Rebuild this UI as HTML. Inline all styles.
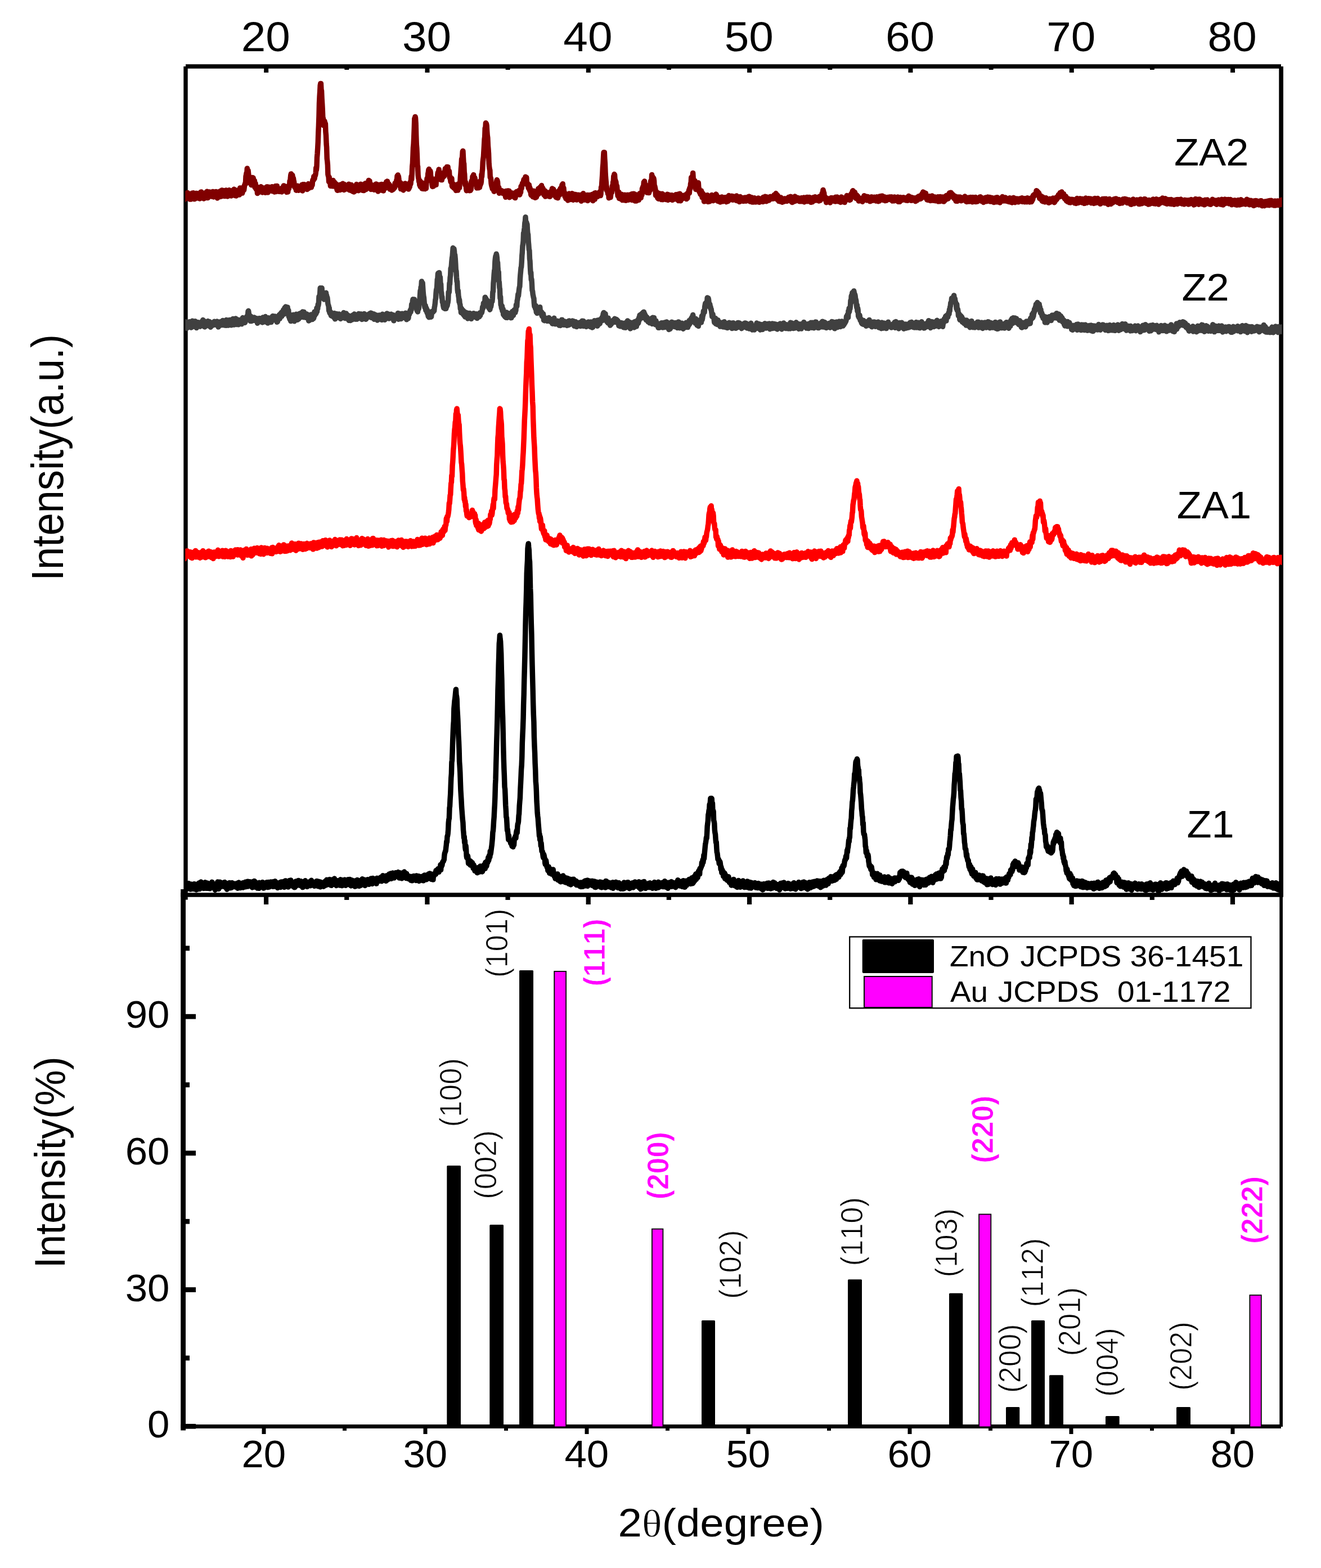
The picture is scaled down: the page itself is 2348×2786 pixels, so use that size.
<!DOCTYPE html>
<html lang="en"><head><meta charset="utf-8"><title>XRD patterns of Z1, ZA1, Z2 and ZA2</title>
<style>
html,body{margin:0;padding:0;background:#fff;}
body{width:2348px;height:2786px;overflow:hidden;}
svg{display:block;font-family:"Liberation Sans",sans-serif;}
svg text{font-kerning:none;font-variant-ligatures:none;white-space:pre;}
</style></head>
<body>
<svg width="2348" height="2786" viewBox="0 0 2348 2786">
<rect width="2348" height="2786" fill="#fff"/>
<rect x="326.30" y="118.00" width="7.40" height="1480.60" fill="#000"/>
<rect x="330.00" y="114.20" width="1947.00" height="7.60" fill="#000"/>
<rect x="2273.30" y="118.00" width="7.70" height="1472.00" fill="#000"/>
<rect x="321.20" y="1586.20" width="1959.80" height="7.60" fill="#000"/>
<rect x="321.20" y="1580.00" width="8.80" height="961.50" fill="#000"/>
<rect x="2274.30" y="1590.00" width="5.70" height="945.00" fill="#000"/>
<rect x="321.50" y="2531.00" width="1955.50" height="7.00" fill="#000"/>
<rect x="469.16" y="118.00" width="8.00" height="11.00" fill="#000"/>
<rect x="468.96" y="1590.00" width="8.20" height="17.00" fill="#000"/>
<rect x="465.50" y="2535.00" width="7.00" height="13.00" fill="#000"/>
<rect x="612.32" y="118.00" width="8.00" height="6.00" fill="#000"/>
<rect x="612.12" y="1590.00" width="8.20" height="9.00" fill="#000"/>
<rect x="609.00" y="2535.00" width="7.00" height="7.00" fill="#000"/>
<rect x="755.48" y="118.00" width="8.00" height="11.00" fill="#000"/>
<rect x="755.28" y="1590.00" width="8.20" height="17.00" fill="#000"/>
<rect x="752.50" y="2535.00" width="7.00" height="13.00" fill="#000"/>
<rect x="898.64" y="118.00" width="8.00" height="6.00" fill="#000"/>
<rect x="898.44" y="1590.00" width="8.20" height="9.00" fill="#000"/>
<rect x="896.00" y="2535.00" width="7.00" height="7.00" fill="#000"/>
<rect x="1041.80" y="118.00" width="8.00" height="11.00" fill="#000"/>
<rect x="1041.60" y="1590.00" width="8.20" height="17.00" fill="#000"/>
<rect x="1039.50" y="2535.00" width="7.00" height="13.00" fill="#000"/>
<rect x="1184.96" y="118.00" width="8.00" height="6.00" fill="#000"/>
<rect x="1184.76" y="1590.00" width="8.20" height="9.00" fill="#000"/>
<rect x="1183.00" y="2535.00" width="7.00" height="7.00" fill="#000"/>
<rect x="1328.12" y="118.00" width="8.00" height="11.00" fill="#000"/>
<rect x="1327.92" y="1590.00" width="8.20" height="17.00" fill="#000"/>
<rect x="1326.50" y="2535.00" width="7.00" height="13.00" fill="#000"/>
<rect x="1471.28" y="118.00" width="8.00" height="6.00" fill="#000"/>
<rect x="1471.08" y="1590.00" width="8.20" height="9.00" fill="#000"/>
<rect x="1470.00" y="2535.00" width="7.00" height="7.00" fill="#000"/>
<rect x="1614.44" y="118.00" width="8.00" height="11.00" fill="#000"/>
<rect x="1614.24" y="1590.00" width="8.20" height="17.00" fill="#000"/>
<rect x="1613.50" y="2535.00" width="7.00" height="13.00" fill="#000"/>
<rect x="1757.60" y="118.00" width="8.00" height="6.00" fill="#000"/>
<rect x="1757.40" y="1590.00" width="8.20" height="9.00" fill="#000"/>
<rect x="1757.00" y="2535.00" width="7.00" height="7.00" fill="#000"/>
<rect x="1900.76" y="118.00" width="8.00" height="11.00" fill="#000"/>
<rect x="1900.56" y="1590.00" width="8.20" height="17.00" fill="#000"/>
<rect x="1900.50" y="2535.00" width="7.00" height="13.00" fill="#000"/>
<rect x="2043.92" y="118.00" width="8.00" height="6.00" fill="#000"/>
<rect x="2043.72" y="1590.00" width="8.20" height="9.00" fill="#000"/>
<rect x="2044.00" y="2535.00" width="7.00" height="7.00" fill="#000"/>
<rect x="2187.08" y="118.00" width="8.00" height="11.00" fill="#000"/>
<rect x="2186.88" y="1590.00" width="8.20" height="17.00" fill="#000"/>
<rect x="2187.50" y="2535.00" width="7.00" height="13.00" fill="#000"/>
<rect x="326.00" y="2529.90" width="22.00" height="8.80" fill="#000"/>
<rect x="326.00" y="2408.55" width="11.00" height="8.80" fill="#000"/>
<rect x="326.00" y="2287.20" width="22.00" height="8.80" fill="#000"/>
<rect x="326.00" y="2165.85" width="11.00" height="8.80" fill="#000"/>
<rect x="326.00" y="2044.50" width="22.00" height="8.80" fill="#000"/>
<rect x="326.00" y="1923.15" width="11.00" height="8.80" fill="#000"/>
<rect x="326.00" y="1801.80" width="22.00" height="8.80" fill="#000"/>
<rect x="326.00" y="1680.45" width="11.00" height="8.80" fill="#000"/>
<rect x="794.3" y="2071.0" width="24.7" height="464.0" rx="1.5" fill="#000"/>
<rect x="870.3" y="2176.0" width="24.7" height="359.0" rx="1.5" fill="#000"/>
<rect x="923.0" y="1724.0" width="25.0" height="811.0" rx="1.5" fill="#000"/>
<rect x="1247.0" y="2346.0" width="24.0" height="189.0" rx="1.5" fill="#000"/>
<rect x="1507.0" y="2273.3" width="25.0" height="261.7" rx="1.5" fill="#000"/>
<rect x="1687.0" y="2297.7" width="24.3" height="237.3" rx="1.5" fill="#000"/>
<rect x="1788.0" y="2500.0" width="24.3" height="35.0" rx="1.5" fill="#000"/>
<rect x="1833.0" y="2346.0" width="24.0" height="189.0" rx="1.5" fill="#000"/>
<rect x="1865.0" y="2443.3" width="25.0" height="91.7" rx="1.5" fill="#000"/>
<rect x="1965.0" y="2516.0" width="24.7" height="19.0" rx="1.5" fill="#000"/>
<rect x="2091.0" y="2500.0" width="25.0" height="35.0" rx="1.5" fill="#000"/>
<rect x="985.2" y="1725.9" width="20.9" height="809.4" fill="#f0f" stroke="#000" stroke-width="1.8"/>
<rect x="1158.9" y="2183.6" width="19.5" height="351.7" fill="#f0f" stroke="#000" stroke-width="1.8"/>
<rect x="1740.1" y="2157.5" width="21.2" height="377.8" fill="#f0f" stroke="#000" stroke-width="1.8"/>
<rect x="2221.4" y="2301.2" width="20.4" height="234.1" fill="#f0f" stroke="#000" stroke-width="1.8"/>
<defs><clipPath id="cp"><rect x="329.3" y="122" width="1949.2" height="1478"/></clipPath></defs>
<g clip-path="url(#cp)">
<path d="M327.0,1568.2 327.6,1572.3 328.1,1573.9 328.7,1568.3 329.3,1570.5 329.8,1579.7 330.4,1570.2 331.0,1570.7 331.6,1579.8 332.1,1576.0 332.7,1573.1 333.3,1574.4 333.8,1575.7 334.4,1571.0 335.0,1569.5 335.5,1577.0 336.1,1576.0 336.7,1574.6 337.3,1578.3 337.8,1575.4 338.4,1580.1 339.0,1571.1 339.5,1574.6 340.1,1573.5 340.7,1571.9 341.2,1574.9 341.8,1571.5 342.4,1578.4 343.0,1579.5 343.5,1571.2 344.1,1574.9 344.7,1572.6 345.2,1570.5 345.8,1579.8 346.4,1574.9 346.9,1572.0 347.5,1578.1 348.1,1572.9 348.7,1580.9 349.2,1573.2 349.8,1571.0 350.4,1572.7 350.9,1574.1 351.5,1575.2 352.1,1579.7 352.6,1576.9 353.2,1572.6 353.8,1568.8 354.4,1570.3 354.9,1579.5 355.5,1573.1 356.1,1575.2 356.6,1567.6 357.2,1567.1 357.8,1576.2 358.3,1573.8 358.9,1571.3 359.5,1572.0 360.1,1569.8 360.6,1571.0 361.2,1569.5 361.8,1578.4 362.3,1573.6 362.9,1569.1 363.5,1575.4 364.0,1569.1 364.6,1567.7 365.2,1574.2 365.8,1578.3 366.3,1569.2 366.9,1578.3 367.5,1571.4 368.0,1570.1 368.6,1569.0 369.2,1571.8 369.7,1576.6 370.3,1574.2 370.9,1578.6 371.5,1571.6 372.0,1572.6 372.6,1571.5 373.2,1578.9 373.7,1577.9 374.3,1570.8 374.9,1571.8 375.4,1570.4 376.0,1575.2 376.6,1567.3 377.2,1567.6 377.7,1571.5 378.3,1570.0 378.9,1577.2 379.4,1576.7 380.0,1575.2 380.6,1577.2 381.1,1578.1 381.7,1579.5 382.3,1581.3 382.9,1572.4 383.4,1577.2 384.0,1571.1 384.6,1573.7 385.1,1576.6 385.7,1577.1 386.3,1575.1 386.8,1567.1 387.4,1571.3 388.0,1569.8 388.6,1579.5 389.1,1569.9 389.7,1570.5 390.3,1571.0 390.8,1567.2 391.4,1576.1 392.0,1573.5 392.5,1568.6 393.1,1572.7 393.7,1568.4 394.3,1574.7 394.8,1570.7 395.4,1568.8 396.0,1569.7 396.5,1574.5 397.1,1575.1 397.7,1571.0 398.2,1573.9 398.8,1570.0 399.4,1567.4 400.0,1569.6 400.5,1570.8 401.1,1577.1 401.7,1568.9 402.2,1569.4 402.8,1575.3 403.4,1580.2 403.9,1579.5 404.5,1576.9 405.1,1569.5 405.7,1577.5 406.2,1576.0 406.8,1569.8 407.4,1573.2 407.9,1568.5 408.5,1576.9 409.1,1576.3 409.6,1577.6 410.2,1577.5 410.8,1571.9 411.4,1577.2 411.9,1570.4 412.5,1568.6 413.1,1571.2 413.6,1572.5 414.2,1570.7 414.8,1575.0 415.3,1575.5 415.9,1571.6 416.5,1575.6 417.1,1572.1 417.6,1575.7 418.2,1570.1 418.8,1575.4 419.3,1571.0 419.9,1572.6 420.5,1574.0 421.0,1572.4 421.6,1569.8 422.2,1578.2 422.8,1568.8 423.3,1571.7 423.9,1574.2 424.5,1568.1 425.0,1569.0 425.6,1575.9 426.2,1575.8 426.7,1574.4 427.3,1577.6 427.9,1576.1 428.5,1570.9 429.0,1574.4 429.6,1570.6 430.2,1575.1 430.7,1571.1 431.3,1568.7 431.9,1577.1 432.4,1575.3 433.0,1576.0 433.6,1573.7 434.2,1575.9 434.7,1571.8 435.3,1572.9 435.9,1567.2 436.4,1572.8 437.0,1575.7 437.6,1574.4 438.1,1575.1 438.7,1571.2 439.3,1575.1 439.9,1566.2 440.4,1574.9 441.0,1569.4 441.6,1566.4 442.1,1572.2 442.7,1570.0 443.3,1569.4 443.8,1574.1 444.4,1566.7 445.0,1573.2 445.6,1572.1 446.1,1574.4 446.7,1574.4 447.3,1570.0 447.8,1573.7 448.4,1576.9 449.0,1568.6 449.5,1566.5 450.1,1566.7 450.7,1570.7 451.3,1576.1 451.8,1565.4 452.4,1576.0 453.0,1571.0 453.5,1566.8 454.1,1570.8 454.7,1569.0 455.2,1575.1 455.8,1573.5 456.4,1571.0 457.0,1570.9 457.5,1578.1 458.1,1577.2 458.7,1573.6 459.2,1572.9 459.8,1576.1 460.4,1578.3 460.9,1568.2 461.5,1569.4 462.1,1572.1 462.7,1574.3 463.2,1569.6 463.8,1569.3 464.4,1570.8 464.9,1572.1 465.5,1575.5 466.1,1573.9 466.6,1567.6 467.2,1568.2 467.8,1573.1 468.4,1577.9 468.9,1577.9 469.5,1571.1 470.1,1576.2 470.6,1576.1 471.2,1570.0 471.8,1574.1 472.3,1570.3 472.9,1568.3 473.5,1573.3 474.1,1567.8 474.6,1574.1 475.2,1575.6 475.8,1576.6 476.3,1571.2 476.9,1567.4 477.5,1576.0 478.0,1575.2 478.6,1576.0 479.2,1571.8 479.8,1572.7 480.3,1569.4 480.9,1567.1 481.5,1567.9 482.0,1572.2 482.6,1567.2 483.2,1570.9 483.7,1569.0 484.3,1568.9 484.9,1575.3 485.5,1566.7 486.0,1570.4 486.6,1566.5 487.2,1575.0 487.7,1569.7 488.3,1567.7 488.9,1565.7 489.4,1570.8 490.0,1569.4 490.6,1567.5 491.2,1567.7 491.7,1572.7 492.3,1575.2 492.9,1574.1 493.4,1577.5 494.0,1576.7 494.6,1576.2 495.1,1574.1 495.7,1570.4 496.3,1571.3 496.9,1570.4 497.4,1571.1 498.0,1567.7 498.6,1576.5 499.1,1570.0 499.7,1566.9 500.3,1571.0 500.8,1573.2 501.4,1569.6 502.0,1568.8 502.6,1572.5 503.1,1567.6 503.7,1566.6 504.3,1573.5 504.8,1572.9 505.4,1576.4 506.0,1570.6 506.5,1574.0 507.1,1564.9 507.7,1565.0 508.3,1571.7 508.8,1568.0 509.4,1566.5 510.0,1567.3 510.5,1570.1 511.1,1569.6 511.7,1572.3 512.2,1576.0 512.8,1570.1 513.4,1567.8 514.0,1571.7 514.5,1564.6 515.1,1568.3 515.7,1567.2 516.2,1567.8 516.8,1563.9 517.4,1569.4 517.9,1570.1 518.5,1571.6 519.1,1574.1 519.7,1567.8 520.2,1571.7 520.8,1569.8 521.4,1567.7 521.9,1575.5 522.5,1574.1 523.1,1576.7 523.6,1575.5 524.2,1576.6 524.8,1567.5 525.4,1566.0 525.9,1567.6 526.5,1569.6 527.1,1572.4 527.6,1569.5 528.2,1570.3 528.8,1573.0 529.3,1565.1 529.9,1571.7 530.5,1564.5 531.1,1566.7 531.6,1572.1 532.2,1571.8 532.8,1568.8 533.3,1567.6 533.9,1573.7 534.5,1567.9 535.0,1565.7 535.6,1568.5 536.2,1566.3 536.8,1575.2 537.3,1567.3 537.9,1576.6 538.5,1567.8 539.0,1568.8 539.6,1571.9 540.2,1568.7 540.7,1569.4 541.3,1566.2 541.9,1569.2 542.5,1564.8 543.0,1566.8 543.6,1574.6 544.2,1567.9 544.7,1568.2 545.3,1573.1 545.9,1575.4 546.4,1568.7 547.0,1569.6 547.6,1573.3 548.2,1574.0 548.7,1572.0 549.3,1567.0 549.9,1566.8 550.4,1573.1 551.0,1572.2 551.6,1573.8 552.1,1572.0 552.7,1567.7 553.3,1564.3 553.9,1572.9 554.4,1571.0 555.0,1569.9 555.6,1571.0 556.1,1567.5 556.7,1566.9 557.3,1569.7 557.8,1568.9 558.4,1571.6 559.0,1574.4 559.6,1573.3 560.1,1567.8 560.7,1567.2 561.3,1573.2 561.8,1567.3 562.4,1572.5 563.0,1565.4 563.5,1570.1 564.1,1571.2 564.7,1574.4 565.3,1574.8 565.8,1566.3 566.4,1571.3 567.0,1571.5 567.5,1566.4 568.1,1574.3 568.7,1571.3 569.2,1575.9 569.8,1567.2 570.4,1571.0 571.0,1568.8 571.5,1572.5 572.1,1572.2 572.7,1571.2 573.2,1568.9 573.8,1570.7 574.4,1569.2 574.9,1575.2 575.5,1570.5 576.1,1570.5 576.7,1567.5 577.2,1566.6 577.8,1573.4 578.4,1565.6 578.9,1571.5 579.5,1568.4 580.1,1572.6 580.6,1563.3 581.2,1571.9 581.8,1569.8 582.4,1567.6 582.9,1569.5 583.5,1570.1 584.1,1567.5 584.6,1569.7 585.2,1565.0 585.8,1562.5 586.3,1569.8 586.9,1567.6 587.5,1572.8 588.1,1565.8 588.6,1571.9 589.2,1573.3 589.8,1571.7 590.3,1572.0 590.9,1562.9 591.5,1563.1 592.0,1563.9 592.6,1565.6 593.2,1562.8 593.8,1562.9 594.3,1561.1 594.9,1571.2 595.5,1565.0 596.0,1568.6 596.6,1567.7 597.2,1572.1 597.7,1573.6 598.3,1569.1 598.9,1570.3 599.5,1564.8 600.0,1566.4 600.6,1565.6 601.2,1566.8 601.7,1567.4 602.3,1570.5 602.9,1567.8 603.4,1567.6 604.0,1573.0 604.6,1563.3 605.2,1562.8 605.7,1563.1 606.3,1572.1 606.9,1569.6 607.4,1570.9 608.0,1573.7 608.6,1565.2 609.1,1572.4 609.7,1563.8 610.3,1566.0 610.9,1567.3 611.4,1568.7 612.0,1563.4 612.6,1567.0 613.1,1563.1 613.7,1566.0 614.3,1573.3 614.8,1571.4 615.4,1566.8 616.0,1568.5 616.6,1569.7 617.1,1563.5 617.7,1571.2 618.3,1565.7 618.8,1562.7 619.4,1566.9 620.0,1567.6 620.5,1568.9 621.1,1569.0 621.7,1562.4 622.3,1569.5 622.8,1573.1 623.4,1570.5 624.0,1573.9 624.5,1568.6 625.1,1571.8 625.7,1564.0 626.2,1572.0 626.8,1566.3 627.4,1571.2 628.0,1565.3 628.5,1569.5 629.1,1572.8 629.7,1571.8 630.2,1571.1 630.8,1575.1 631.4,1565.1 631.9,1565.2 632.5,1570.1 633.1,1574.3 633.7,1570.8 634.2,1566.1 634.8,1563.5 635.4,1567.4 635.9,1568.2 636.5,1568.7 637.1,1570.9 637.6,1567.4 638.2,1574.4 638.8,1567.7 639.4,1565.4 639.9,1567.6 640.5,1573.5 641.1,1564.2 641.6,1565.0 642.2,1571.9 642.8,1565.3 643.3,1570.8 643.9,1561.7 644.5,1570.8 645.1,1563.1 645.6,1562.4 646.2,1569.0 646.8,1572.3 647.3,1572.6 647.9,1570.8 648.5,1572.8 649.0,1573.4 649.6,1568.2 650.2,1563.5 650.8,1571.6 651.3,1566.9 651.9,1566.3 652.5,1568.5 653.0,1563.3 653.6,1562.8 654.2,1565.1 654.7,1568.2 655.3,1569.4 655.9,1571.3 656.5,1569.4 657.0,1570.3 657.6,1566.6 658.2,1567.5 658.7,1566.1 659.3,1561.0 659.9,1561.5 660.4,1570.1 661.0,1564.1 661.6,1570.4 662.2,1566.2 662.7,1560.6 663.3,1566.7 663.9,1565.5 664.4,1561.6 665.0,1563.9 665.6,1564.4 666.1,1564.7 666.7,1568.6 667.3,1562.3 667.9,1565.1 668.4,1566.6 669.0,1570.1 669.6,1560.6 670.1,1560.3 670.7,1561.9 671.3,1562.7 671.8,1562.4 672.4,1561.4 673.0,1562.5 673.6,1562.0 674.1,1564.1 674.7,1565.4 675.3,1562.0 675.8,1559.8 676.4,1558.9 677.0,1560.5 677.5,1559.0 678.1,1561.9 678.7,1565.7 679.3,1563.6 679.8,1557.6 680.4,1555.7 681.0,1556.2 681.5,1560.6 682.1,1560.1 682.7,1564.0 683.2,1557.5 683.8,1559.4 684.4,1564.0 685.0,1562.3 685.5,1561.4 686.1,1565.3 686.7,1555.9 687.2,1556.2 687.8,1559.6 688.4,1559.0 688.9,1563.2 689.5,1563.0 690.1,1558.7 690.7,1560.7 691.2,1559.8 691.8,1553.0 692.4,1557.9 692.9,1554.5 693.5,1555.3 694.1,1553.3 694.6,1551.9 695.2,1561.2 695.8,1559.3 696.4,1559.1 696.9,1553.3 697.5,1554.2 698.1,1551.1 698.6,1555.7 699.2,1558.4 699.8,1558.0 700.3,1560.0 700.9,1552.8 701.5,1557.9 702.1,1551.4 702.6,1555.7 703.2,1550.7 703.8,1555.1 704.3,1554.8 704.9,1552.4 705.5,1552.3 706.0,1556.3 706.6,1553.6 707.2,1552.8 707.8,1549.6 708.3,1551.8 708.9,1558.4 709.5,1560.0 710.0,1553.3 710.6,1558.6 711.2,1558.3 711.7,1550.9 712.3,1551.7 712.9,1556.9 713.5,1553.2 714.0,1560.8 714.6,1554.1 715.2,1557.8 715.7,1557.0 716.3,1551.1 716.9,1558.2 717.4,1552.2 718.0,1549.7 718.6,1549.0 719.2,1553.4 719.7,1555.5 720.3,1551.7 720.9,1558.7 721.4,1553.2 722.0,1560.6 722.6,1552.3 723.1,1555.6 723.7,1555.0 724.3,1558.2 724.9,1556.9 725.4,1556.8 726.0,1561.5 726.6,1558.4 727.1,1558.9 727.7,1556.9 728.3,1562.0 728.8,1558.9 729.4,1561.9 730.0,1564.1 730.6,1561.0 731.1,1559.3 731.7,1557.6 732.3,1564.8 732.8,1563.1 733.4,1563.4 734.0,1556.9 734.5,1559.1 735.1,1563.8 735.7,1556.4 736.3,1562.7 736.8,1559.9 737.4,1556.8 738.0,1559.3 738.5,1556.6 739.1,1563.7 739.7,1564.4 740.2,1556.1 740.8,1558.4 741.4,1563.1 742.0,1556.4 742.5,1560.1 743.1,1563.5 743.7,1561.4 744.2,1556.7 744.8,1565.5 745.4,1563.5 745.9,1561.5 746.5,1559.1 747.1,1562.1 747.7,1560.3 748.2,1557.7 748.8,1558.1 749.4,1557.6 749.9,1559.3 750.5,1560.3 751.1,1564.5 751.6,1563.4 752.2,1562.9 752.8,1564.8 753.4,1555.8 753.9,1558.5 754.5,1554.9 755.1,1558.7 755.6,1555.2 756.2,1555.3 756.8,1555.8 757.3,1558.9 757.9,1562.7 758.5,1556.9 759.1,1561.9 759.6,1556.0 760.2,1556.4 760.8,1558.0 761.3,1553.1 761.9,1556.7 762.5,1558.0 763.0,1560.7 763.6,1552.1 764.2,1560.6 764.8,1558.2 765.3,1558.4 765.9,1552.6 766.5,1562.2 767.0,1555.7 767.6,1558.9 768.2,1558.8 768.7,1562.8 769.3,1559.1 769.9,1562.9 770.5,1553.4 771.0,1557.2 771.6,1555.2 772.2,1553.5 772.7,1554.0 773.3,1552.7 773.9,1550.1 774.4,1553.3 775.0,1546.7 775.6,1550.6 776.2,1549.5 776.7,1546.0 777.3,1549.2 777.9,1550.0 778.4,1543.8 779.0,1545.8 779.6,1543.3 780.1,1549.2 780.7,1542.9 781.3,1543.5 781.9,1544.5 782.4,1542.8 783.0,1536.5 783.6,1545.4 784.1,1536.4 784.7,1539.8 785.3,1534.5 785.8,1537.4 786.4,1533.2 787.0,1531.1 787.6,1531.0 788.1,1530.4 788.7,1528.6 789.3,1527.5 789.8,1520.5 790.4,1515.9 791.0,1514.8 791.5,1512.4 792.1,1512.1 792.7,1506.3 793.3,1501.3 793.8,1494.9 794.4,1496.2 795.0,1486.0 795.5,1485.3 796.1,1481.5 796.7,1474.4 797.2,1462.0 797.8,1456.2 798.4,1454.2 799.0,1435.6 799.5,1432.7 800.1,1419.9 800.7,1411.2 801.2,1397.5 801.8,1382.4 802.4,1374.5 802.9,1355.0 803.5,1350.8 804.1,1335.7 804.7,1316.1 805.2,1303.2 805.8,1288.9 806.4,1281.0 806.9,1259.1 807.5,1252.1 808.1,1244.9 808.6,1242.2 809.2,1236.4 809.8,1229.9 810.4,1224.9 810.9,1234.5 811.5,1237.2 812.1,1242.0 812.6,1257.9 813.2,1267.3 813.8,1278.3 814.3,1291.1 814.9,1307.4 815.5,1318.0 816.1,1333.4 816.6,1353.3 817.2,1361.7 817.8,1372.4 818.3,1387.9 818.9,1404.0 819.5,1414.1 820.0,1422.0 820.6,1434.2 821.2,1442.0 821.8,1450.3 822.3,1456.4 822.9,1461.3 823.5,1474.7 824.0,1479.6 824.6,1488.8 825.2,1486.5 825.7,1497.2 826.3,1493.9 826.9,1505.9 827.5,1510.1 828.0,1502.9 828.6,1509.6 829.2,1520.9 829.7,1524.1 830.3,1523.8 830.9,1520.3 831.4,1520.9 832.0,1525.3 832.6,1534.2 833.2,1533.4 833.7,1529.6 834.3,1533.5 834.9,1535.5 835.4,1529.5 836.0,1537.2 836.6,1531.7 837.1,1533.5 837.7,1531.2 838.3,1533.2 838.9,1538.2 839.4,1533.1 840.0,1539.5 840.6,1535.9 841.1,1542.8 841.7,1536.3 842.3,1537.8 842.8,1539.4 843.4,1543.8 844.0,1547.2 844.6,1547.2 845.1,1547.7 845.7,1547.7 846.3,1546.7 846.8,1545.0 847.4,1543.3 848.0,1550.7 848.5,1545.3 849.1,1547.9 849.7,1541.6 850.3,1545.3 850.8,1542.8 851.4,1545.7 852.0,1549.2 852.5,1543.6 853.1,1546.1 853.7,1539.0 854.2,1541.7 854.8,1542.1 855.4,1543.6 856.0,1540.9 856.5,1546.6 857.1,1548.9 857.7,1548.1 858.2,1539.2 858.8,1543.9 859.4,1541.5 859.9,1543.0 860.5,1536.4 861.1,1542.7 861.7,1538.3 862.2,1543.3 862.8,1532.2 863.4,1536.2 863.9,1536.4 864.5,1539.6 865.1,1537.8 865.6,1530.0 866.2,1529.7 866.8,1532.5 867.4,1527.0 867.9,1523.4 868.5,1529.2 869.1,1526.8 869.6,1519.8 870.2,1520.3 870.8,1522.6 871.3,1512.3 871.9,1517.6 872.5,1514.5 873.1,1509.6 873.6,1505.6 874.2,1501.5 874.8,1495.0 875.3,1489.8 875.9,1479.0 876.5,1476.0 877.0,1469.4 877.6,1458.8 878.2,1451.6 878.8,1438.6 879.3,1430.3 879.9,1415.7 880.5,1393.5 881.0,1384.7 881.6,1361.4 882.2,1339.9 882.7,1319.8 883.3,1300.2 883.9,1279.0 884.5,1252.3 885.0,1226.1 885.6,1208.0 886.2,1180.8 886.7,1166.4 887.3,1143.5 887.9,1137.7 888.4,1128.7 889.0,1134.9 889.6,1139.3 890.2,1151.7 890.7,1161.9 891.3,1189.5 891.9,1207.4 892.4,1235.2 893.0,1260.0 893.6,1275.0 894.1,1296.2 894.7,1326.1 895.3,1348.8 895.9,1366.8 896.4,1378.6 897.0,1398.2 897.6,1402.4 898.1,1414.6 898.7,1430.8 899.3,1439.7 899.8,1451.6 900.4,1452.9 901.0,1462.8 901.6,1475.4 902.1,1473.5 902.7,1479.2 903.3,1484.9 903.8,1491.8 904.4,1484.9 905.0,1492.7 905.5,1491.7 906.1,1493.5 906.7,1493.3 907.3,1496.6 907.8,1498.4 908.4,1496.8 909.0,1498.6 909.5,1500.6 910.1,1503.4 910.7,1500.3 911.2,1498.3 911.8,1504.7 912.4,1495.4 913.0,1493.1 913.5,1501.3 914.1,1492.3 914.7,1488.9 915.2,1489.3 915.8,1486.7 916.4,1485.0 916.9,1489.0 917.5,1481.0 918.1,1477.0 918.7,1475.0 919.2,1479.5 919.8,1469.3 920.4,1463.6 920.9,1463.2 921.5,1459.5 922.1,1449.0 922.6,1445.9 923.2,1432.2 923.8,1424.5 924.4,1417.3 924.9,1402.8 925.5,1391.8 926.1,1378.8 926.6,1366.9 927.2,1359.5 927.8,1344.0 928.3,1320.4 928.9,1306.1 929.5,1292.7 930.1,1275.7 930.6,1252.9 931.2,1234.0 931.8,1206.3 932.3,1189.0 932.9,1165.6 933.5,1137.1 934.0,1111.5 934.6,1085.7 935.2,1069.3 935.8,1046.9 936.3,1019.0 936.9,1006.4 937.5,996.1 938.0,974.9 938.6,969.4 939.2,966.0 939.7,972.0 940.3,977.5 940.9,993.1 941.5,998.1 942.0,1017.0 942.6,1045.2 943.2,1056.8 943.7,1082.6 944.3,1107.8 944.9,1127.3 945.4,1154.5 946.0,1181.7 946.6,1204.8 947.2,1227.0 947.7,1249.0 948.3,1269.4 948.9,1282.7 949.4,1308.4 950.0,1325.4 950.6,1337.9 951.1,1355.7 951.7,1368.2 952.3,1388.9 952.9,1395.2 953.4,1405.8 954.0,1423.8 954.6,1433.4 955.1,1443.5 955.7,1449.8 956.3,1454.5 956.8,1462.2 957.4,1469.6 958.0,1476.1 958.6,1485.4 959.1,1482.5 959.7,1492.2 960.3,1487.0 960.8,1491.8 961.4,1503.0 962.0,1498.2 962.5,1504.5 963.1,1512.4 963.7,1512.6 964.3,1513.4 964.8,1517.8 965.4,1522.7 966.0,1524.3 966.5,1518.0 967.1,1520.0 967.7,1524.1 968.2,1524.8 968.8,1533.7 969.4,1535.9 970.0,1529.1 970.5,1529.1 971.1,1532.9 971.7,1538.3 972.2,1540.8 972.8,1539.0 973.4,1542.6 973.9,1546.9 974.5,1547.5 975.1,1539.9 975.7,1547.5 976.2,1549.2 976.8,1551.5 977.4,1546.5 977.9,1543.9 978.5,1547.9 979.1,1547.3 979.6,1548.0 980.2,1552.9 980.8,1551.3 981.4,1551.6 981.9,1551.2 982.5,1545.5 983.1,1544.9 983.6,1549.3 984.2,1555.4 984.8,1554.3 985.3,1557.2 985.9,1556.2 986.5,1558.6 987.1,1561.1 987.6,1557.9 988.2,1559.7 988.8,1561.1 989.3,1559.0 989.9,1560.5 990.5,1552.9 991.0,1553.0 991.6,1563.5 992.2,1556.4 992.8,1558.0 993.3,1556.9 993.9,1563.2 994.5,1556.9 995.0,1565.8 995.6,1560.3 996.2,1565.2 996.7,1566.8 997.3,1564.1 997.9,1560.9 998.5,1562.8 999.0,1565.2 999.6,1563.5 1000.2,1558.4 1000.7,1555.9 1001.3,1566.2 1001.9,1564.0 1002.4,1558.2 1003.0,1564.0 1003.6,1564.5 1004.2,1561.2 1004.7,1567.8 1005.3,1560.6 1005.9,1559.8 1006.4,1562.0 1007.0,1562.5 1007.6,1568.6 1008.1,1566.1 1008.7,1560.5 1009.3,1564.1 1009.9,1561.5 1010.4,1568.7 1011.0,1570.4 1011.6,1561.7 1012.1,1565.8 1012.7,1562.7 1013.3,1563.2 1013.8,1568.8 1014.4,1571.9 1015.0,1564.5 1015.6,1567.7 1016.1,1565.2 1016.7,1562.5 1017.3,1568.6 1017.8,1563.4 1018.4,1569.0 1019.0,1569.3 1019.5,1562.3 1020.1,1567.5 1020.7,1563.4 1021.3,1569.9 1021.8,1564.9 1022.4,1569.6 1023.0,1569.3 1023.5,1568.9 1024.1,1565.4 1024.7,1572.6 1025.2,1567.2 1025.8,1571.6 1026.4,1568.2 1027.0,1568.0 1027.5,1571.4 1028.1,1567.9 1028.7,1573.4 1029.2,1570.3 1029.8,1573.6 1030.4,1572.8 1030.9,1575.0 1031.5,1568.7 1032.1,1568.0 1032.7,1575.6 1033.2,1571.0 1033.8,1570.5 1034.4,1573.6 1034.9,1568.1 1035.5,1575.2 1036.1,1572.3 1036.6,1570.8 1037.2,1566.7 1037.8,1572.5 1038.4,1573.9 1038.9,1572.6 1039.5,1574.1 1040.1,1564.9 1040.6,1572.1 1041.2,1573.5 1041.8,1569.0 1042.3,1564.4 1042.9,1569.5 1043.5,1566.2 1044.1,1564.0 1044.6,1574.4 1045.2,1573.4 1045.8,1571.5 1046.3,1572.8 1046.9,1571.8 1047.5,1569.2 1048.0,1565.3 1048.6,1567.2 1049.2,1569.8 1049.8,1570.8 1050.3,1567.7 1050.9,1565.6 1051.5,1567.7 1052.0,1565.5 1052.6,1573.5 1053.2,1565.5 1053.7,1567.6 1054.3,1569.8 1054.9,1567.2 1055.5,1570.4 1056.0,1571.4 1056.6,1565.9 1057.2,1576.1 1057.7,1571.7 1058.3,1567.3 1058.9,1576.6 1059.4,1567.1 1060.0,1572.9 1060.6,1569.9 1061.2,1567.4 1061.7,1569.2 1062.3,1571.0 1062.9,1570.5 1063.4,1569.6 1064.0,1571.6 1064.6,1571.7 1065.1,1574.4 1065.7,1568.9 1066.3,1567.1 1066.9,1575.9 1067.4,1567.3 1068.0,1573.4 1068.6,1572.2 1069.1,1576.9 1069.7,1568.3 1070.3,1576.4 1070.8,1568.0 1071.4,1568.6 1072.0,1574.2 1072.6,1569.0 1073.1,1573.9 1073.7,1575.2 1074.3,1569.0 1074.8,1576.2 1075.4,1571.6 1076.0,1577.0 1076.5,1565.6 1077.1,1565.6 1077.7,1571.0 1078.3,1566.7 1078.8,1568.7 1079.4,1575.1 1080.0,1569.8 1080.5,1567.5 1081.1,1568.9 1081.7,1573.5 1082.2,1575.6 1082.8,1575.3 1083.4,1572.2 1084.0,1569.8 1084.5,1568.7 1085.1,1569.7 1085.7,1569.2 1086.2,1576.9 1086.8,1571.4 1087.4,1568.4 1087.9,1574.6 1088.5,1572.7 1089.1,1567.8 1089.7,1578.3 1090.2,1577.9 1090.8,1570.3 1091.4,1576.6 1091.9,1572.0 1092.5,1573.9 1093.1,1573.0 1093.6,1573.5 1094.2,1570.2 1094.8,1567.3 1095.4,1575.4 1095.9,1571.8 1096.5,1571.7 1097.1,1575.0 1097.6,1574.0 1098.2,1577.4 1098.8,1571.0 1099.3,1574.3 1099.9,1568.5 1100.5,1568.9 1101.1,1570.3 1101.6,1570.6 1102.2,1572.8 1102.8,1570.9 1103.3,1579.3 1103.9,1573.8 1104.5,1573.3 1105.0,1579.0 1105.6,1577.7 1106.2,1577.5 1106.8,1579.2 1107.3,1577.2 1107.9,1572.1 1108.5,1579.0 1109.0,1568.0 1109.6,1577.4 1110.2,1572.1 1110.7,1571.5 1111.3,1573.2 1111.9,1572.3 1112.5,1577.1 1113.0,1576.0 1113.6,1575.0 1114.2,1569.1 1114.7,1571.5 1115.3,1567.7 1115.9,1575.4 1116.4,1567.8 1117.0,1572.0 1117.6,1569.5 1118.2,1577.7 1118.7,1578.7 1119.3,1571.5 1119.9,1578.0 1120.4,1570.1 1121.0,1576.2 1121.6,1571.0 1122.1,1573.0 1122.7,1574.5 1123.3,1571.2 1123.9,1568.8 1124.4,1572.6 1125.0,1574.6 1125.6,1577.0 1126.1,1569.8 1126.7,1569.5 1127.3,1567.9 1127.8,1569.4 1128.4,1567.1 1129.0,1569.2 1129.6,1574.3 1130.1,1567.6 1130.7,1574.0 1131.3,1570.4 1131.8,1569.8 1132.4,1572.5 1133.0,1571.6 1133.5,1571.3 1134.1,1567.4 1134.7,1572.5 1135.3,1576.6 1135.8,1566.8 1136.4,1567.9 1137.0,1573.9 1137.5,1571.3 1138.1,1571.1 1138.7,1579.8 1139.2,1572.3 1139.8,1579.1 1140.4,1575.2 1141.0,1567.9 1141.5,1569.9 1142.1,1567.4 1142.7,1572.4 1143.2,1576.5 1143.8,1566.9 1144.4,1566.5 1144.9,1566.5 1145.5,1569.4 1146.1,1568.6 1146.7,1578.1 1147.2,1576.4 1147.8,1578.4 1148.4,1574.4 1148.9,1577.1 1149.5,1575.8 1150.1,1571.1 1150.6,1575.2 1151.2,1571.0 1151.8,1572.8 1152.4,1576.6 1152.9,1569.7 1153.5,1569.2 1154.1,1576.8 1154.6,1572.3 1155.2,1568.8 1155.8,1570.2 1156.3,1569.5 1156.9,1576.2 1157.5,1571.5 1158.1,1576.8 1158.6,1572.1 1159.2,1577.9 1159.8,1578.2 1160.3,1574.6 1160.9,1576.9 1161.5,1570.9 1162.0,1568.5 1162.6,1573.7 1163.2,1567.5 1163.8,1572.5 1164.3,1574.6 1164.9,1576.6 1165.5,1578.2 1166.0,1570.5 1166.6,1577.9 1167.2,1573.5 1167.7,1574.6 1168.3,1572.5 1168.9,1576.5 1169.5,1570.3 1170.0,1567.3 1170.6,1577.1 1171.2,1575.6 1171.7,1576.2 1172.3,1569.1 1172.9,1569.4 1173.4,1573.6 1174.0,1574.7 1174.6,1573.8 1175.2,1573.1 1175.7,1573.9 1176.3,1568.4 1176.9,1572.1 1177.4,1571.0 1178.0,1575.6 1178.6,1572.9 1179.1,1574.7 1179.7,1573.8 1180.3,1575.6 1180.9,1574.7 1181.4,1565.7 1182.0,1572.8 1182.6,1569.7 1183.1,1567.1 1183.7,1571.9 1184.3,1576.4 1184.8,1576.1 1185.4,1568.2 1186.0,1569.2 1186.6,1574.9 1187.1,1578.3 1187.7,1568.6 1188.3,1568.7 1188.8,1575.2 1189.4,1573.8 1190.0,1575.3 1190.5,1567.7 1191.1,1570.7 1191.7,1574.2 1192.3,1569.8 1192.8,1570.4 1193.4,1566.6 1194.0,1575.3 1194.5,1571.1 1195.1,1569.7 1195.7,1572.3 1196.2,1574.2 1196.8,1574.2 1197.4,1568.5 1198.0,1571.8 1198.5,1569.7 1199.1,1575.3 1199.7,1575.4 1200.2,1574.5 1200.8,1576.7 1201.4,1573.0 1201.9,1573.1 1202.5,1567.5 1203.1,1572.5 1203.7,1566.9 1204.2,1569.7 1204.8,1563.7 1205.4,1568.8 1205.9,1572.1 1206.5,1573.0 1207.1,1572.8 1207.6,1569.6 1208.2,1574.1 1208.8,1574.1 1209.4,1573.0 1209.9,1570.3 1210.5,1567.5 1211.1,1571.8 1211.6,1565.9 1212.2,1575.2 1212.8,1568.4 1213.3,1567.0 1213.9,1568.5 1214.5,1564.7 1215.1,1574.0 1215.6,1576.0 1216.2,1575.1 1216.8,1572.5 1217.3,1576.2 1217.9,1568.6 1218.5,1569.2 1219.0,1565.3 1219.6,1567.7 1220.2,1573.1 1220.8,1569.6 1221.3,1567.7 1221.9,1567.0 1222.5,1567.7 1223.0,1567.3 1223.6,1565.6 1224.2,1566.6 1224.7,1562.5 1225.3,1566.9 1225.9,1570.0 1226.5,1565.1 1227.0,1565.4 1227.6,1570.4 1228.2,1561.5 1228.7,1561.0 1229.3,1567.4 1229.9,1559.7 1230.4,1562.2 1231.0,1569.7 1231.6,1564.4 1232.2,1568.7 1232.7,1567.3 1233.3,1557.7 1233.9,1558.8 1234.4,1565.4 1235.0,1557.7 1235.6,1557.6 1236.1,1562.7 1236.7,1553.0 1237.3,1562.4 1237.9,1558.9 1238.4,1559.0 1239.0,1551.9 1239.6,1558.3 1240.1,1559.4 1240.7,1553.3 1241.3,1548.5 1241.8,1548.1 1242.4,1546.6 1243.0,1549.5 1243.6,1552.9 1244.1,1542.9 1244.7,1545.1 1245.3,1543.3 1245.8,1541.3 1246.4,1540.6 1247.0,1538.5 1247.5,1532.5 1248.1,1536.7 1248.7,1531.2 1249.3,1527.2 1249.8,1532.1 1250.4,1527.3 1251.0,1519.1 1251.5,1525.4 1252.1,1517.8 1252.7,1511.3 1253.2,1505.9 1253.8,1499.6 1254.4,1497.0 1255.0,1492.6 1255.5,1487.9 1256.1,1489.4 1256.7,1478.7 1257.2,1467.8 1257.8,1463.5 1258.4,1457.9 1258.9,1447.6 1259.5,1445.5 1260.1,1439.9 1260.7,1439.1 1261.2,1429.3 1261.8,1428.6 1262.4,1425.9 1262.9,1418.5 1263.5,1421.9 1264.1,1420.5 1264.6,1418.4 1265.2,1419.1 1265.8,1433.3 1266.4,1427.2 1266.9,1440.7 1267.5,1439.8 1268.1,1441.8 1268.6,1457.3 1269.2,1459.7 1269.8,1463.1 1270.3,1474.6 1270.9,1479.6 1271.5,1482.4 1272.1,1491.5 1272.6,1497.2 1273.2,1496.1 1273.8,1507.3 1274.3,1514.3 1274.9,1516.1 1275.5,1521.1 1276.0,1526.5 1276.6,1527.4 1277.2,1526.6 1277.8,1530.2 1278.3,1534.6 1278.9,1535.0 1279.5,1530.5 1280.0,1532.2 1280.6,1536.5 1281.2,1544.7 1281.7,1540.1 1282.3,1543.3 1282.9,1551.0 1283.5,1545.3 1284.0,1548.7 1284.6,1549.8 1285.2,1548.4 1285.7,1556.9 1286.3,1552.6 1286.9,1554.0 1287.4,1553.8 1288.0,1551.6 1288.6,1561.2 1289.2,1553.9 1289.7,1556.2 1290.3,1561.7 1290.9,1558.3 1291.4,1561.2 1292.0,1560.5 1292.6,1564.2 1293.1,1562.2 1293.7,1563.7 1294.3,1558.2 1294.9,1557.7 1295.4,1562.8 1296.0,1566.0 1296.6,1568.1 1297.1,1566.2 1297.7,1563.7 1298.3,1566.0 1298.8,1567.4 1299.4,1569.1 1300.0,1573.0 1300.6,1566.2 1301.1,1567.4 1301.7,1571.0 1302.3,1564.4 1302.8,1562.9 1303.4,1572.0 1304.0,1562.4 1304.5,1572.6 1305.1,1573.3 1305.7,1565.2 1306.3,1572.0 1306.8,1566.8 1307.4,1566.7 1308.0,1574.9 1308.5,1574.1 1309.1,1573.3 1309.7,1570.1 1310.2,1576.4 1310.8,1571.7 1311.4,1575.9 1312.0,1572.5 1312.5,1564.6 1313.1,1573.0 1313.7,1573.8 1314.2,1574.6 1314.8,1572.2 1315.4,1566.3 1315.9,1576.2 1316.5,1571.7 1317.1,1569.3 1317.7,1569.4 1318.2,1569.0 1318.8,1575.2 1319.4,1566.3 1319.9,1575.3 1320.5,1565.0 1321.1,1572.8 1321.6,1567.5 1322.2,1571.0 1322.8,1567.8 1323.4,1576.6 1323.9,1569.0 1324.5,1573.1 1325.1,1575.0 1325.6,1573.0 1326.2,1569.7 1326.8,1569.8 1327.3,1576.5 1327.9,1567.0 1328.5,1565.9 1329.1,1576.3 1329.6,1576.6 1330.2,1574.7 1330.8,1572.3 1331.3,1577.7 1331.9,1571.8 1332.5,1567.5 1333.0,1572.5 1333.6,1573.9 1334.2,1574.4 1334.8,1578.0 1335.3,1568.2 1335.9,1576.2 1336.5,1572.1 1337.0,1574.6 1337.6,1571.5 1338.2,1570.8 1338.7,1571.6 1339.3,1570.9 1339.9,1572.4 1340.5,1573.5 1341.0,1575.8 1341.6,1568.6 1342.2,1572.1 1342.7,1573.5 1343.3,1577.0 1343.9,1576.0 1344.4,1575.1 1345.0,1575.7 1345.6,1573.2 1346.2,1577.3 1346.7,1577.6 1347.3,1574.6 1347.9,1569.5 1348.4,1573.0 1349.0,1571.4 1349.6,1570.8 1350.1,1572.1 1350.7,1577.9 1351.3,1572.4 1351.9,1573.3 1352.4,1572.9 1353.0,1571.0 1353.6,1575.7 1354.1,1574.3 1354.7,1580.3 1355.3,1576.8 1355.8,1580.9 1356.4,1579.8 1357.0,1575.8 1357.6,1570.5 1358.1,1572.6 1358.7,1571.4 1359.3,1578.1 1359.8,1571.0 1360.4,1576.2 1361.0,1572.2 1361.5,1573.5 1362.1,1576.2 1362.7,1570.8 1363.3,1569.3 1363.8,1570.7 1364.4,1578.4 1365.0,1574.3 1365.5,1571.5 1366.1,1569.9 1366.7,1568.9 1367.2,1571.6 1367.8,1574.5 1368.4,1572.6 1369.0,1576.8 1369.5,1579.1 1370.1,1574.7 1370.7,1572.6 1371.2,1578.1 1371.8,1570.3 1372.4,1577.4 1372.9,1578.0 1373.5,1575.9 1374.1,1567.6 1374.7,1572.6 1375.2,1575.1 1375.8,1570.9 1376.4,1576.0 1376.9,1568.7 1377.5,1573.1 1378.1,1573.9 1378.6,1577.3 1379.2,1574.1 1379.8,1573.2 1380.4,1578.6 1380.9,1571.6 1381.5,1573.5 1382.1,1573.7 1382.6,1576.5 1383.2,1572.3 1383.8,1574.3 1384.3,1576.5 1384.9,1577.3 1385.5,1581.1 1386.1,1575.7 1386.6,1576.5 1387.2,1569.6 1387.8,1570.6 1388.3,1570.3 1388.9,1569.2 1389.5,1572.4 1390.0,1569.1 1390.6,1573.8 1391.2,1577.0 1391.8,1568.5 1392.3,1570.2 1392.9,1572.9 1393.5,1567.9 1394.0,1569.3 1394.6,1574.6 1395.2,1573.2 1395.7,1579.0 1396.3,1575.2 1396.9,1577.3 1397.5,1572.7 1398.0,1573.1 1398.6,1578.3 1399.2,1575.4 1399.7,1578.4 1400.3,1570.8 1400.9,1569.4 1401.4,1576.1 1402.0,1570.6 1402.6,1570.6 1403.2,1574.6 1403.7,1578.2 1404.3,1574.7 1404.9,1579.2 1405.4,1576.2 1406.0,1574.4 1406.6,1577.1 1407.1,1577.5 1407.7,1571.7 1408.3,1575.8 1408.9,1570.2 1409.4,1578.5 1410.0,1573.4 1410.6,1569.9 1411.1,1568.5 1411.7,1571.3 1412.3,1573.5 1412.8,1577.4 1413.4,1579.1 1414.0,1579.9 1414.6,1576.5 1415.1,1577.9 1415.7,1576.2 1416.3,1572.6 1416.8,1571.3 1417.4,1573.1 1418.0,1576.3 1418.5,1569.8 1419.1,1574.9 1419.7,1567.4 1420.3,1568.8 1420.8,1574.2 1421.4,1576.1 1422.0,1576.0 1422.5,1575.3 1423.1,1570.6 1423.7,1578.7 1424.2,1574.1 1424.8,1577.3 1425.4,1577.5 1426.0,1569.6 1426.5,1577.6 1427.1,1567.4 1427.7,1573.5 1428.2,1569.1 1428.8,1567.1 1429.4,1572.4 1429.9,1568.5 1430.5,1575.2 1431.1,1572.1 1431.7,1570.7 1432.2,1568.6 1432.8,1576.8 1433.4,1576.5 1433.9,1578.6 1434.5,1573.9 1435.1,1579.9 1435.6,1569.7 1436.2,1579.3 1436.8,1577.1 1437.4,1568.9 1437.9,1578.1 1438.5,1567.7 1439.1,1575.2 1439.6,1569.9 1440.2,1575.4 1440.8,1577.3 1441.3,1569.0 1441.9,1570.6 1442.5,1576.1 1443.1,1570.9 1443.6,1567.3 1444.2,1567.1 1444.8,1568.1 1445.3,1568.1 1445.9,1570.7 1446.5,1574.9 1447.0,1570.8 1447.6,1566.3 1448.2,1568.8 1448.8,1569.8 1449.3,1568.7 1449.9,1570.4 1450.5,1570.6 1451.0,1571.7 1451.6,1570.0 1452.2,1564.9 1452.7,1573.5 1453.3,1573.8 1453.9,1573.2 1454.5,1569.7 1455.0,1574.4 1455.6,1565.5 1456.2,1572.9 1456.7,1571.7 1457.3,1573.4 1457.9,1566.7 1458.4,1576.7 1459.0,1565.7 1459.6,1566.5 1460.2,1569.6 1460.7,1569.9 1461.3,1565.4 1461.9,1567.0 1462.4,1574.3 1463.0,1567.6 1463.6,1568.6 1464.1,1564.2 1464.7,1568.6 1465.3,1569.7 1465.9,1570.2 1466.4,1564.9 1467.0,1566.7 1467.6,1569.8 1468.1,1573.0 1468.7,1570.3 1469.3,1564.1 1469.8,1562.7 1470.4,1566.1 1471.0,1568.5 1471.6,1565.2 1472.1,1570.1 1472.7,1562.9 1473.3,1560.4 1473.8,1565.0 1474.4,1566.2 1475.0,1559.6 1475.5,1560.8 1476.1,1560.0 1476.7,1557.6 1477.3,1565.3 1477.8,1558.6 1478.4,1565.0 1479.0,1565.1 1479.5,1563.9 1480.1,1558.5 1480.7,1558.7 1481.2,1564.2 1481.8,1563.8 1482.4,1557.9 1483.0,1556.8 1483.5,1563.9 1484.1,1557.6 1484.7,1561.3 1485.2,1555.1 1485.8,1555.6 1486.4,1562.3 1486.9,1554.0 1487.5,1555.9 1488.1,1556.4 1488.7,1558.6 1489.2,1554.2 1489.8,1558.1 1490.4,1553.5 1490.9,1558.5 1491.5,1550.8 1492.1,1551.9 1492.6,1549.4 1493.2,1548.5 1493.8,1554.2 1494.4,1549.4 1494.9,1551.3 1495.5,1552.0 1496.1,1542.1 1496.6,1547.9 1497.2,1549.6 1497.8,1541.5 1498.3,1537.7 1498.9,1540.2 1499.5,1538.9 1500.1,1538.5 1500.6,1535.4 1501.2,1530.9 1501.8,1527.8 1502.3,1528.1 1502.9,1527.3 1503.5,1521.7 1504.0,1520.4 1504.6,1524.3 1505.2,1516.5 1505.8,1510.5 1506.3,1513.8 1506.9,1507.2 1507.5,1505.4 1508.0,1500.1 1508.6,1492.8 1509.2,1495.3 1509.7,1488.6 1510.3,1488.1 1510.9,1471.5 1511.5,1472.1 1512.0,1464.3 1512.6,1457.6 1513.2,1453.7 1513.7,1440.9 1514.3,1435.1 1514.9,1424.7 1515.4,1422.5 1516.0,1414.3 1516.6,1403.2 1517.2,1398.3 1517.7,1392.8 1518.3,1387.1 1518.9,1375.1 1519.4,1374.4 1520.0,1371.0 1520.6,1361.0 1521.1,1354.3 1521.7,1352.2 1522.3,1356.9 1522.9,1353.0 1523.4,1348.5 1524.0,1350.2 1524.6,1360.6 1525.1,1363.1 1525.7,1368.4 1526.3,1367.8 1526.8,1383.1 1527.4,1380.9 1528.0,1388.2 1528.6,1393.3 1529.1,1408.0 1529.7,1411.9 1530.3,1419.0 1530.8,1425.7 1531.4,1437.2 1532.0,1442.1 1532.5,1449.1 1533.1,1451.9 1533.7,1465.4 1534.3,1462.5 1534.8,1477.1 1535.4,1482.0 1536.0,1482.1 1536.5,1482.6 1537.1,1488.0 1537.7,1492.2 1538.2,1503.7 1538.8,1504.7 1539.4,1515.3 1540.0,1510.8 1540.5,1512.5 1541.1,1518.0 1541.7,1522.0 1542.2,1520.2 1542.8,1518.4 1543.4,1521.6 1543.9,1530.3 1544.5,1533.6 1545.1,1538.8 1545.7,1536.5 1546.2,1540.7 1546.8,1541.0 1547.4,1540.9 1547.9,1544.9 1548.5,1539.4 1549.1,1540.5 1549.6,1544.1 1550.2,1546.8 1550.8,1554.5 1551.4,1554.1 1551.9,1553.8 1552.5,1556.1 1553.1,1551.1 1553.6,1558.7 1554.2,1558.9 1554.8,1552.1 1555.3,1555.4 1555.9,1555.3 1556.5,1554.3 1557.1,1562.8 1557.6,1556.7 1558.2,1561.9 1558.8,1558.6 1559.3,1552.3 1559.9,1556.3 1560.5,1560.2 1561.0,1555.4 1561.6,1555.8 1562.2,1554.4 1562.8,1559.3 1563.3,1564.9 1563.9,1554.9 1564.5,1564.9 1565.0,1562.1 1565.6,1558.7 1566.2,1565.7 1566.7,1565.9 1567.3,1566.1 1567.9,1560.3 1568.5,1559.9 1569.0,1563.0 1569.6,1565.7 1570.2,1560.0 1570.7,1560.2 1571.3,1561.6 1571.9,1557.9 1572.4,1567.7 1573.0,1563.8 1573.6,1564.0 1574.2,1565.9 1574.7,1567.8 1575.3,1566.6 1575.9,1562.2 1576.4,1561.4 1577.0,1561.5 1577.6,1563.5 1578.1,1566.6 1578.7,1558.1 1579.3,1565.4 1579.9,1568.8 1580.4,1566.2 1581.0,1564.5 1581.6,1565.7 1582.1,1566.2 1582.7,1567.3 1583.3,1561.1 1583.8,1569.1 1584.4,1566.3 1585.0,1563.1 1585.6,1570.2 1586.1,1564.3 1586.7,1568.4 1587.3,1562.9 1587.8,1565.4 1588.4,1561.0 1589.0,1561.7 1589.5,1562.1 1590.1,1559.9 1590.7,1566.7 1591.3,1563.2 1591.8,1562.0 1592.4,1564.4 1593.0,1560.2 1593.5,1562.3 1594.1,1563.4 1594.7,1563.2 1595.2,1560.3 1595.8,1563.3 1596.4,1564.1 1597.0,1564.3 1597.5,1558.7 1598.1,1562.2 1598.7,1560.9 1599.2,1556.8 1599.8,1550.2 1600.4,1555.1 1600.9,1553.0 1601.5,1554.0 1602.1,1548.2 1602.7,1555.7 1603.2,1548.3 1603.8,1555.7 1604.4,1547.9 1604.9,1550.4 1605.5,1553.1 1606.1,1549.0 1606.6,1551.4 1607.2,1554.8 1607.8,1556.2 1608.4,1558.3 1608.9,1554.5 1609.5,1559.3 1610.1,1552.1 1610.6,1556.4 1611.2,1558.7 1611.8,1551.6 1612.3,1559.7 1612.9,1560.3 1613.5,1557.8 1614.1,1562.3 1614.6,1560.7 1615.2,1558.2 1615.8,1564.3 1616.3,1562.0 1616.9,1564.4 1617.5,1567.9 1618.0,1564.6 1618.6,1565.5 1619.2,1566.3 1619.8,1560.1 1620.3,1559.0 1620.9,1560.0 1621.5,1565.0 1622.0,1571.1 1622.6,1565.7 1623.2,1571.4 1623.7,1564.7 1624.3,1563.3 1624.9,1566.5 1625.5,1571.7 1626.0,1573.3 1626.6,1568.5 1627.2,1566.6 1627.7,1570.9 1628.3,1566.6 1628.9,1565.1 1629.4,1570.2 1630.0,1562.8 1630.6,1570.6 1631.2,1572.3 1631.7,1562.5 1632.3,1569.9 1632.9,1561.8 1633.4,1563.7 1634.0,1566.6 1634.6,1575.4 1635.1,1565.2 1635.7,1569.6 1636.3,1568.6 1636.9,1564.4 1637.4,1572.3 1638.0,1563.3 1638.6,1570.6 1639.1,1566.8 1639.7,1569.3 1640.3,1570.4 1640.8,1570.1 1641.4,1571.7 1642.0,1572.4 1642.6,1564.1 1643.1,1563.6 1643.7,1567.7 1644.3,1563.8 1644.8,1568.8 1645.4,1572.3 1646.0,1567.1 1646.5,1562.9 1647.1,1562.1 1647.7,1566.8 1648.3,1569.1 1648.8,1569.4 1649.4,1568.3 1650.0,1564.4 1650.5,1568.8 1651.1,1565.0 1651.7,1566.6 1652.2,1559.0 1652.8,1564.3 1653.4,1559.4 1654.0,1560.2 1654.5,1560.5 1655.1,1563.1 1655.7,1557.2 1656.2,1564.4 1656.8,1561.1 1657.4,1559.6 1657.9,1568.3 1658.5,1565.2 1659.1,1561.4 1659.7,1558.4 1660.2,1561.7 1660.8,1564.1 1661.4,1560.4 1661.9,1557.4 1662.5,1554.5 1663.1,1555.0 1663.6,1560.6 1664.2,1553.1 1664.8,1562.1 1665.4,1559.3 1665.9,1555.6 1666.5,1552.9 1667.1,1555.8 1667.6,1561.0 1668.2,1551.6 1668.8,1553.0 1669.3,1551.1 1669.9,1558.3 1670.5,1560.9 1671.1,1556.6 1671.6,1553.7 1672.2,1560.9 1672.8,1555.9 1673.3,1558.7 1673.9,1550.5 1674.5,1546.3 1675.0,1543.9 1675.6,1544.7 1676.2,1545.3 1676.8,1548.0 1677.3,1543.7 1677.9,1540.5 1678.5,1546.6 1679.0,1541.9 1679.6,1540.9 1680.2,1541.6 1680.7,1537.7 1681.3,1530.4 1681.9,1535.6 1682.5,1524.0 1683.0,1521.6 1683.6,1524.9 1684.2,1522.1 1684.7,1516.0 1685.3,1518.6 1685.9,1508.6 1686.4,1508.7 1687.0,1509.3 1687.6,1503.7 1688.2,1495.1 1688.7,1491.7 1689.3,1484.6 1689.9,1474.0 1690.4,1475.0 1691.0,1466.0 1691.6,1459.2 1692.1,1456.2 1692.7,1444.2 1693.3,1433.7 1693.9,1426.6 1694.4,1420.0 1695.0,1415.7 1695.6,1407.6 1696.1,1394.7 1696.7,1387.7 1697.3,1374.6 1697.8,1373.3 1698.4,1367.9 1699.0,1354.7 1699.6,1354.1 1700.1,1344.1 1700.7,1348.7 1701.3,1345.9 1701.8,1348.4 1702.4,1343.3 1703.0,1346.3 1703.5,1356.7 1704.1,1357.7 1704.7,1373.7 1705.3,1374.6 1705.8,1381.7 1706.4,1389.7 1707.0,1403.9 1707.5,1404.8 1708.1,1417.4 1708.7,1423.0 1709.2,1437.7 1709.8,1437.2 1710.4,1446.2 1711.0,1459.7 1711.5,1463.4 1712.1,1465.4 1712.7,1481.7 1713.2,1481.1 1713.8,1487.8 1714.4,1497.1 1714.9,1499.6 1715.5,1508.0 1716.1,1508.7 1716.7,1508.9 1717.2,1515.1 1717.8,1521.3 1718.4,1517.6 1718.9,1524.0 1719.5,1525.6 1720.1,1529.2 1720.6,1528.0 1721.2,1529.1 1721.8,1536.3 1722.4,1540.4 1722.9,1538.1 1723.5,1536.0 1724.1,1544.9 1724.6,1542.9 1725.2,1545.6 1725.8,1540.2 1726.3,1549.2 1726.9,1545.9 1727.5,1552.9 1728.1,1546.4 1728.6,1544.1 1729.2,1547.8 1729.8,1552.9 1730.3,1553.9 1730.9,1556.8 1731.5,1551.1 1732.0,1556.3 1732.6,1550.8 1733.2,1552.4 1733.8,1550.4 1734.3,1557.1 1734.9,1560.6 1735.5,1558.1 1736.0,1558.9 1736.6,1563.0 1737.2,1557.0 1737.7,1560.0 1738.3,1563.0 1738.9,1556.3 1739.5,1562.0 1740.0,1555.0 1740.6,1558.3 1741.2,1556.2 1741.7,1559.2 1742.3,1557.1 1742.9,1556.2 1743.4,1561.2 1744.0,1561.0 1744.6,1564.8 1745.2,1556.5 1745.7,1563.0 1746.3,1556.1 1746.9,1561.1 1747.4,1556.2 1748.0,1566.8 1748.6,1562.8 1749.1,1563.3 1749.7,1559.5 1750.3,1568.2 1750.9,1562.9 1751.4,1565.6 1752.0,1568.5 1752.6,1569.2 1753.1,1564.5 1753.7,1561.0 1754.3,1571.7 1754.8,1564.0 1755.4,1562.0 1756.0,1568.6 1756.6,1571.4 1757.1,1562.3 1757.7,1561.4 1758.3,1568.0 1758.8,1566.5 1759.4,1562.7 1760.0,1562.7 1760.5,1568.3 1761.1,1560.1 1761.7,1563.1 1762.3,1565.3 1762.8,1570.9 1763.4,1566.6 1764.0,1564.0 1764.5,1571.6 1765.1,1570.5 1765.7,1563.8 1766.2,1570.5 1766.8,1569.8 1767.4,1567.6 1768.0,1570.3 1768.5,1569.2 1769.1,1571.6 1769.7,1572.4 1770.2,1564.7 1770.8,1561.5 1771.4,1564.4 1771.9,1567.2 1772.5,1563.7 1773.1,1562.7 1773.7,1563.2 1774.2,1570.0 1774.8,1568.2 1775.4,1561.5 1775.9,1563.6 1776.5,1563.7 1777.1,1562.4 1777.6,1571.0 1778.2,1565.0 1778.8,1568.1 1779.4,1566.0 1779.9,1562.5 1780.5,1562.0 1781.1,1569.3 1781.6,1568.3 1782.2,1566.3 1782.8,1562.2 1783.3,1563.6 1783.9,1565.2 1784.5,1561.7 1785.1,1565.6 1785.6,1568.3 1786.2,1560.7 1786.8,1568.9 1787.3,1564.0 1787.9,1569.1 1788.5,1568.9 1789.0,1558.3 1789.6,1564.3 1790.2,1558.4 1790.8,1561.7 1791.3,1563.8 1791.9,1558.1 1792.5,1559.4 1793.0,1558.9 1793.6,1552.6 1794.2,1554.2 1794.7,1551.5 1795.3,1552.3 1795.9,1554.1 1796.5,1545.8 1797.0,1548.9 1797.6,1547.0 1798.2,1544.5 1798.7,1548.5 1799.3,1541.8 1799.9,1545.6 1800.4,1536.0 1801.0,1538.7 1801.6,1533.5 1802.2,1540.4 1802.7,1537.4 1803.3,1531.7 1803.9,1533.2 1804.4,1530.1 1805.0,1538.5 1805.6,1538.9 1806.1,1539.6 1806.7,1537.4 1807.3,1534.4 1807.9,1537.1 1808.4,1539.6 1809.0,1536.8 1809.6,1532.9 1810.1,1538.9 1810.7,1535.3 1811.3,1538.4 1811.8,1545.8 1812.4,1543.8 1813.0,1545.9 1813.6,1544.6 1814.1,1544.4 1814.7,1540.1 1815.3,1546.1 1815.8,1540.6 1816.4,1540.5 1817.0,1545.1 1817.5,1543.9 1818.1,1550.0 1818.7,1544.8 1819.3,1541.2 1819.8,1549.0 1820.4,1550.5 1821.0,1547.8 1821.5,1550.0 1822.1,1547.1 1822.7,1547.3 1823.2,1542.8 1823.8,1542.8 1824.4,1542.2 1825.0,1534.0 1825.5,1535.6 1826.1,1537.7 1826.7,1532.6 1827.2,1536.8 1827.8,1525.4 1828.4,1523.8 1828.9,1523.5 1829.5,1521.0 1830.1,1523.6 1830.7,1511.2 1831.2,1516.7 1831.8,1514.4 1832.4,1499.9 1832.9,1505.6 1833.5,1497.9 1834.1,1487.8 1834.6,1491.4 1835.2,1479.0 1835.8,1477.3 1836.4,1470.8 1836.9,1467.3 1837.5,1459.4 1838.1,1456.6 1838.6,1453.2 1839.2,1446.4 1839.8,1441.2 1840.3,1439.5 1840.9,1433.3 1841.5,1419.7 1842.1,1421.8 1842.6,1418.3 1843.2,1415.8 1843.8,1406.8 1844.3,1410.2 1844.9,1404.1 1845.5,1401.7 1846.0,1401.4 1846.6,1400.2 1847.2,1404.2 1847.8,1404.3 1848.3,1411.1 1848.9,1410.2 1849.5,1409.4 1850.0,1414.6 1850.6,1421.8 1851.2,1427.2 1851.7,1436.2 1852.3,1439.2 1852.9,1440.0 1853.5,1447.1 1854.0,1455.1 1854.6,1463.2 1855.2,1467.5 1855.7,1472.0 1856.3,1472.9 1856.9,1481.3 1857.4,1482.0 1858.0,1483.9 1858.6,1495.2 1859.2,1497.4 1859.7,1504.6 1860.3,1505.3 1860.9,1502.7 1861.4,1502.7 1862.0,1509.1 1862.6,1509.5 1863.1,1512.5 1863.7,1511.5 1864.3,1508.0 1864.9,1508.2 1865.4,1511.4 1866.0,1514.0 1866.6,1509.6 1867.1,1509.7 1867.7,1510.2 1868.3,1515.5 1868.8,1515.0 1869.4,1510.8 1870.0,1504.6 1870.6,1512.8 1871.1,1509.9 1871.7,1501.4 1872.3,1495.9 1872.8,1499.1 1873.4,1493.2 1874.0,1493.5 1874.5,1491.9 1875.1,1489.4 1875.7,1494.6 1876.3,1487.2 1876.8,1482.4 1877.4,1485.8 1878.0,1487.4 1878.5,1478.7 1879.1,1481.1 1879.7,1479.8 1880.2,1483.8 1880.8,1480.6 1881.4,1481.1 1882.0,1490.4 1882.5,1490.6 1883.1,1491.1 1883.7,1492.4 1884.2,1497.3 1884.8,1489.2 1885.4,1495.3 1885.9,1499.5 1886.5,1496.6 1887.1,1509.4 1887.7,1509.4 1888.2,1513.8 1888.8,1519.6 1889.4,1518.6 1889.9,1525.5 1890.5,1522.4 1891.1,1531.3 1891.6,1529.1 1892.2,1534.4 1892.8,1531.0 1893.4,1535.4 1893.9,1538.5 1894.5,1540.3 1895.1,1547.3 1895.6,1544.5 1896.2,1551.3 1896.8,1544.6 1897.3,1547.5 1897.9,1548.6 1898.5,1550.2 1899.1,1556.1 1899.6,1551.8 1900.2,1558.7 1900.8,1561.0 1901.3,1561.6 1901.9,1552.3 1902.5,1555.4 1903.0,1558.9 1903.6,1555.5 1904.2,1564.2 1904.8,1562.6 1905.3,1562.8 1905.9,1560.3 1906.5,1560.2 1907.0,1570.2 1907.6,1568.0 1908.2,1566.3 1908.7,1573.5 1909.3,1566.1 1909.9,1570.2 1910.5,1566.8 1911.0,1574.5 1911.6,1574.6 1912.2,1566.8 1912.7,1572.0 1913.3,1573.1 1913.9,1565.1 1914.4,1573.9 1915.0,1567.7 1915.6,1572.9 1916.2,1571.7 1916.7,1570.0 1917.3,1572.8 1917.9,1565.7 1918.4,1570.9 1919.0,1570.8 1919.6,1572.6 1920.1,1574.3 1920.7,1575.5 1921.3,1574.3 1921.9,1574.6 1922.4,1568.6 1923.0,1565.5 1923.6,1572.0 1924.1,1565.8 1924.7,1576.6 1925.3,1571.9 1925.8,1569.9 1926.4,1567.5 1927.0,1576.4 1927.6,1576.0 1928.1,1567.9 1928.7,1575.2 1929.3,1568.0 1929.8,1575.8 1930.4,1574.8 1931.0,1576.5 1931.5,1570.7 1932.1,1577.4 1932.7,1576.6 1933.3,1576.6 1933.8,1571.3 1934.4,1569.7 1935.0,1573.3 1935.5,1575.4 1936.1,1576.5 1936.7,1573.2 1937.2,1575.1 1937.8,1575.5 1938.4,1574.8 1939.0,1576.1 1939.5,1571.0 1940.1,1569.6 1940.7,1569.8 1941.2,1575.4 1941.8,1577.7 1942.4,1571.2 1942.9,1575.9 1943.5,1575.8 1944.1,1579.3 1944.7,1569.3 1945.2,1575.6 1945.8,1577.8 1946.4,1578.1 1946.9,1571.3 1947.5,1571.7 1948.1,1575.7 1948.6,1577.0 1949.2,1569.5 1949.8,1577.0 1950.4,1568.5 1950.9,1567.6 1951.5,1567.4 1952.1,1568.0 1952.6,1568.5 1953.2,1570.2 1953.8,1570.8 1954.3,1578.5 1954.9,1576.9 1955.5,1569.4 1956.1,1570.9 1956.6,1576.9 1957.2,1576.1 1957.8,1574.4 1958.3,1574.1 1958.9,1577.4 1959.5,1574.3 1960.0,1576.4 1960.6,1567.7 1961.2,1567.8 1961.8,1568.1 1962.3,1572.2 1962.9,1571.9 1963.5,1575.1 1964.0,1575.2 1964.6,1573.9 1965.2,1567.9 1965.7,1564.1 1966.3,1572.9 1966.9,1573.4 1967.5,1563.4 1968.0,1563.2 1968.6,1564.8 1969.2,1566.1 1969.7,1569.2 1970.3,1565.5 1970.9,1566.8 1971.4,1567.7 1972.0,1559.6 1972.6,1560.1 1973.2,1566.4 1973.7,1560.5 1974.3,1558.9 1974.9,1558.5 1975.4,1557.6 1976.0,1558.9 1976.6,1560.2 1977.1,1557.2 1977.7,1557.1 1978.3,1556.3 1978.9,1552.3 1979.4,1557.9 1980.0,1551.3 1980.6,1551.7 1981.1,1552.4 1981.7,1554.4 1982.3,1558.1 1982.8,1554.1 1983.4,1558.6 1984.0,1558.9 1984.6,1561.0 1985.1,1568.3 1985.7,1565.5 1986.3,1558.7 1986.8,1568.3 1987.4,1564.5 1988.0,1570.4 1988.5,1562.0 1989.1,1572.6 1989.7,1570.3 1990.3,1570.6 1990.8,1569.5 1991.4,1574.8 1992.0,1573.3 1992.5,1569.9 1993.1,1568.5 1993.7,1569.1 1994.2,1570.4 1994.8,1567.3 1995.4,1568.1 1996.0,1573.2 1996.5,1574.7 1997.1,1576.3 1997.7,1568.0 1998.2,1569.6 1998.8,1568.0 1999.4,1573.1 1999.9,1569.8 2000.5,1570.8 2001.1,1568.9 2001.7,1577.8 2002.2,1580.2 2002.8,1571.5 2003.4,1575.4 2003.9,1578.4 2004.5,1578.8 2005.1,1572.4 2005.6,1568.7 2006.2,1576.7 2006.8,1576.3 2007.4,1572.9 2007.9,1579.6 2008.5,1576.7 2009.1,1575.1 2009.6,1575.6 2010.2,1570.5 2010.8,1580.9 2011.3,1581.6 2011.9,1572.4 2012.5,1578.9 2013.1,1576.5 2013.6,1574.2 2014.2,1576.2 2014.8,1570.7 2015.3,1572.9 2015.9,1572.3 2016.5,1576.1 2017.0,1574.5 2017.6,1569.1 2018.2,1572.1 2018.8,1573.1 2019.3,1572.5 2019.9,1577.0 2020.5,1577.6 2021.0,1579.4 2021.6,1579.9 2022.2,1575.2 2022.7,1576.1 2023.3,1576.7 2023.9,1575.8 2024.5,1570.6 2025.0,1571.5 2025.6,1579.2 2026.2,1578.5 2026.7,1573.3 2027.3,1571.9 2027.9,1576.3 2028.4,1579.7 2029.0,1570.8 2029.6,1577.4 2030.2,1572.5 2030.7,1572.9 2031.3,1575.1 2031.9,1572.4 2032.4,1579.5 2033.0,1572.6 2033.6,1577.3 2034.1,1579.2 2034.7,1581.1 2035.3,1578.2 2035.9,1573.5 2036.4,1581.1 2037.0,1582.1 2037.6,1571.0 2038.1,1579.8 2038.7,1575.5 2039.3,1574.6 2039.8,1572.3 2040.4,1570.4 2041.0,1576.3 2041.6,1580.3 2042.1,1570.9 2042.7,1576.4 2043.3,1576.6 2043.8,1579.1 2044.4,1568.8 2045.0,1573.1 2045.5,1571.0 2046.1,1573.6 2046.7,1580.3 2047.3,1571.8 2047.8,1573.6 2048.4,1578.9 2049.0,1578.6 2049.5,1581.2 2050.1,1572.9 2050.7,1572.6 2051.2,1574.4 2051.8,1577.2 2052.4,1578.6 2053.0,1571.3 2053.5,1576.2 2054.1,1571.1 2054.7,1579.4 2055.2,1575.4 2055.8,1571.6 2056.4,1580.2 2056.9,1577.1 2057.5,1580.8 2058.1,1578.8 2058.7,1582.9 2059.2,1575.9 2059.8,1582.8 2060.4,1571.0 2060.9,1573.8 2061.5,1570.4 2062.1,1579.4 2062.6,1568.8 2063.2,1572.3 2063.8,1573.8 2064.4,1570.6 2064.9,1580.3 2065.5,1578.7 2066.1,1576.0 2066.6,1574.2 2067.2,1571.3 2067.8,1570.5 2068.3,1572.8 2068.9,1574.8 2069.5,1577.5 2070.1,1570.7 2070.6,1577.7 2071.2,1575.4 2071.8,1569.8 2072.3,1568.5 2072.9,1568.7 2073.5,1579.4 2074.0,1571.4 2074.6,1569.1 2075.2,1575.5 2075.8,1571.0 2076.3,1578.3 2076.9,1575.3 2077.5,1578.0 2078.0,1575.7 2078.6,1576.7 2079.2,1573.6 2079.7,1572.9 2080.3,1576.6 2080.9,1569.6 2081.5,1568.1 2082.0,1577.3 2082.6,1570.6 2083.2,1571.6 2083.7,1568.6 2084.3,1571.7 2084.9,1571.9 2085.4,1565.3 2086.0,1572.1 2086.6,1567.0 2087.2,1569.5 2087.7,1568.0 2088.3,1571.5 2088.9,1565.9 2089.4,1569.4 2090.0,1569.6 2090.6,1564.4 2091.1,1566.5 2091.7,1567.4 2092.3,1560.5 2092.9,1563.5 2093.4,1568.6 2094.0,1566.4 2094.6,1566.1 2095.1,1561.7 2095.7,1557.3 2096.3,1560.2 2096.8,1554.0 2097.4,1555.8 2098.0,1550.9 2098.6,1552.4 2099.1,1552.5 2099.7,1548.3 2100.3,1547.7 2100.8,1556.1 2101.4,1557.1 2102.0,1547.8 2102.5,1549.8 2103.1,1552.9 2103.7,1546.4 2104.3,1545.0 2104.8,1554.2 2105.4,1547.1 2106.0,1554.6 2106.5,1549.7 2107.1,1550.4 2107.7,1549.9 2108.2,1549.8 2108.8,1547.7 2109.4,1552.8 2110.0,1551.9 2110.5,1557.6 2111.1,1552.4 2111.7,1552.4 2112.2,1560.8 2112.8,1558.0 2113.4,1555.1 2113.9,1561.7 2114.5,1556.5 2115.1,1562.0 2115.7,1562.1 2116.2,1558.8 2116.8,1563.3 2117.4,1561.9 2117.9,1556.8 2118.5,1567.4 2119.1,1559.5 2119.6,1561.4 2120.2,1567.9 2120.8,1566.9 2121.4,1562.4 2121.9,1568.9 2122.5,1563.1 2123.1,1572.0 2123.6,1571.0 2124.2,1572.1 2124.8,1571.4 2125.3,1569.4 2125.9,1573.1 2126.5,1571.2 2127.1,1574.3 2127.6,1565.7 2128.2,1567.5 2128.8,1565.7 2129.3,1569.4 2129.9,1570.9 2130.5,1567.3 2131.0,1576.5 2131.6,1571.0 2132.2,1567.4 2132.8,1575.2 2133.3,1567.7 2133.9,1566.1 2134.5,1568.7 2135.0,1570.4 2135.6,1567.8 2136.2,1569.1 2136.7,1567.3 2137.3,1570.1 2137.9,1575.3 2138.5,1570.2 2139.0,1573.9 2139.6,1570.5 2140.2,1570.4 2140.7,1573.3 2141.3,1570.6 2141.9,1575.6 2142.4,1578.2 2143.0,1575.1 2143.6,1572.8 2144.2,1573.8 2144.7,1579.1 2145.3,1572.3 2145.9,1572.8 2146.4,1576.4 2147.0,1571.2 2147.6,1578.8 2148.1,1570.4 2148.7,1569.2 2149.3,1574.4 2149.9,1576.6 2150.4,1577.7 2151.0,1575.6 2151.6,1581.1 2152.1,1581.8 2152.7,1577.7 2153.3,1581.3 2153.8,1581.1 2154.4,1573.9 2155.0,1573.4 2155.6,1573.3 2156.1,1572.7 2156.7,1580.2 2157.3,1575.5 2157.8,1572.4 2158.4,1576.4 2159.0,1572.8 2159.5,1569.2 2160.1,1572.9 2160.7,1577.6 2161.3,1576.6 2161.8,1580.1 2162.4,1574.5 2163.0,1579.8 2163.5,1573.1 2164.1,1574.2 2164.7,1577.5 2165.2,1575.1 2165.8,1572.9 2166.4,1579.9 2167.0,1582.6 2167.5,1576.0 2168.1,1575.9 2168.7,1573.8 2169.2,1577.3 2169.8,1574.9 2170.4,1572.2 2170.9,1580.0 2171.5,1570.3 2172.1,1579.4 2172.7,1579.6 2173.2,1571.1 2173.8,1570.6 2174.4,1578.2 2174.9,1577.8 2175.5,1573.2 2176.1,1575.6 2176.6,1571.2 2177.2,1574.2 2177.8,1575.1 2178.4,1579.0 2178.9,1573.3 2179.5,1571.3 2180.1,1580.7 2180.6,1577.5 2181.2,1571.9 2181.8,1570.7 2182.3,1574.0 2182.9,1572.3 2183.5,1573.7 2184.1,1573.0 2184.6,1580.6 2185.2,1579.8 2185.8,1578.6 2186.3,1572.6 2186.9,1580.9 2187.5,1576.8 2188.0,1582.1 2188.6,1572.8 2189.2,1573.7 2189.8,1573.5 2190.3,1581.1 2190.9,1582.4 2191.5,1579.7 2192.0,1574.3 2192.6,1571.1 2193.2,1581.2 2193.7,1572.4 2194.3,1579.4 2194.9,1575.1 2195.5,1572.6 2196.0,1572.3 2196.6,1567.8 2197.2,1568.0 2197.7,1576.6 2198.3,1572.5 2198.9,1575.6 2199.4,1572.1 2200.0,1573.8 2200.6,1577.3 2201.2,1575.8 2201.7,1573.4 2202.3,1574.6 2202.9,1581.0 2203.4,1570.6 2204.0,1574.6 2204.6,1571.0 2205.1,1570.2 2205.7,1569.2 2206.3,1577.1 2206.9,1573.6 2207.4,1574.7 2208.0,1572.1 2208.6,1573.1 2209.1,1573.5 2209.7,1577.1 2210.3,1568.3 2210.8,1568.7 2211.4,1568.3 2212.0,1571.4 2212.6,1571.4 2213.1,1573.6 2213.7,1576.7 2214.3,1575.7 2214.8,1568.1 2215.4,1570.3 2216.0,1572.4 2216.5,1575.8 2217.1,1572.9 2217.7,1568.7 2218.3,1567.0 2218.8,1569.4 2219.4,1571.6 2220.0,1566.2 2220.5,1568.8 2221.1,1567.6 2221.7,1573.7 2222.2,1570.5 2222.8,1573.5 2223.4,1568.3 2224.0,1567.9 2224.5,1573.2 2225.1,1566.6 2225.7,1567.6 2226.2,1560.6 2226.8,1561.2 2227.4,1561.8 2227.9,1561.3 2228.5,1563.6 2229.1,1568.9 2229.7,1561.4 2230.2,1559.3 2230.8,1564.5 2231.4,1561.6 2231.9,1557.5 2232.5,1565.2 2233.1,1567.1 2233.6,1565.0 2234.2,1565.7 2234.8,1565.4 2235.4,1568.0 2235.9,1558.6 2236.5,1566.8 2237.1,1564.6 2237.6,1567.1 2238.2,1565.9 2238.8,1563.0 2239.3,1565.1 2239.9,1561.6 2240.5,1563.7 2241.1,1562.3 2241.6,1565.4 2242.2,1570.0 2242.8,1564.4 2243.3,1570.6 2243.9,1563.3 2244.5,1569.1 2245.0,1565.1 2245.6,1570.1 2246.2,1572.1 2246.8,1573.3 2247.3,1571.9 2247.9,1564.7 2248.5,1570.8 2249.0,1566.5 2249.6,1569.0 2250.2,1565.0 2250.7,1568.5 2251.3,1571.1 2251.9,1565.3 2252.5,1571.2 2253.0,1575.2 2253.6,1571.9 2254.2,1570.1 2254.7,1568.8 2255.3,1571.6 2255.9,1570.6 2256.4,1573.9 2257.0,1574.6 2257.6,1574.4 2258.2,1575.3 2258.7,1575.9 2259.3,1575.4 2259.9,1570.1 2260.4,1573.7 2261.0,1571.7 2261.6,1568.6 2262.1,1575.5 2262.7,1571.0 2263.3,1578.0 2263.9,1576.8 2264.4,1571.5 2265.0,1574.9 2265.6,1575.5 2266.1,1571.4 2266.7,1578.4 2267.3,1578.3 2267.8,1568.8 2268.4,1576.1 2269.0,1573.4 2269.6,1578.5 2270.1,1580.0 2270.7,1575.3 2271.3,1576.7 2271.8,1573.7 2272.4,1577.2 2273.0,1581.1 2273.5,1573.9 2274.1,1570.5 2274.7,1580.9 2275.3,1570.1 2275.8,1577.2 2276.4,1575.9 2277.0,1574.2 2277.5,1580.5 2278.1,1571.7 2278.7,1573.2 2279.2,1579.6 2279.8,1570.0 2280.4,1572.4 2281.0,1571.1 2281.5,1573.8" fill="none" stroke="#000" stroke-width="9.5" stroke-linejoin="round" stroke-linecap="butt"/>
<path d="M327.0,984.6 327.6,992.9 328.1,983.7 328.7,982.7 329.3,983.6 329.8,981.2 330.4,985.7 331.0,979.2 331.6,988.5 332.1,988.5 332.7,979.1 333.3,985.6 333.8,980.6 334.4,982.0 335.0,983.4 335.5,983.4 336.1,983.3 336.7,988.6 337.3,981.1 337.8,980.7 338.4,986.7 339.0,990.3 339.5,990.4 340.1,990.4 340.7,981.4 341.2,991.6 341.8,988.1 342.4,990.5 343.0,984.9 343.5,982.5 344.1,989.0 344.7,987.2 345.2,988.1 345.8,980.9 346.4,979.6 346.9,986.8 347.5,978.4 348.1,989.8 348.7,981.0 349.2,986.7 349.8,984.6 350.4,983.4 350.9,981.4 351.5,988.4 352.1,989.8 352.6,987.8 353.2,986.7 353.8,988.4 354.4,986.8 354.9,987.3 355.5,991.2 356.1,983.4 356.6,981.8 357.2,989.5 357.8,989.1 358.3,983.8 358.9,987.8 359.5,987.2 360.1,989.4 360.6,978.8 361.2,987.5 361.8,982.2 362.3,981.5 362.9,984.7 363.5,984.9 364.0,983.8 364.6,982.9 365.2,990.8 365.8,989.9 366.3,981.5 366.9,984.8 367.5,988.5 368.0,989.1 368.6,989.3 369.2,980.3 369.7,987.6 370.3,985.8 370.9,979.3 371.5,981.6 372.0,981.8 372.6,980.5 373.2,987.5 373.7,983.0 374.3,987.6 374.9,980.8 375.4,990.5 376.0,988.8 376.6,990.0 377.2,988.1 377.7,986.7 378.3,983.8 378.9,992.5 379.4,983.1 380.0,987.1 380.6,981.8 381.1,980.9 381.7,987.0 382.3,988.7 382.9,983.6 383.4,987.5 384.0,988.5 384.6,985.0 385.1,987.7 385.7,981.7 386.3,979.5 386.8,979.6 387.4,977.3 388.0,978.1 388.6,986.3 389.1,988.7 389.7,979.4 390.3,987.5 390.8,988.1 391.4,986.7 392.0,984.0 392.5,983.0 393.1,985.0 393.7,979.8 394.3,986.0 394.8,979.7 395.4,978.2 396.0,988.9 396.5,979.5 397.1,980.9 397.7,979.4 398.2,978.9 398.8,980.2 399.4,989.2 400.0,986.3 400.5,983.0 401.1,978.3 401.7,987.8 402.2,983.8 402.8,988.1 403.4,984.3 403.9,979.8 404.5,980.2 405.1,988.9 405.7,982.6 406.2,981.8 406.8,984.6 407.4,982.6 407.9,982.4 408.5,988.1 409.1,983.9 409.6,989.5 410.2,978.6 410.8,980.5 411.4,987.1 411.9,982.0 412.5,986.1 413.1,982.8 413.6,983.1 414.2,989.1 414.8,982.6 415.3,985.0 415.9,984.8 416.5,978.5 417.1,978.9 417.6,980.1 418.2,977.1 418.8,984.9 419.3,983.5 419.9,980.7 420.5,981.5 421.0,977.1 421.6,981.2 422.2,986.1 422.8,976.8 423.3,984.2 423.9,985.0 424.5,979.8 425.0,980.6 425.6,978.9 426.2,982.9 426.7,980.1 427.3,977.0 427.9,978.9 428.5,978.7 429.0,987.8 429.6,984.2 430.2,983.6 430.7,984.5 431.3,986.1 431.9,991.2 432.4,984.4 433.0,980.1 433.6,980.6 434.2,977.5 434.7,978.7 435.3,982.5 435.9,978.0 436.4,984.4 437.0,985.5 437.6,975.6 438.1,983.4 438.7,981.9 439.3,986.3 439.9,977.8 440.4,985.3 441.0,980.8 441.6,979.1 442.1,979.1 442.7,986.0 443.3,979.8 443.8,978.7 444.4,983.7 445.0,983.9 445.6,985.1 446.1,975.8 446.7,987.8 447.3,984.4 447.8,986.8 448.4,985.2 449.0,985.8 449.5,985.3 450.1,982.3 450.7,976.0 451.3,982.0 451.8,974.2 452.4,977.6 453.0,976.7 453.5,976.5 454.1,981.9 454.7,982.1 455.2,981.9 455.8,978.5 456.4,980.5 457.0,973.6 457.5,976.7 458.1,982.2 458.7,978.4 459.2,978.9 459.8,982.4 460.4,976.1 460.9,983.8 461.5,982.6 462.1,975.0 462.7,979.0 463.2,984.4 463.8,976.3 464.4,972.9 464.9,974.6 465.5,979.0 466.1,974.1 466.6,973.8 467.2,975.1 467.8,983.2 468.4,984.8 468.9,974.9 469.5,979.6 470.1,980.9 470.6,973.6 471.2,982.8 471.8,981.3 472.3,980.8 472.9,978.6 473.5,982.2 474.1,982.2 474.6,975.5 475.2,974.2 475.8,982.2 476.3,976.1 476.9,975.3 477.5,981.8 478.0,979.9 478.6,980.7 479.2,981.5 479.8,981.8 480.3,979.9 480.9,983.3 481.5,980.9 482.0,981.5 482.6,981.8 483.2,972.9 483.7,983.7 484.3,980.7 484.9,972.6 485.5,979.8 486.0,979.6 486.6,977.5 487.2,975.7 487.7,978.9 488.3,974.9 488.9,977.7 489.4,980.0 490.0,980.4 490.6,977.4 491.2,980.3 491.7,979.7 492.3,979.7 492.9,976.5 493.4,973.2 494.0,971.2 494.6,977.1 495.1,975.6 495.7,968.8 496.3,970.1 496.9,979.8 497.4,977.9 498.0,980.3 498.6,973.9 499.1,975.0 499.7,976.7 500.3,974.4 500.8,969.9 501.4,974.7 502.0,976.6 502.6,972.7 503.1,978.8 503.7,978.6 504.3,967.9 504.8,972.4 505.4,974.7 506.0,972.7 506.5,979.6 507.1,972.1 507.7,979.2 508.3,972.8 508.8,979.2 509.4,970.2 510.0,978.9 510.5,978.8 511.1,975.6 511.7,972.4 512.2,973.2 512.8,970.0 513.4,971.8 514.0,974.5 514.5,974.3 515.1,973.4 515.7,977.7 516.2,969.6 516.8,975.5 517.4,975.6 517.9,969.0 518.5,965.0 519.1,973.6 519.7,972.7 520.2,970.3 520.8,976.1 521.4,968.9 521.9,974.6 522.5,973.7 523.1,970.5 523.6,974.8 524.2,966.8 524.8,969.4 525.4,972.1 525.9,978.2 526.5,976.2 527.1,968.0 527.6,974.1 528.2,967.5 528.8,969.7 529.3,975.7 529.9,967.4 530.5,965.2 531.1,974.6 531.6,966.1 532.2,970.3 532.8,966.5 533.3,974.7 533.9,972.8 534.5,973.7 535.0,965.9 535.6,969.2 536.2,975.3 536.8,969.1 537.3,967.3 537.9,976.3 538.5,969.4 539.0,972.9 539.6,967.7 540.2,966.4 540.7,970.5 541.3,972.2 541.9,973.7 542.5,975.6 543.0,970.6 543.6,972.3 544.2,967.8 544.7,974.5 545.3,968.4 545.9,965.3 546.4,967.6 547.0,967.0 547.6,972.8 548.2,967.0 548.7,970.0 549.3,968.1 549.9,973.2 550.4,967.3 551.0,966.6 551.6,967.1 552.1,966.0 552.7,971.4 553.3,970.1 553.9,972.4 554.4,965.8 555.0,973.9 555.6,971.0 556.1,975.9 556.7,975.8 557.3,964.1 557.8,970.4 558.4,966.0 559.0,971.0 559.6,964.5 560.1,969.8 560.7,972.2 561.3,970.1 561.8,966.9 562.4,972.0 563.0,974.1 563.5,966.3 564.1,964.1 564.7,967.0 565.3,966.8 565.8,966.4 566.4,972.8 567.0,964.9 567.5,963.3 568.1,963.4 568.7,969.2 569.2,966.6 569.8,968.6 570.4,970.2 571.0,965.1 571.5,962.3 572.1,971.1 572.7,962.7 573.2,964.2 573.8,960.7 574.4,967.4 574.9,962.9 575.5,968.5 576.1,964.6 576.7,969.0 577.2,963.1 577.8,968.1 578.4,959.8 578.9,963.0 579.5,962.8 580.1,964.3 580.6,962.6 581.2,964.0 581.8,972.0 582.4,961.4 582.9,965.7 583.5,970.1 584.1,964.7 584.6,964.2 585.2,964.7 585.8,959.9 586.3,960.6 586.9,966.8 587.5,966.3 588.1,962.8 588.6,966.1 589.2,971.5 589.8,961.7 590.3,968.3 590.9,970.1 591.5,966.0 592.0,962.1 592.6,965.7 593.2,968.8 593.8,966.7 594.3,968.2 594.9,964.1 595.5,958.5 596.0,959.0 596.6,968.2 597.2,965.4 597.7,969.8 598.3,969.1 598.9,966.5 599.5,965.7 600.0,967.6 600.6,960.4 601.2,962.6 601.7,965.6 602.3,964.0 602.9,959.6 603.4,961.3 604.0,959.0 604.6,967.3 605.2,959.9 605.7,965.5 606.3,960.1 606.9,959.9 607.4,959.3 608.0,963.3 608.6,969.0 609.1,969.8 609.7,965.4 610.3,968.8 610.9,966.0 611.4,969.2 612.0,960.3 612.6,960.6 613.1,960.4 613.7,966.4 614.3,967.7 614.8,966.0 615.4,968.4 616.0,957.5 616.6,959.3 617.1,959.0 617.7,960.9 618.3,961.3 618.8,961.9 619.4,959.4 620.0,963.9 620.5,965.5 621.1,967.4 621.7,959.7 622.3,969.2 622.8,960.3 623.4,961.4 624.0,966.3 624.5,957.0 625.1,960.1 625.7,959.6 626.2,957.3 626.8,957.5 627.4,960.1 628.0,964.0 628.5,958.4 629.1,959.9 629.7,968.0 630.2,962.1 630.8,959.3 631.4,967.1 631.9,963.7 632.5,959.2 633.1,964.8 633.7,955.5 634.2,959.2 634.8,967.4 635.4,963.5 635.9,959.3 636.5,959.6 637.1,969.5 637.6,962.8 638.2,968.4 638.8,961.1 639.4,965.4 639.9,961.7 640.5,968.7 641.1,967.5 641.6,968.6 642.2,962.1 642.8,964.5 643.3,956.7 643.9,963.3 644.5,965.6 645.1,966.4 645.6,961.3 646.2,958.2 646.8,965.0 647.3,966.6 647.9,964.0 648.5,960.0 649.0,962.9 649.6,961.2 650.2,969.2 650.8,967.0 651.3,965.9 651.9,966.7 652.5,969.2 653.0,968.5 653.6,957.6 654.2,958.5 654.7,970.2 655.3,963.7 655.9,968.5 656.5,964.7 657.0,969.6 657.6,968.9 658.2,963.2 658.7,967.8 659.3,959.4 659.9,959.5 660.4,964.6 661.0,968.7 661.6,968.7 662.2,956.8 662.7,959.2 663.3,956.6 663.9,965.6 664.4,960.7 665.0,960.7 665.6,963.0 666.1,963.1 666.7,965.2 667.3,960.1 667.9,960.1 668.4,962.0 669.0,960.1 669.6,969.7 670.1,960.0 670.7,968.3 671.3,961.3 671.8,969.5 672.4,960.3 673.0,965.9 673.6,968.0 674.1,960.3 674.7,966.1 675.3,965.1 675.8,968.3 676.4,963.0 677.0,964.5 677.5,959.3 678.1,967.1 678.7,970.4 679.3,968.4 679.8,968.5 680.4,967.8 681.0,961.5 681.5,969.6 682.1,959.6 682.7,964.5 683.2,969.0 683.8,968.4 684.4,963.1 685.0,963.6 685.5,966.1 686.1,963.9 686.7,960.9 687.2,962.2 687.8,967.6 688.4,964.6 688.9,965.7 689.5,962.0 690.1,961.5 690.7,972.1 691.2,971.3 691.8,966.7 692.4,968.0 692.9,967.9 693.5,965.4 694.1,961.6 694.6,960.8 695.2,969.0 695.8,969.6 696.4,960.6 696.9,969.2 697.5,960.3 698.1,970.6 698.6,966.2 699.2,965.5 699.8,970.5 700.3,966.7 700.9,963.7 701.5,967.4 702.1,963.3 702.6,962.3 703.2,969.1 703.8,969.9 704.3,967.7 704.9,963.7 705.5,971.7 706.0,969.3 706.6,961.5 707.2,966.9 707.8,966.0 708.3,960.0 708.9,967.7 709.5,960.9 710.0,967.7 710.6,966.8 711.2,969.0 711.7,961.6 712.3,964.8 712.9,966.9 713.5,959.6 714.0,962.0 714.6,967.1 715.2,970.4 715.7,965.6 716.3,971.8 716.9,972.5 717.4,965.9 718.0,965.8 718.6,968.9 719.2,968.4 719.7,970.8 720.3,961.9 720.9,969.9 721.4,964.5 722.0,962.6 722.6,963.8 723.1,962.0 723.7,963.2 724.3,969.2 724.9,965.0 725.4,971.4 726.0,968.9 726.6,965.7 727.1,965.3 727.7,967.1 728.3,967.1 728.8,963.7 729.4,960.7 730.0,967.3 730.6,964.7 731.1,970.0 731.7,970.9 732.3,963.8 732.8,963.1 733.4,969.9 734.0,967.6 734.5,967.8 735.1,962.1 735.7,970.6 736.3,967.1 736.8,965.8 737.4,963.4 738.0,969.1 738.5,970.3 739.1,965.6 739.7,968.9 740.2,967.1 740.8,961.3 741.4,965.2 742.0,958.5 742.5,963.5 743.1,964.4 743.7,968.0 744.2,969.0 744.8,967.3 745.4,960.7 745.9,961.5 746.5,966.6 747.1,968.7 747.7,958.5 748.2,966.3 748.8,962.3 749.4,963.9 749.9,956.3 750.5,960.8 751.1,967.2 751.6,958.4 752.2,959.2 752.8,961.3 753.4,962.3 753.9,957.2 754.5,957.5 755.1,963.3 755.6,956.2 756.2,958.9 756.8,959.4 757.3,959.4 757.9,967.7 758.5,959.7 759.1,964.6 759.6,958.8 760.2,967.0 760.8,964.6 761.3,958.2 761.9,962.4 762.5,962.2 763.0,956.1 763.6,966.4 764.2,959.4 764.8,964.6 765.3,957.3 765.9,961.0 766.5,959.2 767.0,962.6 767.6,957.4 768.2,955.4 768.7,957.2 769.3,954.5 769.9,964.7 770.5,956.3 771.0,961.6 771.6,956.3 772.2,960.8 772.7,955.7 773.3,952.7 773.9,954.0 774.4,956.2 775.0,952.6 775.6,958.2 776.2,950.5 776.7,954.4 777.3,954.5 777.9,958.9 778.4,952.2 779.0,957.1 779.6,952.3 780.1,953.3 780.7,955.6 781.3,951.9 781.9,956.5 782.4,955.2 783.0,948.9 783.6,952.2 784.1,944.9 784.7,945.1 785.3,951.8 785.8,944.2 786.4,950.9 787.0,941.2 787.6,943.9 788.1,939.6 788.7,945.1 789.3,943.6 789.8,938.3 790.4,935.2 791.0,942.3 791.5,937.0 792.1,933.7 792.7,932.4 793.3,921.8 793.8,920.3 794.4,926.2 795.0,917.3 795.5,918.6 796.1,916.9 796.7,913.8 797.2,910.4 797.8,905.1 798.4,893.8 799.0,894.8 799.5,889.2 800.1,880.1 800.7,879.0 801.2,868.2 801.8,858.7 802.4,856.9 802.9,844.4 803.5,846.2 804.1,827.9 804.7,821.0 805.2,812.3 805.8,799.6 806.4,793.5 806.9,784.7 807.5,770.5 808.1,762.5 808.6,759.5 809.2,750.0 809.8,750.0 810.4,735.3 810.9,741.2 811.5,728.5 812.1,726.1 812.6,731.6 813.2,738.2 813.8,737.8 814.3,737.3 814.9,747.2 815.5,752.6 816.1,754.4 816.6,768.1 817.2,779.8 817.8,788.4 818.3,792.1 818.9,800.6 819.5,810.9 820.0,821.4 820.6,824.6 821.2,833.9 821.8,841.5 822.3,854.9 822.9,861.2 823.5,870.6 824.0,868.9 824.6,875.2 825.2,887.4 825.7,884.0 826.3,891.6 826.9,890.0 827.5,900.3 828.0,896.2 828.6,908.0 829.2,906.1 829.7,913.5 830.3,916.9 830.9,912.8 831.4,914.5 832.0,912.6 832.6,917.5 833.2,917.7 833.7,919.7 834.3,914.4 834.9,915.5 835.4,915.7 836.0,918.5 836.6,913.5 837.1,917.4 837.7,913.6 838.3,914.8 838.9,913.5 839.4,906.6 840.0,912.8 840.6,909.2 841.1,915.5 841.7,913.8 842.3,918.5 842.8,916.6 843.4,912.6 844.0,918.5 844.6,915.7 845.1,926.7 845.7,930.1 846.3,923.8 846.8,933.7 847.4,931.6 848.0,934.8 848.5,935.4 849.1,931.7 849.7,938.6 850.3,929.8 850.8,941.6 851.4,935.5 852.0,941.9 852.5,933.7 853.1,942.0 853.7,935.5 854.2,943.3 854.8,942.3 855.4,944.1 856.0,941.0 856.5,933.6 857.1,932.3 857.7,938.2 858.2,938.6 858.8,938.9 859.4,936.5 859.9,939.2 860.5,930.9 861.1,931.2 861.7,928.0 862.2,937.1 862.8,929.9 863.4,935.3 863.9,934.3 864.5,934.8 865.1,931.6 865.6,926.1 866.2,934.4 866.8,934.9 867.4,924.4 867.9,934.2 868.5,929.6 869.1,931.1 869.6,930.7 870.2,928.0 870.8,922.0 871.3,922.9 871.9,914.0 872.5,916.3 873.1,915.2 873.6,908.2 874.2,915.1 874.8,912.4 875.3,905.9 875.9,901.2 876.5,896.0 877.0,903.1 877.6,889.7 878.2,885.4 878.8,884.7 879.3,886.8 879.9,870.5 880.5,863.7 881.0,857.7 881.6,849.7 882.2,843.0 882.7,826.3 883.3,816.6 883.9,809.6 884.5,790.3 885.0,777.7 885.6,772.2 886.2,759.2 886.7,751.7 887.3,742.4 887.9,735.5 888.4,726.0 889.0,726.7 889.6,731.8 890.2,744.2 890.7,747.5 891.3,754.2 891.9,776.1 892.4,780.8 893.0,788.7 893.6,808.9 894.1,820.0 894.7,826.6 895.3,835.0 895.9,852.0 896.4,852.5 897.0,867.9 897.6,872.0 898.1,882.8 898.7,881.8 899.3,893.1 899.8,894.6 900.4,895.3 901.0,903.1 901.6,903.0 902.1,905.5 902.7,905.8 903.3,911.4 903.8,911.5 904.4,912.7 905.0,910.6 905.5,922.6 906.1,916.5 906.7,925.7 907.3,917.5 907.8,915.7 908.4,927.7 909.0,925.0 909.5,926.9 910.1,923.0 910.7,918.0 911.2,926.5 911.8,927.2 912.4,920.6 913.0,915.7 913.5,917.8 914.1,924.8 914.7,913.9 915.2,917.9 915.8,914.7 916.4,920.6 916.9,919.7 917.5,914.6 918.1,915.5 918.7,916.9 919.2,907.7 919.8,909.2 920.4,911.5 920.9,900.6 921.5,906.0 922.1,897.0 922.6,892.4 923.2,886.9 923.8,885.9 924.4,882.7 924.9,874.0 925.5,871.3 926.1,860.4 926.6,859.1 927.2,849.5 927.8,836.9 928.3,833.6 928.9,825.4 929.5,812.5 930.1,803.5 930.6,792.3 931.2,778.8 931.8,761.3 932.3,746.4 932.9,735.5 933.5,723.5 934.0,709.4 934.6,690.2 935.2,674.9 935.8,662.5 936.3,643.7 936.9,636.7 937.5,618.4 938.0,605.1 938.6,602.6 939.2,588.7 939.7,588.6 940.3,584.5 940.9,593.0 941.5,594.2 942.0,594.4 942.6,612.2 943.2,618.1 943.7,635.6 944.3,651.1 944.9,666.6 945.4,683.1 946.0,696.2 946.6,714.0 947.2,721.9 947.7,743.8 948.3,759.6 948.9,777.4 949.4,785.4 950.0,794.8 950.6,812.7 951.1,822.6 951.7,835.5 952.3,840.4 952.9,851.1 953.4,866.5 954.0,877.2 954.6,883.4 955.1,886.7 955.7,896.2 956.3,904.3 956.8,908.6 957.4,912.8 958.0,912.4 958.6,920.7 959.1,916.5 959.7,926.7 960.3,919.9 960.8,922.3 961.4,926.9 962.0,934.8 962.5,940.0 963.1,933.1 963.7,938.4 964.3,933.3 964.8,938.7 965.4,944.6 966.0,946.7 966.5,948.3 967.1,947.5 967.7,943.1 968.2,952.0 968.8,954.1 969.4,951.0 970.0,959.2 970.5,957.4 971.1,956.0 971.7,950.7 972.2,950.9 972.8,957.0 973.4,957.5 973.9,958.9 974.5,959.6 975.1,962.1 975.7,961.0 976.2,956.6 976.8,958.6 977.4,959.7 977.9,959.0 978.5,966.4 979.1,957.8 979.6,958.6 980.2,963.8 980.8,960.5 981.4,961.7 981.9,964.4 982.5,967.9 983.1,968.5 983.6,964.7 984.2,968.7 984.8,962.8 985.3,960.5 985.9,965.2 986.5,968.2 987.1,959.4 987.6,965.5 988.2,960.1 988.8,965.5 989.3,968.0 989.9,965.1 990.5,963.4 991.0,961.4 991.6,963.4 992.2,961.2 992.8,958.1 993.3,955.7 993.9,954.1 994.5,959.4 995.0,951.1 995.6,955.5 996.2,954.2 996.7,956.5 997.3,956.7 997.9,955.4 998.5,954.8 999.0,964.4 999.6,956.3 1000.2,959.5 1000.7,958.3 1001.3,960.3 1001.9,965.5 1002.4,963.4 1003.0,963.1 1003.6,971.8 1004.2,968.8 1004.7,972.5 1005.3,972.7 1005.9,971.5 1006.4,978.3 1007.0,969.3 1007.6,973.9 1008.1,969.0 1008.7,977.4 1009.3,975.5 1009.9,977.6 1010.4,980.4 1011.0,980.9 1011.6,980.1 1012.1,978.1 1012.7,979.8 1013.3,979.3 1013.8,978.9 1014.4,975.1 1015.0,978.0 1015.6,976.5 1016.1,979.6 1016.7,980.1 1017.3,973.8 1017.8,975.1 1018.4,977.4 1019.0,972.6 1019.5,981.4 1020.1,976.4 1020.7,977.8 1021.3,981.4 1021.8,983.4 1022.4,978.8 1023.0,981.1 1023.5,977.1 1024.1,975.5 1024.7,979.3 1025.2,978.3 1025.8,982.2 1026.4,974.6 1027.0,975.4 1027.5,975.3 1028.1,980.1 1028.7,980.4 1029.2,985.9 1029.8,978.5 1030.4,984.2 1030.9,984.2 1031.5,983.1 1032.1,976.9 1032.7,982.7 1033.2,982.5 1033.8,982.6 1034.4,980.7 1034.9,983.6 1035.5,982.6 1036.1,986.6 1036.6,988.1 1037.2,979.8 1037.8,986.1 1038.4,977.3 1038.9,975.9 1039.5,983.3 1040.1,977.4 1040.6,976.0 1041.2,978.5 1041.8,987.5 1042.3,977.4 1042.9,980.0 1043.5,986.3 1044.1,975.2 1044.6,985.1 1045.2,976.9 1045.8,982.8 1046.3,975.2 1046.9,975.2 1047.5,979.1 1048.0,978.5 1048.6,981.0 1049.2,982.2 1049.8,977.0 1050.3,983.1 1050.9,986.6 1051.5,983.8 1052.0,982.5 1052.6,981.4 1053.2,976.2 1053.7,978.1 1054.3,981.2 1054.9,977.7 1055.5,978.6 1056.0,978.7 1056.6,984.0 1057.2,982.9 1057.7,978.1 1058.3,985.6 1058.9,982.1 1059.4,978.8 1060.0,982.7 1060.6,986.1 1061.2,983.0 1061.7,981.1 1062.3,976.8 1062.9,981.0 1063.4,985.7 1064.0,975.5 1064.6,984.2 1065.1,977.4 1065.7,983.2 1066.3,985.5 1066.9,986.5 1067.4,985.4 1068.0,985.3 1068.6,983.9 1069.1,987.4 1069.7,986.6 1070.3,986.7 1070.8,981.9 1071.4,978.9 1072.0,978.5 1072.6,978.1 1073.1,981.0 1073.7,983.1 1074.3,985.3 1074.8,980.2 1075.4,987.1 1076.0,979.7 1076.5,987.5 1077.1,985.7 1077.7,980.1 1078.3,980.9 1078.8,981.5 1079.4,980.7 1080.0,988.4 1080.5,979.4 1081.1,982.4 1081.7,979.6 1082.2,984.3 1082.8,985.8 1083.4,984.1 1084.0,982.7 1084.5,979.2 1085.1,983.5 1085.7,980.5 1086.2,985.4 1086.8,986.0 1087.4,984.9 1087.9,982.4 1088.5,984.2 1089.1,978.7 1089.7,980.7 1090.2,989.2 1090.8,979.9 1091.4,978.2 1091.9,985.5 1092.5,986.0 1093.1,981.8 1093.6,985.9 1094.2,990.8 1094.8,989.3 1095.4,982.6 1095.9,987.9 1096.5,986.8 1097.1,984.6 1097.6,988.6 1098.2,981.9 1098.8,981.8 1099.3,982.2 1099.9,987.4 1100.5,981.9 1101.1,980.9 1101.6,988.6 1102.2,981.6 1102.8,982.3 1103.3,989.4 1103.9,984.7 1104.5,978.2 1105.0,985.0 1105.6,983.2 1106.2,982.9 1106.8,982.8 1107.3,987.8 1107.9,981.1 1108.5,989.8 1109.0,986.9 1109.6,980.3 1110.2,989.5 1110.7,989.1 1111.3,985.5 1111.9,985.7 1112.5,992.5 1113.0,987.2 1113.6,984.4 1114.2,989.9 1114.7,986.5 1115.3,984.4 1115.9,986.9 1116.4,979.4 1117.0,978.2 1117.6,983.5 1118.2,987.3 1118.7,981.0 1119.3,980.4 1119.9,981.7 1120.4,980.0 1121.0,982.4 1121.6,989.5 1122.1,990.2 1122.7,985.7 1123.3,982.2 1123.9,984.7 1124.4,990.3 1125.0,989.5 1125.6,987.7 1126.1,982.6 1126.7,986.4 1127.3,982.8 1127.8,983.8 1128.4,985.1 1129.0,989.9 1129.6,984.1 1130.1,986.4 1130.7,987.8 1131.3,980.4 1131.8,982.9 1132.4,978.6 1133.0,984.7 1133.5,976.9 1134.1,984.3 1134.7,988.9 1135.3,979.8 1135.8,979.3 1136.4,985.5 1137.0,982.0 1137.5,980.1 1138.1,981.7 1138.7,986.9 1139.2,984.9 1139.8,990.3 1140.4,986.1 1141.0,985.2 1141.5,981.8 1142.1,984.3 1142.7,980.8 1143.2,985.3 1143.8,981.1 1144.4,988.2 1144.9,981.4 1145.5,979.6 1146.1,989.8 1146.7,982.9 1147.2,984.2 1147.8,981.0 1148.4,988.4 1148.9,985.8 1149.5,978.1 1150.1,979.2 1150.6,984.8 1151.2,987.4 1151.8,985.0 1152.4,986.3 1152.9,982.8 1153.5,983.7 1154.1,981.5 1154.6,985.0 1155.2,983.8 1155.8,980.2 1156.3,985.2 1156.9,986.5 1157.5,979.3 1158.1,979.0 1158.6,978.1 1159.2,985.9 1159.8,987.5 1160.3,980.1 1160.9,990.3 1161.5,989.6 1162.0,983.6 1162.6,988.1 1163.2,984.4 1163.8,979.5 1164.3,983.1 1164.9,982.8 1165.5,982.3 1166.0,985.3 1166.6,985.1 1167.2,985.4 1167.7,986.9 1168.3,986.8 1168.9,980.8 1169.5,989.6 1170.0,985.8 1170.6,980.2 1171.2,980.2 1171.7,988.6 1172.3,987.7 1172.9,983.8 1173.4,987.4 1174.0,979.1 1174.6,988.4 1175.2,981.2 1175.7,984.9 1176.3,983.4 1176.9,986.3 1177.4,981.7 1178.0,980.4 1178.6,979.6 1179.1,983.8 1179.7,984.1 1180.3,983.5 1180.9,987.9 1181.4,990.6 1182.0,981.7 1182.6,980.5 1183.1,986.8 1183.7,989.7 1184.3,987.6 1184.8,980.6 1185.4,981.4 1186.0,985.6 1186.6,980.2 1187.1,983.5 1187.7,983.6 1188.3,987.6 1188.8,984.6 1189.4,986.3 1190.0,983.1 1190.5,984.4 1191.1,981.4 1191.7,989.9 1192.3,983.5 1192.8,983.1 1193.4,990.3 1194.0,986.0 1194.5,989.4 1195.1,980.6 1195.7,987.2 1196.2,978.4 1196.8,987.3 1197.4,979.8 1198.0,984.6 1198.5,986.8 1199.1,983.9 1199.7,987.2 1200.2,984.9 1200.8,984.3 1201.4,988.6 1201.9,984.1 1202.5,989.3 1203.1,989.4 1203.7,985.4 1204.2,982.6 1204.8,987.8 1205.4,987.5 1205.9,989.9 1206.5,987.6 1207.1,991.3 1207.6,987.1 1208.2,990.9 1208.8,985.4 1209.4,983.1 1209.9,988.8 1210.5,980.2 1211.1,983.0 1211.6,989.7 1212.2,991.1 1212.8,985.1 1213.3,987.2 1213.9,983.4 1214.5,981.7 1215.1,986.7 1215.6,980.0 1216.2,986.1 1216.8,989.6 1217.3,985.2 1217.9,991.7 1218.5,984.3 1219.0,984.5 1219.6,980.6 1220.2,981.5 1220.8,986.8 1221.3,981.8 1221.9,981.6 1222.5,983.4 1223.0,982.1 1223.6,985.2 1224.2,986.7 1224.7,981.0 1225.3,984.1 1225.9,981.0 1226.5,978.3 1227.0,986.1 1227.6,989.3 1228.2,987.8 1228.7,983.4 1229.3,980.1 1229.9,988.5 1230.4,984.0 1231.0,987.7 1231.6,981.5 1232.2,985.6 1232.7,987.1 1233.3,986.2 1233.9,981.1 1234.4,987.5 1235.0,984.1 1235.6,977.8 1236.1,977.2 1236.7,983.8 1237.3,977.7 1237.9,978.3 1238.4,980.8 1239.0,976.9 1239.6,975.7 1240.1,977.3 1240.7,976.5 1241.3,976.4 1241.8,981.6 1242.4,973.4 1243.0,977.4 1243.6,980.5 1244.1,977.5 1244.7,970.9 1245.3,970.3 1245.8,978.5 1246.4,976.3 1247.0,974.7 1247.5,970.4 1248.1,969.2 1248.7,968.5 1249.3,966.5 1249.8,969.5 1250.4,962.2 1251.0,963.4 1251.5,965.3 1252.1,962.2 1252.7,957.7 1253.2,954.3 1253.8,958.6 1254.4,960.4 1255.0,954.3 1255.5,954.0 1256.1,947.2 1256.7,944.3 1257.2,942.5 1257.8,939.4 1258.4,933.9 1258.9,932.0 1259.5,924.3 1260.1,914.6 1260.7,911.1 1261.2,912.0 1261.8,903.9 1262.4,900.9 1262.9,904.1 1263.5,901.1 1264.1,898.8 1264.6,908.5 1265.2,905.2 1265.8,911.8 1266.4,913.1 1266.9,910.5 1267.5,911.6 1268.1,916.6 1268.6,927.9 1269.2,929.7 1269.8,930.2 1270.3,937.2 1270.9,940.9 1271.5,941.5 1272.1,941.4 1272.6,954.2 1273.2,952.9 1273.8,957.9 1274.3,953.5 1274.9,958.9 1275.5,958.5 1276.0,958.6 1276.6,970.1 1277.2,962.1 1277.8,971.6 1278.3,968.0 1278.9,975.8 1279.5,973.4 1280.0,967.9 1280.6,969.6 1281.2,971.1 1281.7,977.2 1282.3,972.9 1282.9,980.4 1283.5,973.8 1284.0,981.3 1284.6,974.1 1285.2,982.0 1285.7,980.6 1286.3,985.9 1286.9,976.8 1287.4,978.0 1288.0,983.3 1288.6,975.0 1289.2,976.7 1289.7,984.6 1290.3,982.7 1290.9,979.5 1291.4,981.0 1292.0,977.9 1292.6,978.5 1293.1,977.9 1293.7,990.0 1294.3,983.4 1294.9,986.3 1295.4,985.8 1296.0,985.4 1296.6,979.3 1297.1,985.1 1297.7,980.7 1298.3,982.9 1298.8,985.9 1299.4,989.8 1300.0,982.7 1300.6,981.3 1301.1,985.5 1301.7,976.9 1302.3,981.7 1302.8,988.3 1303.4,984.1 1304.0,980.5 1304.5,983.1 1305.1,981.9 1305.7,987.3 1306.3,988.7 1306.8,981.6 1307.4,988.7 1308.0,982.4 1308.5,979.6 1309.1,986.2 1309.7,980.3 1310.2,988.2 1310.8,987.1 1311.4,985.9 1312.0,986.7 1312.5,983.3 1313.1,988.6 1313.7,987.6 1314.2,984.8 1314.8,983.1 1315.4,982.2 1315.9,987.0 1316.5,988.7 1317.1,982.2 1317.7,982.4 1318.2,980.2 1318.8,979.4 1319.4,981.8 1319.9,987.5 1320.5,984.9 1321.1,985.1 1321.6,989.7 1322.2,987.0 1322.8,988.8 1323.4,990.0 1323.9,986.7 1324.5,984.4 1325.1,979.4 1325.6,980.3 1326.2,988.8 1326.8,980.8 1327.3,986.5 1327.9,981.7 1328.5,989.6 1329.1,988.1 1329.6,983.2 1330.2,989.2 1330.8,986.7 1331.3,984.4 1331.9,987.0 1332.5,992.2 1333.0,983.2 1333.6,991.0 1334.2,981.5 1334.8,982.5 1335.3,982.6 1335.9,986.8 1336.5,992.1 1337.0,982.3 1337.6,982.5 1338.2,985.2 1338.7,980.7 1339.3,984.2 1339.9,981.1 1340.5,978.7 1341.0,982.9 1341.6,981.4 1342.2,990.6 1342.7,984.5 1343.3,984.8 1343.9,981.8 1344.4,987.4 1345.0,981.5 1345.6,987.6 1346.2,989.7 1346.7,988.4 1347.3,989.7 1347.9,986.2 1348.4,982.1 1349.0,989.4 1349.6,985.9 1350.1,991.4 1350.7,990.3 1351.3,984.7 1351.9,992.4 1352.4,992.0 1353.0,991.8 1353.6,993.9 1354.1,992.6 1354.7,989.6 1355.3,989.5 1355.8,985.1 1356.4,990.3 1357.0,989.3 1357.6,986.3 1358.1,987.2 1358.7,990.2 1359.3,987.1 1359.8,991.1 1360.4,985.1 1361.0,983.7 1361.5,982.9 1362.1,987.8 1362.7,985.7 1363.3,989.6 1363.8,983.1 1364.4,991.5 1365.0,986.2 1365.5,992.0 1366.1,992.4 1366.7,988.4 1367.2,990.2 1367.8,986.4 1368.4,987.8 1369.0,989.9 1369.5,979.1 1370.1,987.6 1370.7,987.0 1371.2,988.1 1371.8,981.9 1372.4,980.9 1372.9,984.1 1373.5,986.0 1374.1,984.6 1374.7,984.2 1375.2,983.3 1375.8,987.0 1376.4,983.4 1376.9,991.6 1377.5,991.5 1378.1,991.7 1378.6,986.6 1379.2,984.2 1379.8,988.3 1380.4,991.7 1380.9,985.6 1381.5,989.2 1382.1,982.7 1382.6,981.9 1383.2,986.0 1383.8,988.2 1384.3,989.6 1384.9,985.3 1385.5,983.4 1386.1,991.4 1386.6,990.5 1387.2,987.7 1387.8,991.0 1388.3,988.3 1388.9,994.1 1389.5,989.6 1390.0,990.8 1390.6,993.4 1391.2,992.1 1391.8,990.3 1392.3,989.2 1392.9,990.7 1393.5,985.0 1394.0,986.3 1394.6,989.2 1395.2,984.7 1395.7,985.9 1396.3,990.1 1396.9,989.7 1397.5,990.6 1398.0,984.5 1398.6,989.5 1399.2,983.8 1399.7,983.6 1400.3,990.6 1400.9,989.4 1401.4,986.9 1402.0,987.9 1402.6,990.8 1403.2,982.3 1403.7,987.0 1404.3,986.2 1404.9,983.6 1405.4,988.7 1406.0,990.9 1406.6,986.7 1407.1,989.8 1407.7,990.8 1408.3,991.7 1408.9,992.7 1409.4,989.4 1410.0,990.1 1410.6,987.7 1411.1,981.8 1411.7,989.8 1412.3,991.5 1412.8,991.8 1413.4,992.3 1414.0,992.4 1414.6,985.4 1415.1,981.3 1415.7,982.3 1416.3,980.8 1416.8,983.4 1417.4,983.8 1418.0,983.2 1418.5,989.1 1419.1,990.5 1419.7,991.3 1420.3,994.1 1420.8,991.7 1421.4,986.1 1422.0,986.4 1422.5,986.7 1423.1,988.9 1423.7,983.7 1424.2,990.9 1424.8,982.4 1425.4,987.5 1426.0,987.1 1426.5,985.9 1427.1,988.4 1427.7,986.5 1428.2,988.0 1428.8,989.9 1429.4,983.4 1429.9,986.9 1430.5,985.1 1431.1,982.8 1431.7,986.9 1432.2,990.2 1432.8,986.2 1433.4,985.7 1433.9,987.7 1434.5,981.8 1435.1,984.4 1435.6,981.3 1436.2,979.7 1436.8,986.7 1437.4,985.0 1437.9,980.9 1438.5,982.2 1439.1,984.4 1439.6,988.1 1440.2,985.5 1440.8,981.0 1441.3,990.8 1441.9,989.8 1442.5,984.6 1443.1,993.5 1443.6,988.4 1444.2,982.4 1444.8,986.6 1445.3,983.0 1445.9,988.9 1446.5,986.9 1447.0,982.3 1447.6,979.1 1448.2,988.1 1448.8,983.4 1449.3,982.7 1449.9,991.8 1450.5,992.5 1451.0,984.7 1451.6,985.7 1452.2,981.4 1452.7,980.5 1453.3,988.3 1453.9,987.3 1454.5,987.2 1455.0,981.6 1455.6,979.6 1456.2,986.9 1456.7,980.1 1457.3,988.3 1457.9,985.3 1458.4,984.1 1459.0,979.2 1459.6,983.8 1460.2,981.9 1460.7,987.4 1461.3,987.1 1461.9,986.6 1462.4,987.4 1463.0,989.5 1463.6,991.0 1464.1,989.4 1464.7,982.9 1465.3,982.8 1465.9,989.9 1466.4,985.0 1467.0,984.3 1467.6,983.2 1468.1,984.2 1468.7,983.7 1469.3,981.1 1469.8,986.9 1470.4,981.5 1471.0,981.3 1471.6,985.8 1472.1,978.5 1472.7,979.9 1473.3,988.0 1473.8,986.0 1474.4,983.6 1475.0,988.1 1475.5,982.9 1476.1,987.7 1476.7,990.3 1477.3,983.1 1477.8,985.2 1478.4,980.9 1479.0,979.1 1479.5,984.7 1480.1,981.7 1480.7,984.7 1481.2,987.2 1481.8,981.7 1482.4,980.3 1483.0,978.8 1483.5,980.5 1484.1,978.6 1484.7,979.2 1485.2,983.5 1485.8,980.5 1486.4,976.7 1486.9,978.2 1487.5,974.7 1488.1,981.9 1488.7,982.7 1489.2,977.3 1489.8,980.6 1490.4,983.0 1490.9,974.5 1491.5,974.3 1492.1,974.8 1492.6,976.2 1493.2,972.7 1493.8,971.7 1494.4,981.9 1494.9,977.4 1495.5,971.9 1496.1,979.7 1496.6,971.5 1497.2,976.8 1497.8,979.7 1498.3,969.1 1498.9,968.4 1499.5,968.7 1500.1,971.6 1500.6,973.7 1501.2,967.5 1501.8,965.2 1502.3,964.3 1502.9,960.4 1503.5,959.1 1504.0,964.4 1504.6,962.3 1505.2,957.6 1505.8,956.3 1506.3,957.1 1506.9,961.7 1507.5,953.0 1508.0,955.3 1508.6,950.7 1509.2,951.0 1509.7,942.1 1510.3,940.7 1510.9,933.7 1511.5,938.1 1512.0,929.6 1512.6,925.7 1513.2,927.9 1513.7,924.4 1514.3,919.5 1514.9,911.4 1515.4,910.2 1516.0,897.2 1516.6,893.8 1517.2,889.1 1517.7,888.2 1518.3,884.0 1518.9,877.2 1519.4,874.3 1520.0,866.0 1520.6,863.6 1521.1,862.0 1521.7,858.1 1522.3,858.9 1522.9,854.3 1523.4,859.9 1524.0,865.1 1524.6,859.2 1525.1,871.0 1525.7,865.0 1526.3,873.1 1526.8,876.7 1527.4,878.2 1528.0,886.3 1528.6,888.2 1529.1,898.3 1529.7,905.8 1530.3,906.2 1530.8,908.1 1531.4,918.2 1532.0,921.7 1532.5,925.4 1533.1,928.9 1533.7,937.1 1534.3,938.9 1534.8,934.4 1535.4,939.7 1536.0,949.2 1536.5,944.5 1537.1,952.2 1537.7,947.8 1538.2,959.7 1538.8,960.5 1539.4,962.2 1540.0,959.7 1540.5,967.6 1541.1,965.3 1541.7,964.8 1542.2,972.4 1542.8,962.1 1543.4,972.8 1543.9,968.2 1544.5,971.6 1545.1,971.2 1545.7,965.3 1546.2,971.5 1546.8,967.8 1547.4,967.7 1547.9,972.8 1548.5,975.2 1549.1,969.9 1549.6,977.0 1550.2,974.2 1550.8,977.9 1551.4,976.8 1551.9,975.2 1552.5,978.6 1553.1,974.8 1553.6,970.2 1554.2,977.6 1554.8,981.6 1555.3,977.8 1555.9,972.3 1556.5,980.1 1557.1,977.1 1557.6,978.0 1558.2,975.7 1558.8,978.3 1559.3,973.0 1559.9,973.8 1560.5,970.1 1561.0,978.0 1561.6,980.1 1562.2,979.9 1562.8,979.4 1563.3,969.2 1563.9,979.7 1564.5,971.6 1565.0,976.3 1565.6,971.2 1566.2,976.8 1566.7,976.4 1567.3,968.7 1567.9,972.8 1568.5,969.6 1569.0,966.8 1569.6,962.2 1570.2,963.5 1570.7,964.5 1571.3,961.9 1571.9,968.4 1572.4,965.0 1573.0,971.0 1573.6,971.5 1574.2,969.7 1574.7,965.8 1575.3,971.0 1575.9,971.3 1576.4,970.4 1577.0,966.9 1577.6,966.4 1578.1,963.7 1578.7,968.4 1579.3,971.0 1579.9,971.9 1580.4,967.2 1581.0,968.6 1581.6,968.6 1582.1,967.1 1582.7,976.6 1583.3,979.7 1583.8,974.0 1584.4,970.8 1585.0,974.9 1585.6,972.2 1586.1,975.5 1586.7,976.0 1587.3,977.6 1587.8,982.4 1588.4,977.6 1589.0,981.2 1589.5,977.3 1590.1,974.8 1590.7,977.3 1591.3,977.7 1591.8,979.1 1592.4,976.2 1593.0,984.9 1593.5,977.5 1594.1,978.4 1594.7,978.5 1595.2,979.8 1595.8,979.9 1596.4,983.7 1597.0,980.9 1597.5,982.3 1598.1,983.2 1598.7,983.9 1599.2,987.5 1599.8,986.0 1600.4,989.1 1600.9,985.2 1601.5,985.7 1602.1,984.9 1602.7,986.0 1603.2,985.1 1603.8,981.2 1604.4,989.1 1604.9,990.5 1605.5,985.0 1606.1,989.3 1606.6,990.4 1607.2,983.7 1607.8,981.9 1608.4,980.2 1608.9,985.8 1609.5,989.9 1610.1,981.4 1610.6,986.0 1611.2,985.5 1611.8,988.3 1612.3,985.2 1612.9,979.3 1613.5,981.9 1614.1,990.6 1614.6,987.5 1615.2,989.1 1615.8,980.2 1616.3,987.4 1616.9,983.8 1617.5,990.0 1618.0,986.2 1618.6,985.8 1619.2,982.8 1619.8,984.8 1620.3,984.5 1620.9,983.9 1621.5,986.9 1622.0,991.3 1622.6,991.0 1623.2,986.2 1623.7,992.2 1624.3,982.9 1624.9,991.7 1625.5,985.6 1626.0,985.2 1626.6,986.6 1627.2,990.7 1627.7,982.2 1628.3,987.9 1628.9,991.1 1629.4,989.7 1630.0,983.6 1630.6,988.1 1631.2,987.6 1631.7,991.4 1632.3,988.5 1632.9,991.3 1633.4,991.6 1634.0,983.0 1634.6,987.7 1635.1,989.2 1635.7,989.9 1636.3,980.6 1636.9,987.6 1637.4,987.3 1638.0,983.9 1638.6,991.7 1639.1,982.2 1639.7,990.2 1640.3,984.7 1640.8,981.6 1641.4,981.1 1642.0,982.6 1642.6,986.4 1643.1,982.3 1643.7,981.3 1644.3,983.1 1644.8,980.8 1645.4,983.2 1646.0,979.5 1646.5,985.1 1647.1,986.9 1647.7,981.3 1648.3,978.8 1648.8,980.0 1649.4,984.4 1650.0,986.0 1650.5,986.6 1651.1,980.5 1651.7,979.6 1652.2,982.8 1652.8,989.9 1653.4,989.8 1654.0,984.2 1654.5,983.4 1655.1,989.9 1655.7,984.4 1656.2,986.6 1656.8,986.8 1657.4,989.2 1657.9,986.8 1658.5,977.9 1659.1,986.6 1659.7,980.9 1660.2,989.3 1660.8,987.4 1661.4,981.4 1661.9,982.3 1662.5,985.4 1663.1,985.3 1663.6,982.4 1664.2,985.6 1664.8,987.8 1665.4,984.0 1665.9,978.3 1666.5,980.1 1667.1,983.3 1667.6,979.6 1668.2,980.8 1668.8,988.9 1669.3,980.5 1669.9,988.5 1670.5,987.5 1671.1,980.6 1671.6,984.5 1672.2,977.1 1672.8,980.4 1673.3,981.5 1673.9,976.0 1674.5,975.0 1675.0,981.7 1675.6,972.8 1676.2,983.1 1676.8,981.5 1677.3,980.3 1677.9,979.7 1678.5,974.5 1679.0,977.8 1679.6,977.1 1680.2,979.4 1680.7,977.2 1681.3,981.7 1681.9,969.6 1682.5,973.7 1683.0,971.9 1683.6,971.0 1684.2,966.2 1684.7,970.3 1685.3,969.1 1685.9,969.8 1686.4,970.6 1687.0,971.6 1687.6,965.6 1688.2,962.0 1688.7,965.8 1689.3,955.7 1689.9,958.9 1690.4,954.6 1691.0,955.6 1691.6,952.4 1692.1,953.0 1692.7,950.2 1693.3,941.2 1693.9,945.2 1694.4,938.9 1695.0,934.4 1695.6,926.8 1696.1,921.2 1696.7,918.8 1697.3,913.2 1697.8,912.5 1698.4,903.5 1699.0,895.9 1699.6,886.9 1700.1,892.1 1700.7,884.0 1701.3,878.5 1701.8,872.3 1702.4,875.2 1703.0,878.1 1703.5,878.9 1704.1,868.7 1704.7,879.7 1705.3,878.9 1705.8,883.7 1706.4,892.7 1707.0,897.5 1707.5,892.5 1708.1,900.0 1708.7,904.8 1709.2,911.6 1709.8,917.8 1710.4,928.0 1711.0,929.4 1711.5,931.1 1712.1,937.4 1712.7,941.5 1713.2,945.0 1713.8,949.3 1714.4,953.9 1714.9,949.3 1715.5,954.7 1716.1,956.9 1716.7,962.0 1717.2,957.1 1717.8,960.4 1718.4,967.7 1718.9,964.0 1719.5,971.9 1720.1,969.3 1720.6,973.5 1721.2,973.3 1721.8,969.4 1722.4,977.0 1722.9,974.2 1723.5,975.7 1724.1,972.1 1724.6,970.4 1725.2,972.6 1725.8,973.5 1726.3,974.4 1726.9,972.1 1727.5,974.4 1728.1,974.2 1728.6,980.2 1729.2,973.4 1729.8,973.9 1730.3,982.1 1730.9,983.6 1731.5,983.1 1732.0,983.4 1732.6,976.3 1733.2,981.8 1733.8,979.6 1734.3,981.8 1734.9,978.4 1735.5,978.5 1736.0,974.8 1736.6,977.0 1737.2,978.7 1737.7,977.4 1738.3,979.3 1738.9,980.7 1739.5,985.6 1740.0,982.7 1740.6,977.9 1741.2,985.9 1741.7,983.1 1742.3,982.4 1742.9,978.1 1743.4,978.8 1744.0,985.9 1744.6,985.0 1745.2,982.9 1745.7,987.1 1746.3,987.7 1746.9,987.3 1747.4,980.2 1748.0,981.7 1748.6,984.8 1749.1,988.8 1749.7,980.3 1750.3,980.2 1750.9,985.4 1751.4,981.5 1752.0,978.9 1752.6,982.5 1753.1,981.2 1753.7,988.5 1754.3,988.7 1754.8,981.4 1755.4,980.1 1756.0,988.4 1756.6,979.0 1757.1,988.2 1757.7,979.5 1758.3,989.9 1758.8,982.9 1759.4,987.1 1760.0,987.1 1760.5,980.7 1761.1,983.5 1761.7,984.7 1762.3,984.4 1762.8,986.6 1763.4,987.8 1764.0,982.2 1764.5,980.0 1765.1,978.7 1765.7,985.3 1766.2,987.2 1766.8,980.3 1767.4,988.5 1768.0,983.9 1768.5,981.2 1769.1,989.1 1769.7,980.9 1770.2,979.9 1770.8,987.4 1771.4,987.2 1771.9,979.2 1772.5,987.8 1773.1,986.7 1773.7,988.2 1774.2,985.8 1774.8,985.9 1775.4,988.3 1775.9,987.1 1776.5,985.4 1777.1,979.6 1777.6,981.5 1778.2,978.6 1778.8,982.1 1779.4,986.7 1779.9,985.6 1780.5,985.6 1781.1,984.7 1781.6,988.5 1782.2,986.7 1782.8,980.2 1783.3,985.7 1783.9,983.2 1784.5,979.2 1785.1,985.2 1785.6,982.4 1786.2,984.8 1786.8,985.2 1787.3,985.2 1787.9,979.4 1788.5,983.1 1789.0,988.1 1789.6,981.8 1790.2,979.7 1790.8,978.7 1791.3,979.8 1791.9,979.5 1792.5,974.2 1793.0,975.0 1793.6,976.3 1794.2,972.3 1794.7,974.4 1795.3,977.8 1795.9,971.0 1796.5,967.9 1797.0,974.0 1797.6,970.8 1798.2,966.9 1798.7,964.3 1799.3,966.8 1799.9,967.5 1800.4,966.6 1801.0,966.1 1801.6,964.9 1802.2,968.5 1802.7,963.4 1803.3,959.2 1803.9,965.8 1804.4,965.1 1805.0,965.4 1805.6,963.8 1806.1,969.3 1806.7,965.9 1807.3,966.8 1807.9,969.5 1808.4,971.4 1809.0,975.8 1809.6,969.8 1810.1,968.7 1810.7,971.8 1811.3,973.5 1811.8,970.4 1812.4,975.4 1813.0,973.4 1813.6,967.8 1814.1,974.3 1814.7,971.4 1815.3,976.6 1815.8,970.4 1816.4,973.9 1817.0,978.9 1817.5,981.7 1818.1,974.6 1818.7,981.9 1819.3,982.6 1819.8,977.4 1820.4,973.9 1821.0,977.2 1821.5,980.0 1822.1,978.8 1822.7,977.9 1823.2,970.7 1823.8,977.9 1824.4,970.6 1825.0,976.5 1825.5,969.4 1826.1,977.8 1826.7,980.3 1827.2,970.2 1827.8,970.3 1828.4,970.8 1828.9,976.0 1829.5,971.7 1830.1,965.6 1830.7,962.7 1831.2,971.8 1831.8,962.2 1832.4,964.3 1832.9,963.0 1833.5,963.9 1834.1,964.1 1834.6,956.0 1835.2,950.8 1835.8,957.7 1836.4,946.5 1836.9,947.7 1837.5,945.3 1838.1,943.5 1838.6,940.8 1839.2,940.5 1839.8,934.4 1840.3,925.7 1840.9,921.3 1841.5,916.6 1842.1,916.5 1842.6,919.2 1843.2,915.7 1843.8,908.7 1844.3,901.0 1844.9,902.1 1845.5,892.4 1846.0,897.0 1846.6,898.6 1847.2,898.1 1847.8,898.2 1848.3,890.3 1848.9,895.5 1849.5,893.8 1850.0,904.4 1850.6,906.8 1851.2,909.2 1851.7,908.7 1852.3,914.7 1852.9,912.5 1853.5,918.0 1854.0,915.9 1854.6,928.0 1855.2,924.4 1855.7,925.6 1856.3,929.5 1856.9,936.1 1857.4,943.6 1858.0,940.0 1858.6,939.4 1859.2,947.7 1859.7,950.1 1860.3,956.4 1860.9,955.8 1861.4,952.2 1862.0,953.0 1862.6,951.5 1863.1,958.2 1863.7,962.5 1864.3,962.3 1864.9,959.3 1865.4,962.1 1866.0,963.6 1866.6,963.2 1867.1,960.0 1867.7,955.7 1868.3,951.6 1868.8,950.5 1869.4,958.7 1870.0,956.5 1870.6,947.9 1871.1,950.4 1871.7,950.8 1872.3,947.5 1872.8,949.6 1873.4,945.1 1874.0,946.6 1874.5,943.3 1875.1,946.5 1875.7,937.5 1876.3,936.9 1876.8,943.5 1877.4,943.4 1878.0,935.8 1878.5,942.9 1879.1,942.1 1879.7,935.8 1880.2,939.7 1880.8,945.3 1881.4,940.0 1882.0,945.4 1882.5,945.7 1883.1,947.4 1883.7,951.0 1884.2,953.1 1884.8,950.6 1885.4,951.7 1885.9,958.3 1886.5,961.9 1887.1,962.5 1887.7,961.2 1888.2,959.4 1888.8,967.8 1889.4,969.7 1889.9,965.1 1890.5,961.9 1891.1,965.8 1891.6,969.0 1892.2,971.9 1892.8,969.2 1893.4,977.9 1893.9,973.2 1894.5,976.9 1895.1,981.1 1895.6,973.1 1896.2,984.8 1896.8,975.7 1897.3,984.4 1897.9,978.5 1898.5,978.5 1899.1,977.2 1899.6,987.0 1900.2,988.2 1900.8,986.3 1901.3,984.3 1901.9,981.2 1902.5,983.4 1903.0,989.2 1903.6,991.2 1904.2,988.1 1904.8,986.3 1905.3,983.2 1905.9,987.4 1906.5,983.1 1907.0,988.9 1907.6,989.2 1908.2,988.4 1908.7,992.3 1909.3,984.6 1909.9,987.1 1910.5,991.3 1911.0,986.0 1911.6,986.0 1912.2,985.0 1912.7,985.2 1913.3,984.3 1913.9,993.8 1914.4,984.9 1915.0,986.7 1915.6,989.0 1916.2,985.9 1916.7,991.2 1917.3,989.0 1917.9,995.2 1918.4,991.6 1919.0,993.7 1919.6,990.5 1920.1,996.4 1920.7,991.4 1921.3,985.6 1921.9,996.1 1922.4,991.1 1923.0,987.5 1923.6,995.5 1924.1,994.6 1924.7,989.2 1925.3,994.2 1925.8,992.0 1926.4,987.2 1927.0,990.7 1927.6,996.3 1928.1,989.4 1928.7,988.6 1929.3,994.3 1929.8,989.0 1930.4,990.1 1931.0,996.8 1931.5,994.7 1932.1,990.0 1932.7,989.8 1933.3,989.9 1933.8,991.9 1934.4,984.5 1935.0,987.1 1935.5,988.9 1936.1,989.0 1936.7,990.7 1937.2,988.4 1937.8,989.5 1938.4,988.6 1939.0,989.2 1939.5,994.2 1940.1,998.7 1940.7,995.6 1941.2,986.8 1941.8,995.3 1942.4,997.1 1942.9,989.5 1943.5,992.5 1944.1,997.4 1944.7,998.5 1945.2,989.7 1945.8,999.6 1946.4,991.9 1946.9,993.9 1947.5,995.9 1948.1,995.4 1948.6,995.9 1949.2,990.6 1949.8,990.1 1950.4,987.9 1950.9,987.4 1951.5,992.3 1952.1,992.8 1952.6,991.1 1953.2,995.9 1953.8,998.8 1954.3,997.0 1954.9,989.1 1955.5,990.0 1956.1,997.7 1956.6,994.1 1957.2,987.6 1957.8,996.0 1958.3,992.3 1958.9,988.3 1959.5,992.5 1960.0,986.8 1960.6,995.6 1961.2,994.5 1961.8,993.5 1962.3,990.1 1962.9,994.7 1963.5,997.4 1964.0,995.5 1964.6,991.9 1965.2,995.9 1965.7,988.2 1966.3,991.4 1966.9,987.2 1967.5,986.5 1968.0,991.5 1968.6,992.3 1969.2,990.7 1969.7,990.7 1970.3,992.3 1970.9,984.7 1971.4,982.6 1972.0,982.6 1972.6,985.7 1973.2,985.6 1973.7,984.2 1974.3,979.8 1974.9,988.2 1975.4,978.0 1976.0,986.3 1976.6,985.7 1977.1,984.3 1977.7,978.1 1978.3,985.8 1978.9,981.4 1979.4,985.8 1980.0,987.1 1980.6,984.2 1981.1,982.6 1981.7,987.6 1982.3,982.3 1982.8,986.3 1983.4,979.2 1984.0,984.5 1984.6,988.2 1985.1,987.6 1985.7,988.7 1986.3,989.8 1986.8,991.6 1987.4,984.1 1988.0,982.3 1988.5,986.0 1989.1,984.4 1989.7,993.9 1990.3,986.5 1990.8,988.6 1991.4,985.6 1992.0,995.7 1992.5,988.0 1993.1,993.3 1993.7,995.9 1994.2,994.3 1994.8,986.1 1995.4,991.0 1996.0,990.1 1996.5,992.0 1997.1,995.3 1997.7,990.8 1998.2,995.8 1998.8,991.9 1999.4,987.4 1999.9,988.0 2000.5,998.5 2001.1,988.5 2001.7,995.5 2002.2,998.5 2002.8,987.8 2003.4,989.7 2003.9,992.7 2004.5,996.8 2005.1,995.5 2005.6,994.8 2006.2,990.3 2006.8,997.2 2007.4,999.1 2007.9,994.0 2008.5,1002.5 2009.1,991.1 2009.6,999.1 2010.2,998.5 2010.8,992.7 2011.3,997.6 2011.9,991.3 2012.5,995.4 2013.1,997.9 2013.6,992.2 2014.2,994.0 2014.8,991.7 2015.3,998.0 2015.9,990.9 2016.5,996.7 2017.0,999.4 2017.6,989.2 2018.2,1000.0 2018.8,1000.2 2019.3,991.6 2019.9,998.5 2020.5,990.5 2021.0,996.0 2021.6,992.6 2022.2,992.7 2022.7,995.8 2023.3,996.0 2023.9,991.5 2024.5,990.1 2025.0,996.1 2025.6,998.3 2026.2,999.1 2026.7,992.8 2027.3,998.5 2027.9,992.2 2028.4,990.0 2029.0,999.2 2029.6,992.0 2030.2,996.6 2030.7,995.9 2031.3,991.7 2031.9,996.0 2032.4,989.5 2033.0,989.6 2033.6,986.2 2034.1,991.8 2034.7,987.6 2035.3,988.9 2035.9,990.0 2036.4,995.6 2037.0,993.2 2037.6,995.1 2038.1,991.8 2038.7,995.2 2039.3,994.0 2039.8,989.7 2040.4,993.6 2041.0,997.7 2041.6,996.6 2042.1,997.2 2042.7,997.2 2043.3,999.2 2043.8,999.7 2044.4,991.2 2045.0,1000.6 2045.5,995.3 2046.1,993.4 2046.7,995.1 2047.3,995.1 2047.8,994.0 2048.4,995.9 2049.0,994.0 2049.5,993.0 2050.1,993.5 2050.7,1000.9 2051.2,992.5 2051.8,992.4 2052.4,999.7 2053.0,999.8 2053.5,999.1 2054.1,999.5 2054.7,998.7 2055.2,993.4 2055.8,1000.0 2056.4,989.9 2056.9,994.5 2057.5,992.2 2058.1,996.9 2058.7,990.9 2059.2,999.4 2059.8,997.2 2060.4,991.7 2060.9,998.5 2061.5,997.6 2062.1,995.3 2062.6,992.9 2063.2,1000.5 2063.8,997.9 2064.4,991.6 2064.9,993.1 2065.5,1000.2 2066.1,991.1 2066.6,990.8 2067.2,989.0 2067.8,988.9 2068.3,995.0 2068.9,994.8 2069.5,989.2 2070.1,994.8 2070.6,994.3 2071.2,989.4 2071.8,996.5 2072.3,998.8 2072.9,995.0 2073.5,1001.5 2074.0,998.8 2074.6,995.1 2075.2,1001.1 2075.8,997.1 2076.3,991.8 2076.9,993.1 2077.5,988.7 2078.0,989.1 2078.6,994.6 2079.2,996.3 2079.7,991.5 2080.3,997.9 2080.9,991.4 2081.5,996.7 2082.0,993.3 2082.6,994.4 2083.2,995.7 2083.7,997.9 2084.3,990.5 2084.9,990.5 2085.4,989.1 2086.0,989.0 2086.6,997.1 2087.2,989.0 2087.7,990.5 2088.3,987.0 2088.9,986.3 2089.4,992.5 2090.0,991.3 2090.6,993.2 2091.1,991.6 2091.7,987.9 2092.3,991.6 2092.9,984.5 2093.4,988.6 2094.0,983.7 2094.6,988.4 2095.1,984.5 2095.7,982.2 2096.3,977.2 2096.8,978.6 2097.4,982.3 2098.0,987.6 2098.6,981.0 2099.1,983.2 2099.7,983.8 2100.3,985.8 2100.8,984.0 2101.4,980.3 2102.0,977.0 2102.5,981.6 2103.1,978.1 2103.7,983.5 2104.3,985.5 2104.8,985.9 2105.4,977.4 2106.0,981.3 2106.5,981.9 2107.1,986.5 2107.7,989.0 2108.2,982.4 2108.8,987.1 2109.4,987.1 2110.0,986.3 2110.5,980.8 2111.1,984.2 2111.7,988.0 2112.2,985.6 2112.8,983.1 2113.4,985.8 2113.9,987.9 2114.5,985.9 2115.1,987.2 2115.7,993.4 2116.2,990.0 2116.8,995.7 2117.4,1000.6 2117.9,993.3 2118.5,997.8 2119.1,992.4 2119.6,989.9 2120.2,995.6 2120.8,997.1 2121.4,989.4 2121.9,990.3 2122.5,999.9 2123.1,995.1 2123.6,998.8 2124.2,992.3 2124.8,990.3 2125.3,992.9 2125.9,992.5 2126.5,996.7 2127.1,997.8 2127.6,995.5 2128.2,993.0 2128.8,995.2 2129.3,991.6 2129.9,989.3 2130.5,997.6 2131.0,995.6 2131.6,997.4 2132.2,994.2 2132.8,995.2 2133.3,991.8 2133.9,997.1 2134.5,991.3 2135.0,1000.0 2135.6,1000.7 2136.2,997.4 2136.7,991.1 2137.3,995.9 2137.9,999.5 2138.5,997.1 2139.0,992.5 2139.6,992.2 2140.2,994.4 2140.7,993.7 2141.3,999.1 2141.9,990.5 2142.4,995.5 2143.0,993.9 2143.6,1001.2 2144.2,992.9 2144.7,998.8 2145.3,1001.2 2145.9,1002.7 2146.4,994.4 2147.0,1000.5 2147.6,999.6 2148.1,992.9 2148.7,992.0 2149.3,1000.8 2149.9,1001.2 2150.4,992.6 2151.0,995.4 2151.6,997.6 2152.1,992.3 2152.7,996.8 2153.3,1000.5 2153.8,998.8 2154.4,994.1 2155.0,999.8 2155.6,1001.5 2156.1,997.6 2156.7,999.9 2157.3,1002.1 2157.8,995.4 2158.4,995.1 2159.0,1001.0 2159.5,993.1 2160.1,993.7 2160.7,1001.0 2161.3,998.7 2161.8,992.5 2162.4,993.4 2163.0,1004.2 2163.5,993.5 2164.1,994.4 2164.7,992.0 2165.2,999.6 2165.8,1001.9 2166.4,997.8 2167.0,997.2 2167.5,995.1 2168.1,997.1 2168.7,1003.7 2169.2,1002.0 2169.8,996.7 2170.4,995.2 2170.9,1000.0 2171.5,995.4 2172.1,995.9 2172.7,995.1 2173.2,993.1 2173.8,1000.9 2174.4,993.6 2174.9,995.2 2175.5,997.4 2176.1,1000.3 2176.6,995.5 2177.2,999.6 2177.8,1004.1 2178.4,1001.2 2178.9,998.6 2179.5,992.7 2180.1,990.5 2180.6,1000.2 2181.2,999.3 2181.8,1000.4 2182.3,998.2 2182.9,997.6 2183.5,1002.6 2184.1,993.0 2184.6,1001.8 2185.2,996.6 2185.8,989.8 2186.3,999.1 2186.9,991.6 2187.5,992.7 2188.0,1002.2 2188.6,991.3 2189.2,999.2 2189.8,993.9 2190.3,996.2 2190.9,997.8 2191.5,1000.9 2192.0,992.4 2192.6,999.4 2193.2,997.0 2193.7,998.1 2194.3,996.3 2194.9,991.7 2195.5,1001.1 2196.0,999.8 2196.6,989.9 2197.2,996.7 2197.7,994.8 2198.3,996.3 2198.9,994.2 2199.4,991.2 2200.0,1001.9 2200.6,1000.8 2201.2,996.8 2201.7,999.0 2202.3,993.3 2202.9,998.4 2203.4,994.3 2204.0,992.9 2204.6,1002.0 2205.1,999.1 2205.7,994.1 2206.3,992.9 2206.9,997.8 2207.4,992.8 2208.0,998.3 2208.6,992.7 2209.1,1001.1 2209.7,1001.1 2210.3,997.5 2210.8,997.0 2211.4,992.8 2212.0,999.5 2212.6,990.4 2213.1,992.1 2213.7,998.5 2214.3,997.1 2214.8,997.9 2215.4,994.2 2216.0,998.7 2216.5,992.6 2217.1,993.1 2217.7,998.7 2218.3,997.0 2218.8,987.4 2219.4,991.0 2220.0,997.0 2220.5,987.6 2221.1,995.6 2221.7,989.9 2222.2,990.9 2222.8,988.7 2223.4,992.3 2224.0,995.3 2224.5,996.0 2225.1,993.4 2225.7,987.5 2226.2,992.5 2226.8,986.8 2227.4,982.7 2227.9,985.4 2228.5,992.0 2229.1,985.1 2229.7,992.8 2230.2,991.2 2230.8,992.0 2231.4,986.4 2231.9,983.8 2232.5,985.9 2233.1,986.7 2233.6,992.0 2234.2,988.5 2234.8,986.8 2235.4,987.8 2235.9,985.7 2236.5,988.0 2237.1,995.4 2237.6,996.7 2238.2,987.9 2238.8,995.7 2239.3,998.6 2239.9,996.2 2240.5,993.9 2241.1,990.2 2241.6,996.8 2242.2,993.4 2242.8,993.9 2243.3,997.7 2243.9,997.4 2244.5,997.9 2245.0,1000.6 2245.6,996.6 2246.2,995.7 2246.8,996.0 2247.3,995.0 2247.9,996.0 2248.5,998.6 2249.0,999.1 2249.6,999.1 2250.2,999.1 2250.7,991.2 2251.3,989.9 2251.9,989.4 2252.5,991.0 2253.0,991.8 2253.6,998.0 2254.2,993.6 2254.7,993.7 2255.3,990.4 2255.9,994.9 2256.4,1000.3 2257.0,998.2 2257.6,997.3 2258.2,992.1 2258.7,997.1 2259.3,992.8 2259.9,992.6 2260.4,998.0 2261.0,993.5 2261.6,993.7 2262.1,993.7 2262.7,999.2 2263.3,990.7 2263.9,996.0 2264.4,990.4 2265.0,993.5 2265.6,991.3 2266.1,991.6 2266.7,998.8 2267.3,995.0 2267.8,994.3 2268.4,995.5 2269.0,1000.4 2269.6,993.8 2270.1,992.3 2270.7,1001.6 2271.3,990.7 2271.8,993.3 2272.4,994.9 2273.0,992.8 2273.5,996.3 2274.1,997.5 2274.7,996.4 2275.3,997.9 2275.8,997.0 2276.4,990.3 2277.0,995.4 2277.5,998.3 2278.1,996.8 2278.7,999.2 2279.2,995.0 2279.8,994.2 2280.4,998.7 2281.0,998.5 2281.5,999.1" fill="none" stroke="#ff0000" stroke-width="9.5" stroke-linejoin="round" stroke-linecap="butt"/>
<path d="M327.0,353.5 327.6,348.2 328.1,352.3 328.7,354.2 329.3,351.5 329.8,350.1 330.4,352.2 331.0,351.3 331.6,348.0 332.1,348.7 332.7,350.4 333.3,342.4 333.8,349.4 334.4,350.7 335.0,347.0 335.5,348.3 336.1,345.1 336.7,350.0 337.3,354.0 337.8,346.6 338.4,348.9 339.0,354.1 339.5,350.0 340.1,348.2 340.7,350.7 341.2,343.2 341.8,344.6 342.4,352.9 343.0,344.4 343.5,342.7 344.1,353.0 344.7,351.0 345.2,353.7 345.8,351.4 346.4,353.4 346.9,346.5 347.5,350.8 348.1,343.6 348.7,351.0 349.2,349.8 349.8,343.6 350.4,343.8 350.9,344.0 351.5,351.9 352.1,350.4 352.6,345.9 353.2,349.9 353.8,349.9 354.4,349.6 354.9,353.0 355.5,351.1 356.1,346.2 356.6,341.4 357.2,343.1 357.8,341.0 358.3,349.1 358.9,349.4 359.5,343.0 360.1,351.8 360.6,344.7 361.2,346.6 361.8,348.0 362.3,353.0 362.9,351.9 363.5,343.3 364.0,352.0 364.6,343.9 365.2,350.6 365.8,348.8 366.3,342.5 366.9,341.1 367.5,351.1 368.0,340.2 368.6,341.8 369.2,351.6 369.7,348.7 370.3,347.6 370.9,346.6 371.5,348.0 372.0,346.2 372.6,341.0 373.2,342.5 373.7,343.3 374.3,345.6 374.9,344.5 375.4,348.3 376.0,349.1 376.6,348.6 377.2,345.0 377.7,344.4 378.3,340.4 378.9,344.6 379.4,349.9 380.0,345.2 380.6,344.7 381.1,343.3 381.7,348.5 382.3,346.5 382.9,340.7 383.4,342.6 384.0,340.5 384.6,341.5 385.1,342.9 385.7,341.1 386.3,351.9 386.8,348.0 387.4,342.1 388.0,346.7 388.6,344.8 389.1,342.0 389.7,344.1 390.3,345.6 390.8,339.9 391.4,349.6 392.0,344.1 392.5,339.1 393.1,345.9 393.7,348.9 394.3,338.1 394.8,345.8 395.4,347.4 396.0,342.7 396.5,338.5 397.1,346.9 397.7,342.6 398.2,342.8 398.8,348.5 399.4,339.4 400.0,341.6 400.5,348.5 401.1,339.2 401.7,337.9 402.2,338.3 402.8,343.7 403.4,342.4 403.9,344.2 404.5,348.9 405.1,340.8 405.7,346.5 406.2,343.8 406.8,344.3 407.4,337.8 407.9,338.6 408.5,340.4 409.1,344.1 409.6,343.2 410.2,342.1 410.8,348.1 411.4,344.1 411.9,341.1 412.5,343.9 413.1,346.6 413.6,338.3 414.2,340.1 414.8,337.4 415.3,340.6 415.9,336.3 416.5,339.1 417.1,347.4 417.6,347.3 418.2,337.7 418.8,342.2 419.3,347.9 419.9,348.1 420.5,341.6 421.0,345.0 421.6,345.8 422.2,341.5 422.8,338.3 423.3,346.2 423.9,345.3 424.5,342.7 425.0,344.3 425.6,346.0 426.2,336.7 426.7,333.9 427.3,340.8 427.9,335.5 428.5,343.0 429.0,341.3 429.6,337.6 430.2,341.2 430.7,343.1 431.3,340.5 431.9,335.0 432.4,336.9 433.0,331.9 433.6,337.4 434.2,332.8 434.7,328.9 435.3,327.8 435.9,325.4 436.4,327.1 437.0,313.5 437.6,310.7 438.1,307.6 438.7,310.5 439.3,299.3 439.9,307.9 440.4,305.5 441.0,302.8 441.6,308.1 442.1,312.6 442.7,317.8 443.3,315.1 443.8,325.1 444.4,324.9 445.0,318.9 445.6,318.8 446.1,326.5 446.7,328.7 447.3,326.5 447.8,326.8 448.4,315.4 449.0,323.9 449.5,315.8 450.1,316.0 450.7,321.4 451.3,321.1 451.8,322.4 452.4,321.1 453.0,333.1 453.5,331.2 454.1,326.2 454.7,333.2 455.2,336.1 455.8,334.8 456.4,337.5 457.0,333.5 457.5,343.6 458.1,337.9 458.7,332.6 459.2,334.9 459.8,342.0 460.4,340.8 460.9,338.7 461.5,335.0 462.1,340.2 462.7,340.8 463.2,332.3 463.8,331.8 464.4,340.0 464.9,338.9 465.5,340.2 466.1,333.7 466.6,342.0 467.2,336.7 467.8,340.4 468.4,334.0 468.9,335.6 469.5,335.5 470.1,336.1 470.6,341.8 471.2,338.9 471.8,342.3 472.3,340.6 472.9,342.0 473.5,338.0 474.1,332.0 474.6,337.3 475.2,332.7 475.8,331.9 476.3,342.0 476.9,338.6 477.5,338.0 478.0,337.4 478.6,335.4 479.2,332.6 479.8,335.0 480.3,335.9 480.9,338.7 481.5,335.8 482.0,333.9 482.6,338.0 483.2,338.2 483.7,331.7 484.3,339.8 484.9,338.1 485.5,332.3 486.0,339.0 486.6,337.4 487.2,332.1 487.7,331.9 488.3,341.1 488.9,339.9 489.4,330.7 490.0,331.4 490.6,340.5 491.2,337.3 491.7,336.9 492.3,330.4 492.9,337.8 493.4,335.2 494.0,336.5 494.6,337.3 495.1,336.2 495.7,336.7 496.3,340.3 496.9,338.4 497.4,335.5 498.0,340.4 498.6,339.2 499.1,337.8 499.7,335.1 500.3,334.9 500.8,340.9 501.4,336.5 502.0,335.3 502.6,332.8 503.1,335.6 503.7,338.7 504.3,329.9 504.8,334.2 505.4,335.6 506.0,330.6 506.5,332.3 507.1,331.0 507.7,331.5 508.3,337.3 508.8,336.6 509.4,341.5 510.0,340.0 510.5,340.6 511.1,335.0 511.7,340.9 512.2,335.3 512.8,330.4 513.4,335.2 514.0,331.1 514.5,331.6 515.1,321.5 515.7,325.9 516.2,317.2 516.8,311.4 517.4,308.9 517.9,313.2 518.5,314.9 519.1,311.5 519.7,311.1 520.2,313.5 520.8,315.6 521.4,316.6 521.9,320.4 522.5,322.7 523.1,328.0 523.6,331.6 524.2,333.3 524.8,331.4 525.4,332.0 525.9,331.6 526.5,338.2 527.1,337.7 527.6,332.9 528.2,333.7 528.8,330.3 529.3,333.8 529.9,337.4 530.5,338.2 531.1,334.9 531.6,331.8 532.2,337.7 532.8,331.6 533.3,331.9 533.9,333.4 534.5,335.5 535.0,335.1 535.6,334.7 536.2,335.0 536.8,328.2 537.3,338.1 537.9,339.0 538.5,327.7 539.0,329.7 539.6,332.1 540.2,335.9 540.7,327.8 541.3,332.2 541.9,331.8 542.5,335.1 543.0,332.1 543.6,330.0 544.2,330.2 544.7,334.3 545.3,330.7 545.9,336.6 546.4,333.5 547.0,329.6 547.6,331.6 548.2,326.6 548.7,334.7 549.3,334.2 549.9,327.8 550.4,327.5 551.0,327.8 551.6,328.7 552.1,332.4 552.7,330.4 553.3,332.8 553.9,328.0 554.4,329.9 555.0,328.8 555.6,321.4 556.1,319.5 556.7,319.5 557.3,320.0 557.8,313.5 558.4,313.2 559.0,317.4 559.6,313.2 560.1,312.7 560.7,310.7 561.3,306.6 561.8,298.1 562.4,301.9 563.0,295.5 563.5,279.8 564.1,272.8 564.7,263.2 565.3,252.0 565.8,236.1 566.4,222.9 567.0,205.9 567.5,184.3 568.1,171.3 568.7,162.0 569.2,151.9 569.8,148.5 570.4,148.4 571.0,160.4 571.5,161.1 572.1,175.2 572.7,184.9 573.2,194.0 573.8,208.8 574.4,210.1 574.9,222.8 575.5,219.8 576.1,223.3 576.7,214.9 577.2,216.5 577.8,223.5 578.4,220.0 578.9,234.0 579.5,240.5 580.1,256.0 580.6,261.7 581.2,281.6 581.8,286.5 582.4,293.3 582.9,309.7 583.5,312.6 584.1,314.2 584.6,323.0 585.2,315.1 585.8,320.6 586.3,324.1 586.9,325.3 587.5,330.6 588.1,322.8 588.6,329.5 589.2,322.9 589.8,323.9 590.3,330.7 590.9,323.2 591.5,322.3 592.0,320.6 592.6,326.6 593.2,330.9 593.8,324.7 594.3,323.5 594.9,327.7 595.5,327.2 596.0,325.8 596.6,326.1 597.2,331.9 597.7,331.6 598.3,330.1 598.9,336.5 599.5,338.2 600.0,335.2 600.6,328.8 601.2,337.9 601.7,335.9 602.3,331.1 602.9,334.6 603.4,329.3 604.0,328.4 604.6,337.4 605.2,337.2 605.7,330.9 606.3,335.7 606.9,327.7 607.4,330.1 608.0,334.9 608.6,328.4 609.1,326.2 609.7,333.2 610.3,335.8 610.9,333.4 611.4,337.5 612.0,327.6 612.6,328.9 613.1,333.2 613.7,329.3 614.3,334.6 614.8,328.9 615.4,335.8 616.0,329.2 616.6,331.9 617.1,331.3 617.7,336.1 618.3,334.3 618.8,330.4 619.4,334.8 620.0,327.2 620.5,334.6 621.1,337.7 621.7,336.1 622.3,336.0 622.8,329.0 623.4,330.7 624.0,338.6 624.5,328.5 625.1,330.1 625.7,335.8 626.2,333.1 626.8,340.2 627.4,338.6 628.0,339.9 628.5,335.2 629.1,341.0 629.7,339.3 630.2,338.3 630.8,339.8 631.4,338.4 631.9,332.0 632.5,336.8 633.1,333.2 633.7,327.4 634.2,328.7 634.8,336.0 635.4,335.5 635.9,328.4 636.5,333.1 637.1,338.8 637.6,336.5 638.2,331.8 638.8,337.7 639.4,332.6 639.9,337.1 640.5,332.5 641.1,327.3 641.6,331.2 642.2,336.0 642.8,332.2 643.3,336.8 643.9,330.9 644.5,338.3 645.1,334.4 645.6,330.9 646.2,335.1 646.8,338.5 647.3,333.8 647.9,327.0 648.5,326.5 649.0,330.7 649.6,325.8 650.2,336.7 650.8,329.0 651.3,334.0 651.9,327.2 652.5,330.4 653.0,331.1 653.6,334.6 654.2,330.7 654.7,326.6 655.3,320.5 655.9,320.8 656.5,323.2 657.0,321.8 657.6,333.0 658.2,329.9 658.7,327.0 659.3,336.5 659.9,334.1 660.4,332.1 661.0,335.6 661.6,335.4 662.2,331.6 662.7,334.2 663.3,329.9 663.9,333.9 664.4,330.6 665.0,337.3 665.6,331.2 666.1,328.5 666.7,334.7 667.3,337.0 667.9,329.9 668.4,327.0 669.0,332.3 669.6,327.6 670.1,335.8 670.7,337.9 671.3,331.8 671.8,340.0 672.4,336.9 673.0,330.8 673.6,330.6 674.1,328.3 674.7,329.7 675.3,338.1 675.8,332.3 676.4,335.8 677.0,328.1 677.5,335.6 678.1,327.4 678.7,330.2 679.3,335.6 679.8,338.3 680.4,331.5 681.0,329.4 681.5,338.9 682.1,329.7 682.7,327.6 683.2,329.3 683.8,334.0 684.4,329.8 685.0,334.4 685.5,331.9 686.1,327.6 686.7,323.1 687.2,325.8 687.8,327.0 688.4,322.1 688.9,328.5 689.5,328.5 690.1,331.6 690.7,326.4 691.2,330.9 691.8,330.9 692.4,328.6 692.9,336.1 693.5,333.3 694.1,335.1 694.6,332.1 695.2,334.3 695.8,332.8 696.4,338.0 696.9,335.6 697.5,333.4 698.1,336.5 698.6,336.1 699.2,336.3 699.8,333.1 700.3,332.7 700.9,334.1 701.5,333.3 702.1,325.4 702.6,329.8 703.2,328.0 703.8,326.2 704.3,325.9 704.9,319.8 705.5,320.6 706.0,312.6 706.6,316.5 707.2,311.0 707.8,313.6 708.3,313.4 708.9,318.1 709.5,326.0 710.0,323.0 710.6,330.5 711.2,326.6 711.7,324.5 712.3,335.6 712.9,333.2 713.5,330.4 714.0,331.6 714.6,335.1 715.2,336.5 715.7,332.6 716.3,332.0 716.9,337.9 717.4,337.1 718.0,334.0 718.6,326.7 719.2,334.8 719.7,332.7 720.3,325.9 720.9,332.0 721.4,333.7 722.0,333.7 722.6,329.5 723.1,334.6 723.7,334.1 724.3,330.4 724.9,330.4 725.4,330.0 726.0,336.0 726.6,332.8 727.1,334.4 727.7,327.3 728.3,331.8 728.8,324.1 729.4,327.9 730.0,326.5 730.6,318.9 731.1,313.2 731.7,318.4 732.3,307.2 732.8,295.6 733.4,289.9 734.0,275.8 734.5,262.4 735.1,256.0 735.7,243.8 736.3,228.0 736.8,211.1 737.4,210.9 738.0,207.4 738.5,209.6 739.1,218.7 739.7,241.2 740.2,255.8 740.8,263.1 741.4,277.3 742.0,294.9 742.5,295.1 743.1,310.7 743.7,316.0 744.2,317.6 744.8,322.9 745.4,321.9 745.9,328.8 746.5,321.4 747.1,331.7 747.7,329.5 748.2,325.2 748.8,324.0 749.4,327.5 749.9,335.0 750.5,325.0 751.1,331.2 751.6,331.0 752.2,335.5 752.8,335.1 753.4,333.7 753.9,328.5 754.5,327.7 755.1,328.8 755.6,335.7 756.2,335.2 756.8,328.1 757.3,334.7 757.9,324.9 758.5,323.2 759.1,316.8 759.6,320.1 760.2,316.8 760.8,308.2 761.3,305.8 761.9,301.7 762.5,300.5 763.0,307.0 763.6,307.0 764.2,311.6 764.8,304.0 765.3,307.1 765.9,319.3 766.5,315.0 767.0,321.5 767.6,321.3 768.2,328.5 768.7,331.5 769.3,322.8 769.9,324.1 770.5,330.9 771.0,327.6 771.6,327.8 772.2,327.9 772.7,328.9 773.3,326.1 773.9,324.4 774.4,325.5 775.0,328.4 775.6,316.8 776.2,320.5 776.7,319.4 777.3,318.1 777.9,309.7 778.4,306.5 779.0,311.5 779.6,304.6 780.1,301.1 780.7,310.3 781.3,307.1 781.9,313.6 782.4,306.8 783.0,310.8 783.6,319.5 784.1,317.1 784.7,313.1 785.3,319.7 785.8,310.0 786.4,312.5 787.0,315.4 787.6,310.0 788.1,308.7 788.7,312.0 789.3,313.4 789.8,308.9 790.4,306.0 791.0,302.1 791.5,299.4 792.1,303.7 792.7,300.3 793.3,298.8 793.8,303.4 794.4,296.6 795.0,296.4 795.5,303.0 796.1,296.7 796.7,308.5 797.2,302.4 797.8,305.4 798.4,304.1 799.0,313.9 799.5,316.1 800.1,314.1 800.7,320.1 801.2,323.1 801.8,317.5 802.4,322.4 802.9,317.3 803.5,330.6 804.1,331.7 804.7,326.6 805.2,329.4 805.8,327.0 806.4,333.8 806.9,330.1 807.5,328.9 808.1,335.2 808.6,329.8 809.2,331.0 809.8,333.7 810.4,338.4 810.9,328.4 811.5,331.6 812.1,336.8 812.6,328.2 813.2,329.1 813.8,338.0 814.3,326.9 814.9,328.5 815.5,334.5 816.1,332.0 816.6,333.6 817.2,325.8 817.8,325.0 818.3,315.3 818.9,308.1 819.5,298.9 820.0,293.4 820.6,282.4 821.2,282.6 821.8,277.4 822.3,269.0 822.9,268.2 823.5,280.2 824.0,288.9 824.6,290.9 825.2,305.9 825.7,309.5 826.3,322.9 826.9,328.8 827.5,323.7 828.0,325.9 828.6,334.4 829.2,338.7 829.7,329.4 830.3,330.6 830.9,337.4 831.4,332.5 832.0,330.9 832.6,336.4 833.2,332.2 833.7,335.3 834.3,338.7 834.9,335.4 835.4,337.7 836.0,338.6 836.6,333.7 837.1,336.4 837.7,323.9 838.3,321.2 838.9,325.7 839.4,323.9 840.0,313.9 840.6,313.0 841.1,314.9 841.7,310.6 842.3,316.8 842.8,316.1 843.4,317.5 844.0,316.0 844.6,321.2 845.1,324.0 845.7,321.7 846.3,329.0 846.8,325.2 847.4,334.0 848.0,331.9 848.5,327.9 849.1,325.3 849.7,332.9 850.3,333.2 850.8,333.8 851.4,325.8 852.0,325.9 852.5,332.8 853.1,326.8 853.7,328.7 854.2,320.8 854.8,326.1 855.4,322.7 856.0,309.7 856.5,313.6 857.1,304.8 857.7,300.4 858.2,288.0 858.8,282.6 859.4,278.2 859.9,269.5 860.5,259.1 861.1,247.3 861.7,242.8 862.2,227.7 862.8,229.7 863.4,218.5 863.9,218.9 864.5,220.2 865.1,223.2 865.6,232.5 866.2,240.6 866.8,244.7 867.4,259.0 867.9,264.5 868.5,272.6 869.1,290.3 869.6,296.1 870.2,300.4 870.8,302.5 871.3,315.1 871.9,315.3 872.5,317.7 873.1,326.2 873.6,329.0 874.2,331.5 874.8,333.0 875.3,335.6 875.9,329.3 876.5,332.3 877.0,331.3 877.6,338.0 878.2,340.2 878.8,330.1 879.3,332.8 879.9,329.7 880.5,333.9 881.0,326.4 881.6,334.4 882.2,327.8 882.7,322.1 883.3,319.6 883.9,321.1 884.5,323.3 885.0,331.8 885.6,332.5 886.2,336.3 886.7,333.1 887.3,343.3 887.9,338.2 888.4,342.1 889.0,342.1 889.6,338.9 890.2,338.5 890.7,338.3 891.3,341.2 891.9,338.8 892.4,343.1 893.0,341.9 893.6,343.5 894.1,343.3 894.7,340.2 895.3,340.2 895.9,344.5 896.4,344.9 897.0,343.6 897.6,340.2 898.1,346.7 898.7,350.3 899.3,339.6 899.8,348.7 900.4,345.7 901.0,344.9 901.6,348.3 902.1,347.0 902.7,338.9 903.3,342.9 903.8,341.7 904.4,341.7 905.0,339.3 905.5,350.8 906.1,341.6 906.7,342.8 907.3,347.4 907.8,347.7 908.4,349.2 909.0,342.8 909.5,342.8 910.1,343.0 910.7,348.7 911.2,343.2 911.8,346.5 912.4,348.9 913.0,343.7 913.5,348.6 914.1,350.0 914.7,347.6 915.2,351.5 915.8,351.6 916.4,342.3 916.9,344.6 917.5,347.5 918.1,340.6 918.7,340.4 919.2,344.1 919.8,342.6 920.4,342.7 920.9,344.3 921.5,341.4 922.1,338.6 922.6,338.4 923.2,345.7 923.8,346.0 924.4,342.9 924.9,342.4 925.5,342.0 926.1,331.0 926.6,331.2 927.2,334.4 927.8,329.7 928.3,326.8 928.9,325.0 929.5,325.8 930.1,327.4 930.6,321.6 931.2,318.8 931.8,319.9 932.3,322.9 932.9,318.8 933.5,320.0 934.0,314.2 934.6,319.7 935.2,316.7 935.8,315.4 936.3,324.6 936.9,328.1 937.5,325.3 938.0,327.1 938.6,330.4 939.2,334.0 939.7,334.8 940.3,328.4 940.9,337.0 941.5,332.6 942.0,339.5 942.6,335.6 943.2,341.0 943.7,345.7 944.3,347.0 944.9,344.5 945.4,343.8 946.0,341.2 946.6,347.1 947.2,349.7 947.7,347.4 948.3,340.4 948.9,339.3 949.4,346.6 950.0,346.0 950.6,345.7 951.1,351.3 951.7,343.4 952.3,350.0 952.9,349.7 953.4,350.3 954.0,348.2 954.6,343.8 955.1,343.0 955.7,345.3 956.3,338.7 956.8,335.2 957.4,344.4 958.0,338.7 958.6,342.9 959.1,335.4 959.7,333.0 960.3,332.7 960.8,334.0 961.4,340.5 962.0,331.2 962.5,329.6 963.1,336.7 963.7,338.6 964.3,333.8 964.8,341.1 965.4,335.5 966.0,338.0 966.5,345.3 967.1,346.7 967.7,341.6 968.2,343.4 968.8,339.1 969.4,349.1 970.0,343.4 970.5,345.3 971.1,346.8 971.7,344.0 972.2,345.4 972.8,343.1 973.4,346.7 973.9,342.3 974.5,347.4 975.1,342.5 975.7,348.9 976.2,343.3 976.8,346.0 977.4,349.3 977.9,343.5 978.5,346.0 979.1,340.1 979.6,345.8 980.2,345.2 980.8,342.6 981.4,335.1 981.9,340.9 982.5,342.5 983.1,338.2 983.6,336.4 984.2,342.0 984.8,338.8 985.3,347.1 985.9,345.3 986.5,347.4 987.1,341.0 987.6,347.7 988.2,350.4 988.8,350.9 989.3,349.0 989.9,343.9 990.5,347.3 991.0,343.1 991.6,351.7 992.2,344.7 992.8,340.0 993.3,345.6 993.9,338.4 994.5,346.4 995.0,342.1 995.6,338.7 996.2,334.6 996.7,334.2 997.3,341.4 997.9,334.2 998.5,331.5 999.0,328.7 999.6,331.9 1000.2,326.7 1000.7,337.8 1001.3,338.6 1001.9,334.1 1002.4,341.5 1003.0,341.0 1003.6,346.7 1004.2,349.5 1004.7,349.8 1005.3,350.2 1005.9,352.9 1006.4,345.0 1007.0,350.2 1007.6,346.1 1008.1,352.7 1008.7,346.5 1009.3,355.9 1009.9,346.5 1010.4,347.0 1011.0,349.4 1011.6,344.0 1012.1,346.5 1012.7,350.9 1013.3,347.4 1013.8,354.5 1014.4,346.4 1015.0,346.3 1015.6,352.8 1016.1,349.1 1016.7,343.8 1017.3,351.8 1017.8,354.1 1018.4,344.4 1019.0,355.4 1019.5,354.1 1020.1,352.2 1020.7,351.7 1021.3,350.0 1021.8,352.2 1022.4,352.3 1023.0,345.6 1023.5,346.2 1024.1,346.0 1024.7,347.0 1025.2,355.1 1025.8,348.7 1026.4,346.9 1027.0,346.2 1027.5,352.4 1028.1,348.5 1028.7,352.1 1029.2,346.6 1029.8,348.0 1030.4,348.8 1030.9,349.5 1031.5,346.4 1032.1,353.1 1032.7,351.1 1033.2,357.3 1033.8,356.5 1034.4,351.4 1034.9,351.7 1035.5,352.1 1036.1,354.2 1036.6,343.8 1037.2,347.3 1037.8,353.7 1038.4,355.2 1038.9,349.9 1039.5,352.2 1040.1,353.6 1040.6,352.6 1041.2,348.0 1041.8,355.2 1042.3,351.5 1042.9,355.7 1043.5,346.6 1044.1,353.7 1044.6,356.6 1045.2,351.8 1045.8,354.2 1046.3,349.2 1046.9,350.4 1047.5,346.6 1048.0,351.4 1048.6,348.6 1049.2,351.6 1049.8,352.4 1050.3,347.8 1050.9,348.9 1051.5,346.0 1052.0,345.6 1052.6,351.1 1053.2,351.2 1053.7,356.7 1054.3,346.8 1054.9,347.3 1055.5,346.0 1056.0,349.2 1056.6,343.2 1057.2,353.9 1057.7,343.9 1058.3,342.6 1058.9,343.8 1059.4,350.6 1060.0,343.9 1060.6,349.2 1061.2,349.6 1061.7,349.6 1062.3,348.4 1062.9,347.2 1063.4,347.5 1064.0,348.3 1064.6,346.0 1065.1,341.9 1065.7,341.1 1066.3,344.8 1066.9,341.2 1067.4,347.6 1068.0,344.7 1068.6,332.4 1069.1,337.5 1069.7,326.1 1070.3,317.6 1070.8,310.0 1071.4,297.3 1072.0,290.8 1072.6,278.3 1073.1,270.8 1073.7,272.4 1074.3,270.8 1074.8,281.6 1075.4,290.8 1076.0,306.4 1076.5,314.7 1077.1,321.9 1077.7,329.4 1078.3,332.4 1078.8,339.2 1079.4,338.4 1080.0,339.2 1080.5,344.4 1081.1,343.2 1081.7,341.9 1082.2,351.8 1082.8,351.4 1083.4,346.1 1084.0,348.0 1084.5,342.8 1085.1,350.6 1085.7,346.0 1086.2,339.2 1086.8,341.4 1087.4,341.9 1087.9,336.4 1088.5,329.8 1089.1,333.7 1089.7,323.3 1090.2,325.5 1090.8,313.1 1091.4,317.4 1091.9,309.6 1092.5,310.6 1093.1,320.1 1093.6,319.7 1094.2,322.4 1094.8,322.9 1095.4,329.9 1095.9,333.8 1096.5,330.4 1097.1,337.8 1097.6,341.4 1098.2,348.0 1098.8,342.0 1099.3,343.3 1099.9,341.4 1100.5,352.4 1101.1,350.6 1101.6,344.0 1102.2,352.8 1102.8,348.1 1103.3,352.9 1103.9,353.8 1104.5,346.0 1105.0,345.2 1105.6,345.9 1106.2,355.6 1106.8,350.6 1107.3,351.9 1107.9,352.2 1108.5,352.7 1109.0,348.2 1109.6,355.7 1110.2,346.2 1110.7,350.9 1111.3,351.0 1111.9,348.9 1112.5,356.3 1113.0,352.1 1113.6,355.9 1114.2,347.2 1114.7,346.4 1115.3,346.2 1115.9,354.8 1116.4,351.2 1117.0,355.2 1117.6,355.1 1118.2,351.9 1118.7,346.2 1119.3,347.1 1119.9,353.4 1120.4,348.7 1121.0,348.0 1121.6,350.0 1122.1,345.1 1122.7,350.7 1123.3,355.6 1123.9,344.4 1124.4,348.7 1125.0,353.9 1125.6,349.7 1126.1,352.3 1126.7,344.2 1127.3,350.5 1127.8,356.2 1128.4,357.0 1129.0,345.5 1129.6,351.4 1130.1,356.0 1130.7,347.6 1131.3,356.9 1131.8,352.6 1132.4,354.4 1133.0,347.8 1133.5,349.5 1134.1,354.6 1134.7,349.6 1135.3,355.4 1135.8,347.7 1136.4,344.9 1137.0,343.6 1137.5,350.4 1138.1,351.5 1138.7,347.0 1139.2,351.4 1139.8,343.5 1140.4,347.5 1141.0,346.1 1141.5,335.1 1142.1,336.8 1142.7,332.0 1143.2,331.0 1143.8,331.9 1144.4,323.7 1144.9,330.3 1145.5,322.1 1146.1,327.8 1146.7,327.3 1147.2,331.8 1147.8,328.7 1148.4,330.6 1148.9,338.1 1149.5,341.8 1150.1,337.2 1150.6,342.2 1151.2,342.2 1151.8,342.0 1152.4,342.6 1152.9,337.9 1153.5,342.6 1154.1,340.1 1154.6,336.8 1155.2,338.3 1155.8,337.8 1156.3,325.3 1156.9,321.0 1157.5,321.3 1158.1,322.0 1158.6,310.6 1159.2,317.0 1159.8,313.9 1160.3,317.4 1160.9,320.2 1161.5,316.0 1162.0,317.4 1162.6,321.5 1163.2,334.8 1163.8,331.0 1164.3,333.5 1164.9,336.4 1165.5,347.2 1166.0,346.6 1166.6,345.6 1167.2,341.2 1167.7,348.2 1168.3,346.3 1168.9,351.9 1169.5,351.7 1170.0,353.0 1170.6,353.2 1171.2,344.6 1171.7,343.6 1172.3,351.0 1172.9,350.6 1173.4,350.6 1174.0,350.8 1174.6,346.1 1175.2,345.8 1175.7,354.6 1176.3,350.3 1176.9,344.2 1177.4,352.0 1178.0,354.8 1178.6,352.0 1179.1,345.7 1179.7,353.9 1180.3,349.4 1180.9,353.6 1181.4,349.8 1182.0,352.0 1182.6,353.6 1183.1,354.4 1183.7,348.2 1184.3,354.6 1184.8,351.9 1185.4,351.7 1186.0,345.3 1186.6,354.1 1187.1,355.5 1187.7,352.8 1188.3,352.6 1188.8,349.1 1189.4,346.3 1190.0,348.0 1190.5,348.5 1191.1,354.0 1191.7,354.3 1192.3,347.1 1192.8,348.6 1193.4,350.5 1194.0,347.8 1194.5,346.7 1195.1,355.4 1195.7,351.3 1196.2,348.3 1196.8,353.5 1197.4,354.4 1198.0,351.9 1198.5,351.3 1199.1,353.1 1199.7,347.0 1200.2,348.4 1200.8,352.9 1201.4,345.7 1201.9,353.3 1202.5,352.8 1203.1,347.9 1203.7,354.7 1204.2,355.1 1204.8,345.2 1205.4,347.6 1205.9,356.6 1206.5,353.8 1207.1,350.9 1207.6,347.4 1208.2,344.2 1208.8,352.8 1209.4,355.1 1209.9,356.8 1210.5,352.3 1211.1,354.2 1211.6,352.1 1212.2,351.9 1212.8,353.3 1213.3,347.5 1213.9,350.7 1214.5,347.4 1215.1,348.2 1215.6,350.1 1216.2,349.5 1216.8,347.7 1217.3,346.9 1217.9,348.6 1218.5,352.5 1219.0,345.8 1219.6,350.0 1220.2,353.6 1220.8,353.1 1221.3,349.9 1221.9,352.0 1222.5,342.5 1223.0,343.4 1223.6,342.0 1224.2,340.3 1224.7,337.4 1225.3,343.0 1225.9,333.7 1226.5,336.4 1227.0,333.9 1227.6,325.8 1228.2,325.1 1228.7,315.3 1229.3,318.8 1229.9,315.6 1230.4,315.8 1231.0,314.9 1231.6,307.4 1232.2,316.9 1232.7,320.6 1233.3,320.7 1233.9,323.6 1234.4,324.3 1235.0,321.1 1235.6,329.7 1236.1,332.8 1236.7,336.5 1237.3,333.1 1237.9,330.6 1238.4,329.3 1239.0,329.4 1239.6,325.9 1240.1,325.4 1240.7,325.9 1241.3,324.7 1241.8,333.0 1242.4,334.8 1243.0,341.1 1243.6,340.0 1244.1,338.7 1244.7,344.7 1245.3,344.9 1245.8,346.0 1246.4,339.0 1247.0,346.7 1247.5,341.6 1248.1,351.0 1248.7,348.7 1249.3,351.2 1249.8,344.3 1250.4,345.9 1251.0,350.5 1251.5,358.0 1252.1,350.0 1252.7,357.8 1253.2,356.0 1253.8,350.4 1254.4,347.4 1255.0,351.3 1255.5,347.4 1256.1,351.7 1256.7,349.5 1257.2,346.7 1257.8,354.3 1258.4,358.5 1258.9,350.5 1259.5,357.2 1260.1,349.9 1260.7,351.3 1261.2,358.0 1261.8,348.9 1262.4,349.8 1262.9,352.5 1263.5,350.9 1264.1,349.1 1264.6,352.1 1265.2,346.4 1265.8,349.6 1266.4,348.8 1266.9,349.1 1267.5,356.7 1268.1,352.7 1268.6,349.5 1269.2,351.9 1269.8,350.1 1270.3,348.0 1270.9,355.4 1271.5,355.5 1272.1,352.0 1272.6,345.1 1273.2,345.7 1273.8,349.1 1274.3,352.6 1274.9,353.6 1275.5,356.8 1276.0,357.4 1276.6,356.8 1277.2,352.6 1277.8,354.7 1278.3,350.6 1278.9,357.7 1279.5,354.2 1280.0,359.1 1280.6,354.8 1281.2,357.6 1281.7,353.2 1282.3,353.0 1282.9,349.9 1283.5,354.6 1284.0,357.6 1284.6,354.7 1285.2,357.9 1285.7,356.6 1286.3,353.0 1286.9,355.2 1287.4,354.4 1288.0,355.4 1288.6,350.7 1289.2,351.1 1289.7,351.3 1290.3,354.7 1290.9,358.7 1291.4,357.8 1292.0,350.3 1292.6,355.5 1293.1,351.1 1293.7,357.7 1294.3,357.3 1294.9,354.2 1295.4,347.5 1296.0,354.7 1296.6,352.7 1297.1,355.2 1297.7,353.3 1298.3,351.1 1298.8,352.7 1299.4,350.8 1300.0,349.3 1300.6,348.3 1301.1,351.3 1301.7,350.2 1302.3,355.3 1302.8,351.6 1303.4,348.9 1304.0,351.3 1304.5,349.4 1305.1,350.7 1305.7,351.2 1306.3,352.3 1306.8,353.9 1307.4,350.0 1308.0,352.8 1308.5,356.2 1309.1,348.1 1309.7,353.3 1310.2,350.4 1310.8,356.9 1311.4,350.3 1312.0,351.2 1312.5,357.3 1313.1,354.3 1313.7,357.3 1314.2,358.6 1314.8,353.6 1315.4,349.5 1315.9,354.6 1316.5,354.1 1317.1,355.8 1317.7,357.2 1318.2,354.2 1318.8,351.3 1319.4,354.3 1319.9,351.7 1320.5,351.7 1321.1,357.6 1321.6,351.9 1322.2,356.1 1322.8,351.3 1323.4,352.5 1323.9,354.9 1324.5,355.2 1325.1,351.0 1325.6,357.2 1326.2,355.3 1326.8,352.4 1327.3,356.8 1327.9,351.3 1328.5,355.4 1329.1,355.0 1329.6,351.4 1330.2,349.5 1330.8,353.0 1331.3,354.0 1331.9,349.1 1332.5,350.3 1333.0,357.9 1333.6,353.0 1334.2,350.4 1334.8,352.9 1335.3,358.6 1335.9,350.7 1336.5,357.5 1337.0,359.1 1337.6,356.0 1338.2,356.0 1338.7,354.9 1339.3,359.1 1339.9,356.5 1340.5,354.0 1341.0,351.7 1341.6,353.9 1342.2,356.9 1342.7,353.8 1343.3,359.1 1343.9,357.6 1344.4,358.2 1345.0,357.1 1345.6,356.6 1346.2,355.4 1346.7,353.8 1347.3,358.7 1347.9,352.0 1348.4,353.1 1349.0,353.7 1349.6,359.4 1350.1,355.8 1350.7,356.3 1351.3,353.6 1351.9,356.4 1352.4,355.2 1353.0,356.3 1353.6,354.8 1354.1,353.3 1354.7,357.6 1355.3,351.8 1355.8,358.6 1356.4,350.6 1357.0,350.9 1357.6,355.4 1358.1,356.1 1358.7,351.0 1359.3,357.2 1359.8,349.3 1360.4,353.4 1361.0,353.3 1361.5,355.9 1362.1,357.8 1362.7,350.0 1363.3,353.3 1363.8,355.7 1364.4,351.6 1365.0,351.2 1365.5,351.8 1366.1,352.6 1366.7,356.0 1367.2,353.6 1367.8,354.5 1368.4,349.8 1369.0,351.6 1369.5,349.3 1370.1,349.6 1370.7,351.4 1371.2,350.9 1371.8,353.3 1372.4,351.7 1372.9,349.6 1373.5,352.8 1374.1,349.3 1374.7,353.1 1375.2,347.8 1375.8,346.6 1376.4,350.1 1376.9,346.8 1377.5,347.9 1378.1,349.8 1378.6,347.0 1379.2,343.6 1379.8,345.0 1380.4,348.6 1380.9,348.1 1381.5,354.5 1382.1,347.0 1382.6,348.0 1383.2,353.1 1383.8,350.9 1384.3,357.6 1384.9,355.7 1385.5,351.2 1386.1,354.5 1386.6,358.0 1387.2,352.8 1387.8,350.9 1388.3,357.7 1388.9,355.9 1389.5,358.7 1390.0,359.1 1390.6,359.2 1391.2,354.3 1391.8,353.0 1392.3,353.7 1392.9,354.0 1393.5,355.2 1394.0,353.0 1394.6,357.9 1395.2,354.0 1395.7,353.0 1396.3,357.3 1396.9,356.6 1397.5,356.4 1398.0,354.6 1398.6,357.5 1399.2,355.4 1399.7,354.2 1400.3,352.9 1400.9,356.5 1401.4,350.6 1402.0,354.2 1402.6,353.6 1403.2,351.4 1403.7,351.1 1404.3,350.2 1404.9,349.3 1405.4,355.8 1406.0,349.5 1406.6,350.4 1407.1,359.0 1407.7,355.9 1408.3,359.6 1408.9,356.7 1409.4,353.2 1410.0,358.5 1410.6,358.1 1411.1,350.9 1411.7,355.1 1412.3,356.6 1412.8,349.0 1413.4,357.4 1414.0,354.3 1414.6,356.3 1415.1,354.5 1415.7,355.8 1416.3,353.4 1416.8,353.1 1417.4,351.3 1418.0,356.1 1418.5,353.6 1419.1,355.1 1419.7,352.0 1420.3,352.4 1420.8,357.8 1421.4,357.2 1422.0,354.1 1422.5,354.2 1423.1,357.8 1423.7,352.9 1424.2,354.9 1424.8,351.6 1425.4,353.7 1426.0,355.2 1426.5,357.8 1427.1,352.1 1427.7,352.8 1428.2,355.9 1428.8,350.9 1429.4,358.9 1429.9,358.3 1430.5,351.8 1431.1,352.0 1431.7,352.4 1432.2,357.0 1432.8,353.4 1433.4,355.1 1433.9,350.4 1434.5,357.8 1435.1,356.1 1435.6,350.5 1436.2,356.7 1436.8,352.1 1437.4,356.3 1437.9,356.5 1438.5,350.5 1439.1,351.0 1439.6,356.3 1440.2,356.0 1440.8,359.2 1441.3,359.0 1441.9,359.4 1442.5,355.6 1443.1,351.4 1443.6,352.1 1444.2,358.7 1444.8,351.6 1445.3,352.9 1445.9,354.1 1446.5,350.4 1447.0,356.2 1447.6,353.3 1448.2,350.1 1448.8,349.8 1449.3,355.4 1449.9,355.2 1450.5,356.1 1451.0,353.2 1451.6,355.3 1452.2,353.5 1452.7,355.5 1453.3,350.5 1453.9,352.2 1454.5,356.5 1455.0,353.8 1455.6,357.0 1456.2,356.1 1456.7,349.0 1457.3,349.3 1457.9,356.1 1458.4,355.5 1459.0,351.5 1459.6,352.7 1460.2,351.1 1460.7,347.8 1461.3,343.2 1461.9,343.6 1462.4,341.7 1463.0,337.5 1463.6,339.8 1464.1,341.8 1464.7,343.2 1465.3,352.8 1465.9,348.9 1466.4,352.8 1467.0,351.8 1467.6,356.2 1468.1,354.5 1468.7,359.8 1469.3,354.4 1469.8,353.8 1470.4,352.3 1471.0,354.0 1471.6,355.6 1472.1,357.0 1472.7,358.7 1473.3,356.2 1473.8,358.0 1474.4,355.1 1475.0,357.3 1475.5,360.0 1476.1,356.2 1476.7,353.6 1477.3,351.4 1477.8,354.0 1478.4,352.9 1479.0,352.4 1479.5,354.2 1480.1,351.7 1480.7,356.4 1481.2,352.1 1481.8,353.5 1482.4,357.4 1483.0,352.5 1483.5,352.3 1484.1,354.3 1484.7,358.0 1485.2,350.2 1485.8,357.6 1486.4,353.4 1486.9,355.5 1487.5,351.0 1488.1,350.0 1488.7,354.0 1489.2,356.0 1489.8,357.8 1490.4,354.1 1490.9,357.2 1491.5,352.4 1492.1,354.1 1492.6,352.6 1493.2,358.9 1493.8,359.4 1494.4,358.3 1494.9,350.8 1495.5,349.9 1496.1,355.3 1496.6,355.8 1497.2,358.0 1497.8,355.2 1498.3,358.5 1498.9,351.8 1499.5,358.6 1500.1,357.2 1500.6,353.9 1501.2,359.5 1501.8,352.5 1502.3,353.0 1502.9,354.2 1503.5,354.9 1504.0,355.6 1504.6,351.7 1505.2,347.5 1505.8,350.6 1506.3,352.3 1506.9,354.0 1507.5,350.0 1508.0,352.7 1508.6,353.5 1509.2,351.0 1509.7,354.2 1510.3,355.7 1510.9,348.5 1511.5,354.9 1512.0,353.0 1512.6,344.8 1513.2,346.2 1513.7,346.6 1514.3,342.3 1514.9,347.4 1515.4,339.4 1516.0,338.8 1516.6,345.4 1517.2,346.5 1517.7,345.6 1518.3,346.0 1518.9,342.3 1519.4,341.6 1520.0,348.2 1520.6,349.4 1521.1,352.3 1521.7,352.6 1522.3,352.3 1522.9,346.8 1523.4,352.7 1524.0,352.2 1524.6,348.7 1525.1,351.1 1525.7,350.5 1526.3,357.0 1526.8,354.6 1527.4,356.9 1528.0,353.1 1528.6,355.6 1529.1,353.7 1529.7,355.4 1530.3,357.0 1530.8,355.2 1531.4,356.9 1532.0,352.1 1532.5,357.0 1533.1,358.4 1533.7,355.1 1534.3,354.2 1534.8,355.7 1535.4,354.5 1536.0,347.7 1536.5,353.8 1537.1,350.8 1537.7,351.2 1538.2,350.3 1538.8,351.0 1539.4,351.1 1540.0,349.2 1540.5,355.9 1541.1,352.5 1541.7,352.1 1542.2,349.4 1542.8,355.5 1543.4,351.5 1543.9,353.7 1544.5,353.8 1545.1,352.5 1545.7,352.3 1546.2,357.8 1546.8,350.8 1547.4,356.0 1547.9,357.4 1548.5,349.9 1549.1,350.4 1549.6,349.9 1550.2,352.1 1550.8,351.8 1551.4,356.2 1551.9,354.8 1552.5,354.3 1553.1,350.8 1553.6,351.1 1554.2,350.2 1554.8,354.9 1555.3,350.6 1555.9,355.1 1556.5,353.6 1557.1,357.0 1557.6,350.7 1558.2,349.8 1558.8,354.7 1559.3,355.1 1559.9,353.9 1560.5,356.8 1561.0,357.8 1561.6,351.0 1562.2,351.1 1562.8,357.1 1563.3,349.1 1563.9,350.6 1564.5,348.8 1565.0,353.5 1565.6,348.5 1566.2,354.1 1566.7,354.6 1567.3,348.2 1567.9,350.3 1568.5,348.3 1569.0,353.7 1569.6,355.5 1570.2,349.8 1570.7,355.7 1571.3,350.9 1571.9,353.0 1572.4,350.0 1573.0,356.7 1573.6,354.2 1574.2,355.7 1574.7,353.8 1575.3,356.3 1575.9,351.5 1576.4,354.1 1577.0,354.2 1577.6,350.4 1578.1,353.9 1578.7,354.6 1579.3,352.9 1579.9,354.2 1580.4,353.8 1581.0,350.0 1581.6,351.2 1582.1,351.1 1582.7,350.4 1583.3,350.0 1583.8,355.4 1584.4,350.0 1585.0,350.0 1585.6,354.1 1586.1,357.0 1586.7,355.0 1587.3,353.0 1587.8,352.5 1588.4,352.5 1589.0,356.9 1589.5,354.3 1590.1,349.9 1590.7,351.6 1591.3,352.9 1591.8,350.7 1592.4,356.2 1593.0,353.2 1593.5,354.7 1594.1,350.9 1594.7,353.7 1595.2,352.3 1595.8,350.0 1596.4,358.5 1597.0,353.0 1597.5,356.9 1598.1,352.0 1598.7,352.8 1599.2,358.4 1599.8,355.1 1600.4,354.4 1600.9,350.6 1601.5,351.5 1602.1,354.3 1602.7,351.6 1603.2,351.9 1603.8,355.5 1604.4,354.5 1604.9,352.9 1605.5,350.7 1606.1,354.2 1606.6,352.5 1607.2,354.2 1607.8,354.3 1608.4,354.6 1608.9,351.6 1609.5,352.9 1610.1,356.0 1610.6,353.7 1611.2,355.9 1611.8,354.1 1612.3,350.7 1612.9,356.4 1613.5,352.8 1614.1,351.0 1614.6,351.2 1615.2,348.3 1615.8,348.8 1616.3,355.2 1616.9,351.3 1617.5,352.2 1618.0,355.1 1618.6,352.9 1619.2,356.2 1619.8,350.5 1620.3,355.6 1620.9,356.0 1621.5,355.4 1622.0,351.2 1622.6,355.4 1623.2,353.4 1623.7,352.7 1624.3,352.7 1624.9,351.8 1625.5,356.3 1626.0,354.1 1626.6,355.1 1627.2,357.7 1627.7,353.6 1628.3,355.3 1628.9,354.3 1629.4,352.1 1630.0,356.1 1630.6,350.2 1631.2,354.8 1631.7,352.8 1632.3,353.1 1632.9,348.7 1633.4,350.5 1634.0,351.0 1634.6,351.7 1635.1,353.6 1635.7,347.7 1636.3,353.4 1636.9,347.3 1637.4,347.8 1638.0,352.0 1638.6,347.3 1639.1,344.0 1639.7,344.2 1640.3,344.3 1640.8,341.1 1641.4,343.3 1642.0,343.0 1642.6,344.4 1643.1,342.3 1643.7,343.9 1644.3,343.0 1644.8,350.2 1645.4,343.5 1646.0,350.9 1646.5,352.7 1647.1,350.4 1647.7,355.0 1648.3,350.6 1648.8,353.4 1649.4,355.4 1650.0,352.2 1650.5,354.1 1651.1,349.1 1651.7,350.1 1652.2,348.7 1652.8,352.9 1653.4,353.1 1654.0,356.6 1654.5,352.6 1655.1,351.8 1655.7,349.9 1656.2,353.6 1656.8,347.9 1657.4,351.5 1657.9,354.1 1658.5,356.2 1659.1,351.9 1659.7,351.6 1660.2,355.3 1660.8,351.1 1661.4,355.7 1661.9,350.1 1662.5,356.8 1663.1,354.8 1663.6,352.4 1664.2,352.0 1664.8,353.9 1665.4,351.0 1665.9,353.4 1666.5,354.4 1667.1,349.7 1667.6,358.0 1668.2,355.4 1668.8,357.6 1669.3,357.1 1669.9,357.6 1670.5,357.8 1671.1,349.6 1671.6,357.0 1672.2,349.9 1672.8,354.3 1673.3,350.5 1673.9,353.6 1674.5,351.1 1675.0,349.9 1675.6,352.5 1676.2,355.2 1676.8,358.0 1677.3,356.8 1677.9,357.9 1678.5,357.6 1679.0,350.8 1679.6,349.8 1680.2,348.9 1680.7,355.1 1681.3,354.4 1681.9,347.6 1682.5,350.9 1683.0,353.0 1683.6,348.4 1684.2,347.9 1684.7,349.8 1685.3,353.1 1685.9,351.6 1686.4,351.3 1687.0,344.3 1687.6,342.8 1688.2,349.4 1688.7,342.7 1689.3,347.4 1689.9,342.2 1690.4,342.3 1691.0,346.1 1691.6,344.3 1692.1,344.9 1692.7,344.7 1693.3,346.5 1693.9,347.4 1694.4,346.4 1695.0,351.2 1695.6,352.5 1696.1,352.2 1696.7,353.2 1697.3,348.4 1697.8,352.9 1698.4,352.5 1699.0,357.2 1699.6,354.2 1700.1,349.7 1700.7,352.4 1701.3,352.5 1701.8,357.6 1702.4,356.0 1703.0,354.5 1703.5,354.2 1704.1,350.1 1704.7,355.7 1705.3,353.9 1705.8,351.9 1706.4,350.1 1707.0,352.8 1707.5,352.7 1708.1,355.8 1708.7,356.8 1709.2,352.8 1709.8,351.3 1710.4,352.9 1711.0,351.7 1711.5,355.3 1712.1,354.8 1712.7,352.8 1713.2,350.4 1713.8,351.3 1714.4,355.9 1714.9,349.0 1715.5,351.0 1716.1,354.5 1716.7,351.8 1717.2,358.2 1717.8,356.4 1718.4,358.5 1718.9,354.2 1719.5,351.3 1720.1,351.5 1720.6,353.3 1721.2,355.7 1721.8,356.7 1722.4,351.0 1722.9,358.1 1723.5,353.4 1724.1,350.7 1724.6,351.8 1725.2,350.5 1725.8,350.6 1726.3,353.7 1726.9,352.9 1727.5,353.6 1728.1,358.9 1728.6,352.7 1729.2,350.5 1729.8,358.0 1730.3,355.8 1730.9,356.5 1731.5,355.6 1732.0,356.4 1732.6,358.3 1733.2,358.1 1733.8,350.4 1734.3,354.4 1734.9,358.6 1735.5,357.2 1736.0,356.7 1736.6,355.2 1737.2,358.1 1737.7,352.3 1738.3,355.9 1738.9,355.5 1739.5,354.1 1740.0,354.1 1740.6,355.5 1741.2,352.9 1741.7,349.9 1742.3,351.8 1742.9,349.8 1743.4,353.1 1744.0,352.5 1744.6,357.5 1745.2,351.6 1745.7,357.3 1746.3,357.4 1746.9,354.5 1747.4,354.7 1748.0,359.5 1748.6,355.6 1749.1,356.5 1749.7,354.4 1750.3,357.6 1750.9,356.1 1751.4,354.7 1752.0,350.9 1752.6,354.1 1753.1,354.2 1753.7,357.8 1754.3,354.8 1754.8,352.7 1755.4,355.0 1756.0,350.1 1756.6,354.0 1757.1,355.3 1757.7,350.8 1758.3,354.3 1758.8,350.4 1759.4,355.1 1760.0,358.0 1760.5,358.0 1761.1,352.3 1761.7,351.2 1762.3,354.1 1762.8,353.5 1763.4,351.6 1764.0,358.1 1764.5,352.9 1765.1,356.7 1765.7,359.1 1766.2,357.9 1766.8,359.6 1767.4,354.3 1768.0,358.9 1768.5,354.1 1769.1,352.9 1769.7,351.3 1770.2,355.3 1770.8,352.3 1771.4,351.1 1771.9,358.8 1772.5,350.7 1773.1,354.6 1773.7,354.3 1774.2,354.0 1774.8,352.5 1775.4,359.2 1775.9,358.0 1776.5,355.2 1777.1,360.1 1777.6,352.6 1778.2,354.5 1778.8,352.1 1779.4,353.3 1779.9,353.7 1780.5,354.4 1781.1,354.5 1781.6,349.6 1782.2,355.2 1782.8,357.0 1783.3,351.3 1783.9,351.6 1784.5,353.0 1785.1,352.1 1785.6,356.9 1786.2,354.6 1786.8,350.9 1787.3,357.0 1787.9,355.8 1788.5,352.6 1789.0,355.4 1789.6,357.4 1790.2,353.0 1790.8,354.3 1791.3,353.3 1791.9,355.3 1792.5,358.4 1793.0,354.4 1793.6,358.3 1794.2,356.5 1794.7,351.7 1795.3,358.9 1795.9,353.8 1796.5,352.9 1797.0,354.2 1797.6,352.5 1798.2,357.8 1798.7,360.1 1799.3,359.1 1799.9,352.6 1800.4,354.8 1801.0,354.3 1801.6,351.3 1802.2,357.6 1802.7,351.9 1803.3,352.7 1803.9,359.7 1804.4,355.2 1805.0,358.5 1805.6,354.8 1806.1,355.8 1806.7,357.0 1807.3,353.0 1807.9,357.8 1808.4,358.2 1809.0,357.3 1809.6,355.2 1810.1,358.9 1810.7,353.3 1811.3,354.4 1811.8,354.9 1812.4,354.0 1813.0,355.3 1813.6,355.6 1814.1,352.6 1814.7,354.0 1815.3,357.5 1815.8,355.5 1816.4,351.7 1817.0,358.4 1817.5,358.2 1818.1,356.5 1818.7,355.8 1819.3,352.7 1819.8,354.4 1820.4,357.9 1821.0,355.6 1821.5,358.8 1822.1,352.7 1822.7,358.4 1823.2,357.0 1823.8,356.6 1824.4,357.9 1825.0,357.1 1825.5,358.7 1826.1,351.7 1826.7,352.5 1827.2,356.7 1827.8,354.4 1828.4,354.9 1828.9,357.2 1829.5,353.7 1830.1,359.1 1830.7,355.4 1831.2,357.1 1831.8,352.2 1832.4,356.4 1832.9,357.5 1833.5,358.6 1834.1,351.4 1834.6,356.2 1835.2,349.7 1835.8,353.9 1836.4,347.1 1836.9,347.4 1837.5,349.3 1838.1,347.5 1838.6,345.4 1839.2,347.2 1839.8,345.8 1840.3,345.4 1840.9,346.1 1841.5,343.3 1842.1,338.7 1842.6,342.2 1843.2,339.5 1843.8,345.7 1844.3,342.1 1844.9,341.2 1845.5,343.2 1846.0,342.3 1846.6,343.2 1847.2,349.5 1847.8,352.7 1848.3,352.2 1848.9,353.0 1849.5,347.8 1850.0,354.2 1850.6,349.0 1851.2,354.0 1851.7,354.7 1852.3,357.2 1852.9,349.8 1853.5,358.0 1854.0,356.4 1854.6,357.3 1855.2,352.2 1855.7,355.2 1856.3,354.7 1856.9,355.5 1857.4,358.9 1858.0,357.1 1858.6,353.9 1859.2,351.5 1859.7,352.8 1860.3,358.3 1860.9,357.2 1861.4,358.9 1862.0,356.4 1862.6,358.2 1863.1,355.8 1863.7,356.4 1864.3,360.3 1864.9,359.9 1865.4,353.9 1866.0,353.2 1866.6,357.8 1867.1,359.0 1867.7,354.0 1868.3,354.4 1868.8,356.7 1869.4,353.6 1870.0,356.8 1870.6,357.1 1871.1,353.3 1871.7,352.0 1872.3,353.2 1872.8,358.4 1873.4,358.9 1874.0,359.8 1874.5,354.9 1875.1,358.2 1875.7,351.8 1876.3,353.0 1876.8,351.5 1877.4,351.4 1878.0,354.8 1878.5,353.9 1879.1,349.4 1879.7,350.7 1880.2,349.3 1880.8,349.8 1881.4,346.0 1882.0,350.2 1882.5,350.1 1883.1,346.6 1883.7,344.7 1884.2,342.6 1884.8,344.7 1885.4,346.3 1885.9,347.0 1886.5,343.0 1887.1,340.9 1887.7,344.9 1888.2,347.5 1888.8,343.9 1889.4,347.6 1889.9,350.1 1890.5,344.5 1891.1,351.2 1891.6,348.8 1892.2,348.3 1892.8,353.6 1893.4,351.0 1893.9,350.7 1894.5,348.7 1895.1,353.3 1895.6,357.0 1896.2,352.7 1896.8,356.7 1897.3,358.0 1897.9,357.9 1898.5,354.0 1899.1,353.1 1899.6,359.1 1900.2,359.7 1900.8,359.8 1901.3,353.9 1901.9,357.2 1902.5,360.0 1903.0,359.8 1903.6,355.7 1904.2,357.3 1904.8,354.3 1905.3,357.4 1905.9,354.6 1906.5,355.5 1907.0,354.4 1907.6,357.3 1908.2,357.1 1908.7,355.9 1909.3,359.4 1909.9,360.8 1910.5,360.4 1911.0,357.6 1911.6,359.9 1912.2,354.2 1912.7,361.5 1913.3,359.5 1913.9,358.0 1914.4,352.5 1915.0,360.3 1915.6,353.6 1916.2,355.8 1916.7,360.5 1917.3,359.7 1917.9,354.1 1918.4,359.8 1919.0,356.1 1919.6,352.8 1920.1,352.9 1920.7,356.0 1921.3,356.7 1921.9,355.5 1922.4,353.4 1923.0,356.0 1923.6,360.1 1924.1,353.6 1924.7,357.8 1925.3,358.3 1925.8,356.2 1926.4,357.2 1927.0,361.4 1927.6,358.9 1928.1,361.3 1928.7,358.4 1929.3,359.3 1929.8,352.1 1930.4,359.5 1931.0,360.1 1931.5,357.6 1932.1,360.3 1932.7,358.5 1933.3,356.6 1933.8,358.8 1934.4,358.1 1935.0,352.8 1935.5,356.2 1936.1,357.9 1936.7,358.3 1937.2,355.6 1937.8,353.7 1938.4,353.0 1939.0,353.3 1939.5,360.7 1940.1,353.7 1940.7,357.4 1941.2,356.7 1941.8,355.9 1942.4,354.1 1942.9,360.6 1943.5,359.3 1944.1,361.4 1944.7,355.0 1945.2,355.4 1945.8,352.5 1946.4,360.7 1946.9,355.2 1947.5,354.0 1948.1,355.8 1948.6,358.3 1949.2,355.4 1949.8,360.0 1950.4,354.7 1950.9,352.5 1951.5,356.5 1952.1,358.6 1952.6,357.4 1953.2,359.4 1953.8,359.1 1954.3,360.6 1954.9,356.8 1955.5,362.3 1956.1,359.3 1956.6,355.1 1957.2,357.0 1957.8,361.1 1958.3,358.7 1958.9,355.4 1959.5,353.4 1960.0,356.0 1960.6,359.4 1961.2,353.7 1961.8,356.2 1962.3,356.4 1962.9,353.3 1963.5,360.8 1964.0,354.7 1964.6,354.1 1965.2,359.6 1965.7,353.2 1966.3,357.2 1966.9,359.3 1967.5,354.5 1968.0,361.5 1968.6,361.2 1969.2,359.8 1969.7,363.3 1970.3,361.8 1970.9,353.9 1971.4,361.1 1972.0,353.6 1972.6,355.7 1973.2,355.5 1973.7,356.2 1974.3,362.5 1974.9,358.3 1975.4,355.4 1976.0,355.7 1976.6,357.2 1977.1,357.7 1977.7,360.3 1978.3,359.5 1978.9,357.1 1979.4,354.1 1980.0,358.8 1980.6,356.0 1981.1,355.5 1981.7,354.0 1982.3,353.2 1982.8,355.9 1983.4,355.0 1984.0,353.0 1984.6,354.8 1985.1,358.2 1985.7,357.6 1986.3,359.6 1986.8,358.2 1987.4,358.3 1988.0,358.0 1988.5,356.0 1989.1,354.6 1989.7,360.9 1990.3,361.6 1990.8,355.4 1991.4,357.3 1992.0,360.1 1992.5,358.2 1993.1,359.6 1993.7,359.6 1994.2,356.9 1994.8,360.7 1995.4,355.4 1996.0,353.8 1996.5,359.4 1997.1,356.4 1997.7,356.1 1998.2,357.6 1998.8,353.5 1999.4,358.6 1999.9,353.5 2000.5,355.0 2001.1,358.5 2001.7,354.7 2002.2,354.0 2002.8,355.5 2003.4,360.6 2003.9,359.1 2004.5,360.3 2005.1,358.3 2005.6,360.5 2006.2,357.5 2006.8,355.1 2007.4,356.6 2007.9,360.3 2008.5,357.4 2009.1,358.7 2009.6,363.0 2010.2,360.9 2010.8,363.2 2011.3,361.5 2011.9,355.5 2012.5,358.5 2013.1,359.7 2013.6,357.8 2014.2,353.9 2014.8,356.5 2015.3,355.8 2015.9,361.7 2016.5,357.7 2017.0,356.3 2017.6,358.3 2018.2,356.7 2018.8,359.7 2019.3,357.6 2019.9,358.7 2020.5,355.1 2021.0,358.2 2021.6,355.8 2022.2,355.2 2022.7,361.5 2023.3,359.8 2023.9,362.6 2024.5,358.4 2025.0,359.3 2025.6,362.5 2026.2,355.2 2026.7,354.1 2027.3,354.1 2027.9,359.1 2028.4,356.1 2029.0,361.2 2029.6,361.7 2030.2,361.6 2030.7,358.7 2031.3,359.4 2031.9,357.2 2032.4,360.4 2033.0,360.1 2033.6,358.2 2034.1,353.6 2034.7,359.0 2035.3,353.8 2035.9,357.5 2036.4,356.5 2037.0,361.2 2037.6,355.4 2038.1,357.2 2038.7,360.0 2039.3,356.0 2039.8,358.7 2040.4,359.4 2041.0,363.1 2041.6,363.0 2042.1,355.4 2042.7,359.0 2043.3,362.5 2043.8,357.8 2044.4,357.2 2045.0,358.2 2045.5,361.6 2046.1,360.8 2046.7,356.6 2047.3,357.6 2047.8,361.0 2048.4,360.6 2049.0,354.2 2049.5,353.9 2050.1,361.0 2050.7,361.7 2051.2,358.2 2051.8,360.7 2052.4,358.5 2053.0,355.4 2053.5,362.2 2054.1,361.0 2054.7,359.5 2055.2,353.8 2055.8,361.3 2056.4,354.5 2056.9,361.8 2057.5,358.9 2058.1,360.4 2058.7,358.4 2059.2,363.0 2059.8,355.6 2060.4,355.9 2060.9,360.0 2061.5,354.4 2062.1,357.3 2062.6,356.2 2063.2,360.5 2063.8,355.4 2064.4,359.4 2064.9,353.3 2065.5,359.5 2066.1,352.0 2066.6,355.5 2067.2,357.5 2067.8,356.3 2068.3,359.0 2068.9,354.6 2069.5,354.2 2070.1,360.9 2070.6,357.2 2071.2,352.8 2071.8,353.1 2072.3,355.7 2072.9,357.1 2073.5,356.6 2074.0,362.3 2074.6,355.1 2075.2,358.8 2075.8,356.6 2076.3,360.9 2076.9,357.2 2077.5,354.7 2078.0,354.7 2078.6,358.3 2079.2,358.3 2079.7,362.3 2080.3,356.4 2080.9,358.4 2081.5,354.4 2082.0,359.3 2082.6,362.6 2083.2,362.5 2083.7,355.4 2084.3,358.7 2084.9,361.0 2085.4,356.7 2086.0,359.8 2086.6,363.2 2087.2,359.7 2087.7,362.9 2088.3,359.7 2088.9,360.7 2089.4,355.2 2090.0,360.8 2090.6,357.4 2091.1,354.7 2091.7,359.9 2092.3,362.1 2092.9,362.4 2093.4,359.6 2094.0,354.6 2094.6,354.7 2095.1,359.4 2095.7,355.3 2096.3,359.1 2096.8,361.1 2097.4,356.7 2098.0,361.0 2098.6,355.7 2099.1,354.0 2099.7,357.8 2100.3,356.1 2100.8,362.2 2101.4,361.4 2102.0,356.1 2102.5,361.5 2103.1,360.4 2103.7,361.3 2104.3,360.8 2104.8,362.9 2105.4,357.5 2106.0,355.4 2106.5,355.5 2107.1,361.7 2107.7,356.0 2108.2,357.5 2108.8,360.1 2109.4,357.4 2110.0,355.8 2110.5,358.4 2111.1,357.7 2111.7,358.8 2112.2,363.1 2112.8,361.7 2113.4,359.1 2113.9,355.6 2114.5,362.4 2115.1,356.4 2115.7,356.5 2116.2,355.6 2116.8,359.0 2117.4,354.6 2117.9,357.4 2118.5,356.5 2119.1,359.4 2119.6,356.0 2120.2,355.4 2120.8,361.1 2121.4,362.5 2121.9,364.0 2122.5,363.4 2123.1,363.4 2123.6,358.8 2124.2,354.3 2124.8,353.6 2125.3,356.4 2125.9,354.4 2126.5,360.4 2127.1,361.9 2127.6,354.4 2128.2,360.0 2128.8,357.3 2129.3,354.3 2129.9,354.7 2130.5,363.2 2131.0,359.3 2131.6,354.8 2132.2,354.1 2132.8,359.2 2133.3,359.7 2133.9,355.0 2134.5,361.5 2135.0,357.2 2135.6,361.9 2136.2,359.2 2136.7,356.8 2137.3,362.7 2137.9,359.4 2138.5,356.5 2139.0,362.8 2139.6,360.4 2140.2,356.6 2140.7,363.8 2141.3,358.9 2141.9,355.2 2142.4,362.8 2143.0,358.1 2143.6,356.9 2144.2,356.4 2144.7,355.4 2145.3,359.4 2145.9,355.0 2146.4,357.0 2147.0,356.1 2147.6,361.0 2148.1,359.9 2148.7,357.5 2149.3,362.5 2149.9,362.9 2150.4,360.8 2151.0,359.4 2151.6,359.5 2152.1,363.2 2152.7,362.3 2153.3,358.5 2153.8,356.5 2154.4,360.3 2155.0,354.2 2155.6,355.0 2156.1,358.9 2156.7,357.9 2157.3,359.6 2157.8,356.1 2158.4,359.5 2159.0,356.0 2159.5,361.7 2160.1,356.4 2160.7,358.6 2161.3,359.0 2161.8,362.1 2162.4,363.3 2163.0,356.0 2163.5,360.6 2164.1,360.6 2164.7,361.5 2165.2,356.7 2165.8,355.0 2166.4,361.3 2167.0,356.3 2167.5,355.9 2168.1,356.8 2168.7,362.9 2169.2,358.5 2169.8,361.2 2170.4,359.9 2170.9,360.1 2171.5,354.3 2172.1,358.9 2172.7,363.8 2173.2,358.2 2173.8,364.0 2174.4,360.9 2174.9,356.8 2175.5,357.7 2176.1,359.8 2176.6,359.1 2177.2,354.1 2177.8,361.7 2178.4,359.3 2178.9,359.2 2179.5,354.6 2180.1,355.8 2180.6,355.9 2181.2,357.3 2181.8,359.7 2182.3,358.2 2182.9,354.5 2183.5,355.3 2184.1,361.9 2184.6,360.3 2185.2,357.7 2185.8,355.9 2186.3,360.0 2186.9,354.4 2187.5,360.2 2188.0,359.5 2188.6,358.3 2189.2,363.8 2189.8,361.9 2190.3,357.3 2190.9,361.7 2191.5,360.5 2192.0,356.3 2192.6,362.7 2193.2,362.1 2193.7,361.6 2194.3,358.3 2194.9,355.8 2195.5,359.7 2196.0,363.7 2196.6,360.0 2197.2,363.1 2197.7,357.7 2198.3,364.3 2198.9,362.0 2199.4,358.2 2200.0,356.9 2200.6,355.6 2201.2,355.4 2201.7,360.5 2202.3,363.5 2202.9,364.1 2203.4,362.5 2204.0,360.8 2204.6,363.6 2205.1,360.8 2205.7,354.8 2206.3,356.1 2206.9,360.1 2207.4,360.9 2208.0,362.7 2208.6,357.0 2209.1,356.6 2209.7,359.9 2210.3,362.2 2210.8,358.2 2211.4,358.1 2212.0,361.7 2212.6,359.0 2213.1,359.4 2213.7,363.0 2214.3,362.4 2214.8,356.9 2215.4,359.5 2216.0,354.2 2216.5,356.2 2217.1,358.8 2217.7,362.6 2218.3,355.3 2218.8,361.3 2219.4,359.1 2220.0,361.9 2220.5,361.6 2221.1,363.8 2221.7,360.8 2222.2,357.0 2222.8,361.9 2223.4,356.2 2224.0,362.8 2224.5,361.3 2225.1,360.6 2225.7,358.0 2226.2,358.2 2226.8,363.7 2227.4,364.9 2227.9,360.4 2228.5,365.4 2229.1,357.1 2229.7,364.1 2230.2,359.6 2230.8,357.9 2231.4,364.1 2231.9,356.6 2232.5,358.4 2233.1,362.3 2233.6,356.9 2234.2,361.9 2234.8,357.1 2235.4,357.5 2235.9,362.1 2236.5,358.4 2237.1,358.7 2237.6,364.0 2238.2,360.3 2238.8,359.1 2239.3,360.6 2239.9,358.8 2240.5,356.8 2241.1,363.7 2241.6,356.7 2242.2,362.9 2242.8,364.4 2243.3,365.8 2243.9,360.1 2244.5,364.2 2245.0,362.6 2245.6,364.7 2246.2,358.5 2246.8,360.3 2247.3,365.7 2247.9,364.8 2248.5,364.7 2249.0,358.1 2249.6,361.3 2250.2,363.4 2250.7,364.0 2251.3,358.3 2251.9,364.4 2252.5,361.0 2253.0,357.2 2253.6,357.6 2254.2,362.6 2254.7,359.2 2255.3,359.2 2255.9,364.7 2256.4,356.6 2257.0,361.6 2257.6,363.4 2258.2,357.0 2258.7,360.0 2259.3,356.2 2259.9,362.0 2260.4,363.9 2261.0,357.4 2261.6,359.0 2262.1,361.7 2262.7,359.7 2263.3,357.5 2263.9,358.8 2264.4,365.1 2265.0,363.0 2265.6,357.9 2266.1,357.1 2266.7,365.1 2267.3,359.1 2267.8,359.7 2268.4,364.2 2269.0,362.9 2269.6,357.2 2270.1,364.3 2270.7,357.1 2271.3,358.9 2271.8,358.6 2272.4,360.9 2273.0,364.4 2273.5,361.1 2274.1,357.8 2274.7,360.7 2275.3,359.0 2275.8,361.8 2276.4,355.8 2277.0,362.9 2277.5,363.2 2278.1,359.3 2278.7,362.5 2279.2,355.1 2279.8,356.6 2280.4,362.2 2281.0,357.3 2281.5,363.1" fill="none" stroke="#800000" stroke-width="9.5" stroke-linejoin="round" stroke-linecap="butt"/>
<path d="M327.0,580.4 327.6,580.3 328.1,579.7 328.7,573.7 329.3,571.7 329.8,581.1 330.4,578.1 331.0,572.1 331.6,582.2 332.1,583.3 332.7,576.1 333.3,581.7 333.8,573.7 334.4,577.2 335.0,580.8 335.5,576.0 336.1,576.5 336.7,571.8 337.3,579.0 337.8,576.0 338.4,573.8 339.0,579.7 339.5,582.1 340.1,577.4 340.7,579.0 341.2,581.0 341.8,570.3 342.4,576.1 343.0,580.2 343.5,571.6 344.1,573.0 344.7,576.7 345.2,578.5 345.8,576.5 346.4,576.1 346.9,570.7 347.5,578.2 348.1,574.4 348.7,572.5 349.2,582.5 349.8,579.5 350.4,577.2 350.9,579.8 351.5,576.8 352.1,572.8 352.6,577.6 353.2,578.9 353.8,578.5 354.4,576.2 354.9,579.9 355.5,580.1 356.1,579.4 356.6,574.2 357.2,573.1 357.8,575.7 358.3,576.7 358.9,571.2 359.5,575.2 360.1,573.6 360.6,568.6 361.2,572.9 361.8,572.9 362.3,579.4 362.9,570.6 363.5,580.7 364.0,580.9 364.6,577.5 365.2,572.6 365.8,578.6 366.3,571.7 366.9,573.4 367.5,577.2 368.0,574.8 368.6,575.2 369.2,573.5 369.7,570.6 370.3,573.9 370.9,578.9 371.5,579.0 372.0,571.4 372.6,576.8 373.2,574.9 373.7,575.3 374.3,581.2 374.9,578.6 375.4,574.8 376.0,574.3 376.6,578.7 377.2,573.3 377.7,578.1 378.3,577.7 378.9,577.7 379.4,574.2 380.0,576.0 380.6,577.1 381.1,571.2 381.7,576.6 382.3,574.2 382.9,575.4 383.4,574.9 384.0,573.8 384.6,577.5 385.1,573.3 385.7,571.0 386.3,577.8 386.8,574.2 387.4,576.4 388.0,580.9 388.6,577.2 389.1,575.4 389.7,572.3 390.3,576.4 390.8,578.6 391.4,575.7 392.0,576.2 392.5,571.5 393.1,571.6 393.7,572.1 394.3,573.3 394.8,577.6 395.4,572.8 396.0,569.4 396.5,572.8 397.1,569.8 397.7,573.8 398.2,570.9 398.8,577.9 399.4,572.7 400.0,574.3 400.5,574.2 401.1,572.2 401.7,578.2 402.2,568.5 402.8,576.3 403.4,571.5 403.9,569.5 404.5,570.8 405.1,576.7 405.7,578.1 406.2,576.4 406.8,570.8 407.4,572.7 407.9,568.6 408.5,572.0 409.1,570.7 409.6,568.5 410.2,571.2 410.8,577.8 411.4,573.1 411.9,569.8 412.5,567.6 413.1,575.5 413.6,566.9 414.2,566.4 414.8,567.5 415.3,574.8 415.9,577.1 416.5,568.4 417.1,573.9 417.6,573.6 418.2,571.8 418.8,566.0 419.3,573.1 419.9,570.3 420.5,575.8 421.0,576.6 421.6,573.0 422.2,567.9 422.8,570.5 423.3,574.2 423.9,576.8 424.5,571.8 425.0,570.8 425.6,573.1 426.2,575.5 426.7,568.4 427.3,572.6 427.9,572.9 428.5,571.3 429.0,569.9 429.6,575.7 430.2,573.9 430.7,566.5 431.3,564.6 431.9,567.4 432.4,569.5 433.0,567.3 433.6,569.6 434.2,573.2 434.7,573.4 435.3,573.3 435.9,572.1 436.4,565.7 437.0,566.6 437.6,567.3 438.1,564.3 438.7,562.0 439.3,562.5 439.9,562.0 440.4,560.3 441.0,553.3 441.6,552.3 442.1,555.5 442.7,562.8 443.3,559.6 443.8,565.8 444.4,565.4 445.0,570.5 445.6,562.1 446.1,570.6 446.7,563.3 447.3,570.4 447.8,569.9 448.4,567.2 449.0,567.6 449.5,568.8 450.1,569.4 450.7,565.5 451.3,568.1 451.8,564.0 452.4,568.3 453.0,568.9 453.5,567.5 454.1,568.8 454.7,569.8 455.2,569.4 455.8,565.8 456.4,566.3 457.0,566.6 457.5,574.3 458.1,569.1 458.7,571.2 459.2,565.9 459.8,569.2 460.4,568.2 460.9,565.6 461.5,565.7 462.1,565.8 462.7,570.9 463.2,570.7 463.8,571.8 464.4,566.3 464.9,568.6 465.5,571.2 466.1,569.7 466.6,572.9 467.2,564.1 467.8,571.3 468.4,565.3 468.9,569.4 469.5,568.0 470.1,568.2 470.6,570.9 471.2,563.2 471.8,562.5 472.3,571.9 472.9,567.1 473.5,566.7 474.1,564.6 474.6,569.0 475.2,571.3 475.8,574.0 476.3,568.5 476.9,565.0 477.5,570.7 478.0,565.1 478.6,569.0 479.2,570.1 479.8,572.5 480.3,565.0 480.9,566.7 481.5,568.2 482.0,572.4 482.6,567.5 483.2,566.6 483.7,570.0 484.3,561.9 484.9,561.6 485.5,561.7 486.0,566.5 486.6,563.9 487.2,566.0 487.7,567.5 488.3,567.7 488.9,565.6 489.4,562.1 490.0,568.7 490.6,569.2 491.2,566.4 491.7,564.2 492.3,572.3 492.9,563.4 493.4,571.4 494.0,568.3 494.6,563.7 495.1,566.7 495.7,565.8 496.3,559.5 496.9,563.6 497.4,566.1 498.0,563.6 498.6,557.2 499.1,557.4 499.7,562.2 500.3,555.1 500.8,561.9 501.4,559.7 502.0,557.1 502.6,556.3 503.1,555.6 503.7,550.5 504.3,558.3 504.8,552.2 505.4,553.9 506.0,547.0 506.5,553.9 507.1,550.6 507.7,544.9 508.3,551.2 508.8,550.8 509.4,546.9 510.0,545.9 510.5,553.1 511.1,545.9 511.7,557.5 512.2,559.2 512.8,551.6 513.4,562.7 514.0,557.6 514.5,565.2 515.1,567.3 515.7,561.2 516.2,563.6 516.8,570.6 517.4,569.2 517.9,568.6 518.5,563.5 519.1,568.1 519.7,559.8 520.2,561.4 520.8,560.9 521.4,559.2 521.9,564.2 522.5,560.4 523.1,570.7 523.6,565.3 524.2,567.9 524.8,564.8 525.4,560.1 525.9,563.2 526.5,558.3 527.1,561.4 527.6,565.1 528.2,560.4 528.8,568.3 529.3,565.3 529.9,558.4 530.5,562.1 531.1,566.5 531.6,559.3 532.2,557.3 532.8,558.3 533.3,560.0 533.9,558.5 534.5,556.3 535.0,558.0 535.6,557.8 536.2,559.9 536.8,563.2 537.3,559.5 537.9,553.9 538.5,555.0 539.0,556.8 539.6,563.7 540.2,554.6 540.7,561.1 541.3,558.7 541.9,557.3 542.5,561.9 543.0,563.7 543.6,564.3 544.2,558.6 544.7,558.2 545.3,558.0 545.9,558.4 546.4,558.6 547.0,562.7 547.6,561.6 548.2,565.7 548.7,570.0 549.3,568.0 549.9,560.3 550.4,568.9 551.0,562.6 551.6,560.2 552.1,560.9 552.7,558.9 553.3,561.2 553.9,562.9 554.4,558.8 555.0,567.6 555.6,561.6 556.1,562.6 556.7,560.0 557.3,565.8 557.8,564.6 558.4,559.8 559.0,553.9 559.6,560.1 560.1,556.0 560.7,553.2 561.3,555.8 561.8,557.4 562.4,555.0 563.0,547.1 563.5,553.7 564.1,546.6 564.7,548.4 565.3,540.5 565.8,542.7 566.4,538.8 567.0,526.7 567.5,531.9 568.1,525.8 568.7,521.0 569.2,511.8 569.8,516.5 570.4,515.7 571.0,518.1 571.5,513.9 572.1,511.8 572.7,520.8 573.2,518.9 573.8,520.5 574.4,526.0 574.9,520.7 575.5,521.6 576.1,532.0 576.7,531.0 577.2,529.9 577.8,526.1 578.4,524.5 578.9,521.8 579.5,520.2 580.1,529.1 580.6,525.0 581.2,532.9 581.8,528.9 582.4,534.4 582.9,539.7 583.5,542.2 584.1,543.3 584.6,552.0 585.2,547.1 585.8,555.1 586.3,556.3 586.9,557.0 587.5,554.1 588.1,559.5 588.6,560.9 589.2,560.2 589.8,561.3 590.3,561.6 590.9,560.7 591.5,562.0 592.0,560.9 592.6,558.0 593.2,563.7 593.8,558.6 594.3,556.6 594.9,563.2 595.5,566.8 596.0,559.7 596.6,558.9 597.2,561.4 597.7,559.8 598.3,557.6 598.9,558.5 599.5,560.3 600.0,558.6 600.6,562.3 601.2,561.2 601.7,561.0 602.3,558.0 602.9,564.8 603.4,563.2 604.0,562.3 604.6,559.3 605.2,566.4 605.7,563.8 606.3,565.3 606.9,562.8 607.4,563.3 608.0,563.6 608.6,558.6 609.1,557.8 609.7,563.0 610.3,558.3 610.9,555.6 611.4,560.5 612.0,564.9 612.6,560.4 613.1,562.0 613.7,565.6 614.3,557.7 614.8,558.3 615.4,556.9 616.0,561.0 616.6,559.2 617.1,564.6 617.7,562.6 618.3,560.2 618.8,567.1 619.4,567.5 620.0,569.3 620.5,563.7 621.1,565.8 621.7,566.9 622.3,569.2 622.8,569.6 623.4,562.8 624.0,561.3 624.5,562.1 625.1,562.4 625.7,568.0 626.2,566.1 626.8,560.1 627.4,564.5 628.0,564.1 628.5,561.9 629.1,564.7 629.7,558.1 630.2,565.2 630.8,558.7 631.4,567.2 631.9,563.7 632.5,567.0 633.1,559.8 633.7,560.5 634.2,567.2 634.8,559.2 635.4,561.4 635.9,565.8 636.5,566.2 637.1,558.3 637.6,557.5 638.2,563.6 638.8,559.5 639.4,560.4 639.9,558.0 640.5,561.3 641.1,566.1 641.6,563.6 642.2,557.9 642.8,558.5 643.3,567.5 643.9,565.0 644.5,560.4 645.1,565.1 645.6,566.6 646.2,566.3 646.8,563.7 647.3,557.6 647.9,564.7 648.5,562.8 649.0,565.0 649.6,562.2 650.2,567.2 650.8,567.0 651.3,561.9 651.9,559.7 652.5,564.4 653.0,559.6 653.6,560.6 654.2,558.7 654.7,559.8 655.3,558.9 655.9,562.5 656.5,561.5 657.0,557.1 657.6,562.4 658.2,563.5 658.7,560.3 659.3,556.1 659.9,564.5 660.4,564.0 661.0,557.1 661.6,559.3 662.2,564.6 662.7,563.5 663.3,558.6 663.9,560.9 664.4,558.0 665.0,567.2 665.6,566.2 666.1,560.7 666.7,562.7 667.3,566.2 667.9,564.0 668.4,559.6 669.0,567.3 669.6,567.2 670.1,560.2 670.7,569.0 671.3,564.4 671.8,564.7 672.4,565.0 673.0,566.7 673.6,562.4 674.1,560.0 674.7,561.9 675.3,567.0 675.8,564.7 676.4,564.0 677.0,564.2 677.5,563.6 678.1,568.2 678.7,568.3 679.3,561.8 679.8,558.3 680.4,560.3 681.0,561.6 681.5,563.6 682.1,566.6 682.7,566.5 683.2,564.2 683.8,568.3 684.4,558.9 685.0,561.5 685.5,565.0 686.1,563.3 686.7,562.0 687.2,563.9 687.8,556.9 688.4,564.5 688.9,562.3 689.5,565.5 690.1,558.0 690.7,560.0 691.2,566.0 691.8,559.1 692.4,563.0 692.9,565.3 693.5,561.1 694.1,560.7 694.6,560.8 695.2,558.2 695.8,561.3 696.4,563.9 696.9,562.4 697.5,561.4 698.1,562.9 698.6,560.4 699.2,559.8 699.8,569.8 700.3,563.9 700.9,567.3 701.5,566.4 702.1,561.9 702.6,561.8 703.2,565.1 703.8,563.1 704.3,564.2 704.9,562.7 705.5,560.8 706.0,562.0 706.6,560.1 707.2,556.5 707.8,562.2 708.3,567.3 708.9,565.2 709.5,559.9 710.0,562.1 710.6,557.4 711.2,563.3 711.7,560.1 712.3,562.3 712.9,566.6 713.5,562.9 714.0,565.2 714.6,557.3 715.2,561.1 715.7,564.3 716.3,560.3 716.9,564.2 717.4,561.7 718.0,562.4 718.6,557.4 719.2,563.0 719.7,557.3 720.3,557.7 720.9,556.2 721.4,557.9 722.0,557.8 722.6,567.8 723.1,566.6 723.7,566.1 724.3,558.8 724.9,559.9 725.4,566.1 726.0,564.7 726.6,555.9 727.1,559.0 727.7,558.6 728.3,554.6 728.8,552.5 729.4,550.7 730.0,554.2 730.6,548.4 731.1,550.4 731.7,540.5 732.3,543.3 732.8,544.6 733.4,534.5 734.0,531.8 734.5,538.7 735.1,532.8 735.7,537.1 736.3,531.9 736.8,537.9 737.4,537.9 738.0,534.5 738.5,538.4 739.1,541.6 739.7,544.2 740.2,544.3 740.8,550.0 741.4,552.3 742.0,545.9 742.5,553.9 743.1,546.8 743.7,547.7 744.2,548.8 744.8,543.4 745.4,536.7 745.9,535.4 746.5,525.4 747.1,516.4 747.7,517.8 748.2,510.1 748.8,511.2 749.4,500.1 749.9,506.5 750.5,504.5 751.1,502.7 751.6,510.5 752.2,519.7 752.8,525.8 753.4,528.7 753.9,534.9 754.5,541.7 755.1,546.5 755.6,545.5 756.2,543.0 756.8,551.4 757.3,546.4 757.9,547.7 758.5,553.5 759.1,555.8 759.6,551.2 760.2,557.9 760.8,559.8 761.3,562.4 761.9,557.9 762.5,563.7 763.0,555.7 763.6,559.4 764.2,555.6 764.8,556.7 765.3,555.3 765.9,563.2 766.5,562.8 767.0,558.8 767.6,553.4 768.2,554.6 768.7,553.5 769.3,554.0 769.9,554.4 770.5,552.3 771.0,551.0 771.6,552.6 772.2,545.9 772.7,543.7 773.3,539.3 773.9,532.5 774.4,531.0 775.0,521.0 775.6,514.6 776.2,513.5 776.7,508.7 777.3,496.5 777.9,495.2 778.4,486.4 779.0,485.2 779.6,486.3 780.1,485.9 780.7,484.4 781.3,491.1 781.9,495.0 782.4,492.7 783.0,505.8 783.6,504.4 784.1,517.6 784.7,520.2 785.3,529.3 785.8,527.6 786.4,537.0 787.0,535.2 787.6,541.9 788.1,544.6 788.7,547.1 789.3,545.9 789.8,544.4 790.4,540.4 791.0,548.6 791.5,547.4 792.1,542.6 792.7,548.4 793.3,544.1 793.8,545.5 794.4,541.5 795.0,543.0 795.5,539.4 796.1,537.5 796.7,533.1 797.2,518.9 797.8,520.3 798.4,518.7 799.0,503.0 799.5,504.8 800.1,493.2 800.7,489.1 801.2,476.8 801.8,476.1 802.4,471.9 802.9,464.7 803.5,458.7 804.1,455.5 804.7,447.6 805.2,440.6 805.8,442.2 806.4,445.6 806.9,442.1 807.5,446.5 808.1,455.4 808.6,453.0 809.2,459.4 809.8,469.4 810.4,482.0 810.9,481.3 811.5,492.6 812.1,500.4 812.6,500.1 813.2,514.6 813.8,519.6 814.3,516.5 814.9,525.5 815.5,529.1 816.1,536.5 816.6,532.9 817.2,540.2 817.8,540.8 818.3,548.7 818.9,546.2 819.5,555.4 820.0,551.4 820.6,548.6 821.2,552.0 821.8,554.6 822.3,551.4 822.9,551.3 823.5,558.9 824.0,557.8 824.6,553.1 825.2,560.8 825.7,554.7 826.3,562.4 826.9,563.1 827.5,557.6 828.0,555.2 828.6,561.0 829.2,561.5 829.7,559.2 830.3,560.1 830.9,556.3 831.4,566.0 832.0,556.7 832.6,560.1 833.2,557.8 833.7,561.8 834.3,557.9 834.9,556.4 835.4,561.6 836.0,559.2 836.6,563.8 837.1,560.1 837.7,566.6 838.3,562.9 838.9,561.6 839.4,560.9 840.0,561.3 840.6,560.8 841.1,560.4 841.7,556.7 842.3,562.9 842.8,559.0 843.4,557.7 844.0,561.9 844.6,562.4 845.1,559.8 845.7,563.9 846.3,559.0 846.8,557.7 847.4,559.8 848.0,565.5 848.5,558.4 849.1,563.5 849.7,561.9 850.3,561.1 850.8,557.7 851.4,558.2 852.0,562.7 852.5,558.7 853.1,555.7 853.7,560.2 854.2,555.6 854.8,555.3 855.4,554.6 856.0,555.8 856.5,554.6 857.1,551.4 857.7,545.7 858.2,544.5 858.8,547.1 859.4,538.5 859.9,544.0 860.5,539.6 861.1,536.7 861.7,538.2 862.2,528.2 862.8,532.2 863.4,529.8 863.9,533.8 864.5,532.7 865.1,533.4 865.6,533.1 866.2,539.6 866.8,537.8 867.4,535.8 867.9,536.0 868.5,546.6 869.1,547.6 869.6,546.2 870.2,548.2 870.8,550.2 871.3,547.2 871.9,541.8 872.5,544.9 873.1,541.6 873.6,534.9 874.2,535.5 874.8,535.6 875.3,530.6 875.9,518.6 876.5,518.0 877.0,503.4 877.6,496.8 878.2,487.1 878.8,480.5 879.3,479.2 879.9,464.2 880.5,458.5 881.0,455.1 881.6,458.0 882.2,451.2 882.7,453.2 883.3,457.4 883.9,465.5 884.5,466.3 885.0,476.4 885.6,484.1 886.2,482.9 886.7,499.6 887.3,501.2 887.9,511.2 888.4,513.6 889.0,530.2 889.6,527.5 890.2,541.7 890.7,541.2 891.3,546.6 891.9,548.7 892.4,544.0 893.0,552.7 893.6,549.3 894.1,549.1 894.7,558.9 895.3,552.8 895.9,560.7 896.4,555.1 897.0,561.4 897.6,562.8 898.1,558.5 898.7,559.9 899.3,564.3 899.8,556.9 900.4,555.1 901.0,563.0 901.6,564.4 902.1,558.8 902.7,556.6 903.3,556.6 903.8,559.1 904.4,563.5 905.0,561.7 905.5,562.2 906.1,558.1 906.7,557.6 907.3,561.9 907.8,564.7 908.4,561.6 909.0,564.6 909.5,558.4 910.1,556.7 910.7,553.4 911.2,555.3 911.8,560.2 912.4,560.5 913.0,554.1 913.5,554.4 914.1,550.6 914.7,552.8 915.2,551.0 915.8,555.3 916.4,552.4 916.9,551.8 917.5,541.4 918.1,541.0 918.7,544.1 919.2,534.4 919.8,532.4 920.4,526.7 920.9,522.6 921.5,525.5 922.1,519.3 922.6,514.7 923.2,510.6 923.8,509.2 924.4,495.9 924.9,488.6 925.5,482.3 926.1,475.3 926.6,474.7 927.2,465.8 927.8,453.9 928.3,448.8 928.9,437.4 929.5,433.9 930.1,427.9 930.6,413.9 931.2,414.8 931.8,408.0 932.3,404.9 932.9,395.7 933.5,393.1 934.0,385.8 934.6,394.9 935.2,394.5 935.8,394.9 936.3,399.5 936.9,398.2 937.5,409.8 938.0,415.0 938.6,416.6 939.2,429.4 939.7,434.5 940.3,443.5 940.9,445.0 941.5,460.2 942.0,463.7 942.6,477.1 943.2,486.8 943.7,484.3 944.3,497.3 944.9,496.0 945.4,503.9 946.0,516.0 946.6,517.4 947.2,523.2 947.7,525.4 948.3,528.7 948.9,530.1 949.4,538.6 950.0,544.5 950.6,541.3 951.1,543.3 951.7,548.4 952.3,543.2 952.9,550.9 953.4,555.0 954.0,547.2 954.6,556.5 955.1,554.7 955.7,555.8 956.3,547.2 956.8,551.3 957.4,553.5 958.0,553.3 958.6,546.9 959.1,554.7 959.7,545.8 960.3,552.7 960.8,555.9 961.4,556.0 962.0,557.9 962.5,554.5 963.1,560.5 963.7,562.1 964.3,560.5 964.8,562.4 965.4,557.4 966.0,560.7 966.5,568.9 967.1,566.1 967.7,569.7 968.2,569.0 968.8,568.6 969.4,566.5 970.0,569.2 970.5,566.4 971.1,565.6 971.7,568.3 972.2,567.7 972.8,570.4 973.4,569.8 973.9,566.2 974.5,564.9 975.1,569.3 975.7,564.5 976.2,565.8 976.8,568.2 977.4,571.1 977.9,567.4 978.5,567.0 979.1,570.9 979.6,571.7 980.2,570.7 980.8,573.0 981.4,569.7 981.9,575.2 982.5,572.1 983.1,568.1 983.6,567.8 984.2,572.5 984.8,565.3 985.3,570.1 985.9,571.8 986.5,569.6 987.1,575.7 987.6,575.7 988.2,573.3 988.8,572.7 989.3,574.1 989.9,574.4 990.5,575.6 991.0,570.2 991.6,570.8 992.2,573.3 992.8,575.4 993.3,574.5 993.9,578.1 994.5,573.3 995.0,572.4 995.6,575.0 996.2,578.4 996.7,575.0 997.3,573.8 997.9,573.9 998.5,568.2 999.0,568.2 999.6,573.7 1000.2,570.4 1000.7,576.3 1001.3,574.6 1001.9,577.3 1002.4,576.8 1003.0,573.7 1003.6,576.8 1004.2,571.1 1004.7,575.9 1005.3,573.1 1005.9,577.4 1006.4,574.4 1007.0,572.4 1007.6,578.4 1008.1,577.4 1008.7,577.8 1009.3,574.8 1009.9,577.8 1010.4,570.6 1011.0,573.8 1011.6,569.9 1012.1,576.9 1012.7,572.4 1013.3,574.3 1013.8,574.2 1014.4,573.0 1015.0,573.0 1015.6,574.3 1016.1,571.0 1016.7,571.8 1017.3,570.1 1017.8,570.9 1018.4,570.5 1019.0,573.2 1019.5,570.7 1020.1,571.6 1020.7,579.3 1021.3,576.0 1021.8,577.1 1022.4,578.7 1023.0,571.8 1023.5,574.0 1024.1,575.6 1024.7,580.6 1025.2,578.4 1025.8,580.0 1026.4,577.3 1027.0,574.7 1027.5,576.6 1028.1,573.6 1028.7,578.7 1029.2,577.8 1029.8,574.5 1030.4,577.9 1030.9,573.0 1031.5,579.5 1032.1,572.5 1032.7,576.1 1033.2,574.9 1033.8,571.5 1034.4,575.8 1034.9,570.2 1035.5,570.2 1036.1,572.8 1036.6,579.5 1037.2,570.4 1037.8,571.7 1038.4,572.2 1038.9,576.0 1039.5,574.5 1040.1,577.6 1040.6,573.5 1041.2,573.7 1041.8,580.4 1042.3,575.8 1042.9,573.7 1043.5,573.1 1044.1,572.9 1044.6,576.6 1045.2,575.1 1045.8,572.0 1046.3,576.2 1046.9,572.4 1047.5,579.5 1048.0,578.6 1048.6,579.1 1049.2,580.6 1049.8,578.2 1050.3,572.0 1050.9,572.8 1051.5,580.2 1052.0,576.7 1052.6,582.0 1053.2,572.9 1053.7,581.2 1054.3,571.9 1054.9,579.0 1055.5,573.4 1056.0,577.0 1056.6,569.7 1057.2,571.3 1057.7,576.4 1058.3,571.9 1058.9,570.0 1059.4,573.4 1060.0,576.5 1060.6,574.0 1061.2,569.6 1061.7,579.3 1062.3,569.1 1062.9,574.7 1063.4,573.0 1064.0,573.8 1064.6,576.2 1065.1,572.4 1065.7,568.2 1066.3,574.6 1066.9,569.6 1067.4,571.2 1068.0,567.1 1068.6,566.3 1069.1,568.0 1069.7,565.2 1070.3,563.5 1070.8,569.4 1071.4,564.9 1072.0,558.8 1072.6,556.5 1073.1,555.4 1073.7,556.0 1074.3,560.3 1074.8,560.2 1075.4,558.6 1076.0,557.4 1076.5,564.4 1077.1,564.7 1077.7,564.4 1078.3,567.2 1078.8,571.8 1079.4,567.5 1080.0,572.6 1080.5,573.7 1081.1,565.2 1081.7,570.2 1082.2,574.9 1082.8,571.4 1083.4,569.7 1084.0,575.2 1084.5,578.0 1085.1,571.4 1085.7,575.3 1086.2,576.4 1086.8,571.9 1087.4,574.6 1087.9,571.4 1088.5,570.7 1089.1,571.6 1089.7,569.1 1090.2,572.4 1090.8,570.0 1091.4,569.4 1091.9,570.5 1092.5,566.2 1093.1,568.6 1093.6,570.9 1094.2,572.5 1094.8,571.8 1095.4,567.5 1095.9,572.0 1096.5,568.2 1097.1,570.7 1097.6,570.1 1098.2,570.1 1098.8,571.6 1099.3,571.9 1099.9,578.8 1100.5,576.0 1101.1,575.2 1101.6,574.0 1102.2,579.7 1102.8,576.3 1103.3,579.1 1103.9,575.1 1104.5,573.4 1105.0,579.9 1105.6,579.5 1106.2,579.5 1106.8,580.3 1107.3,576.6 1107.9,574.4 1108.5,581.8 1109.0,577.5 1109.6,582.1 1110.2,574.5 1110.7,573.9 1111.3,574.5 1111.9,582.2 1112.5,578.6 1113.0,577.8 1113.6,578.4 1114.2,579.5 1114.7,573.6 1115.3,570.0 1115.9,576.6 1116.4,577.6 1117.0,576.4 1117.6,571.7 1118.2,578.1 1118.7,577.4 1119.3,580.7 1119.9,580.7 1120.4,583.9 1121.0,576.8 1121.6,577.6 1122.1,573.6 1122.7,579.5 1123.3,576.8 1123.9,581.3 1124.4,573.2 1125.0,577.9 1125.6,580.6 1126.1,576.4 1126.7,578.1 1127.3,581.9 1127.8,580.9 1128.4,571.5 1129.0,577.1 1129.6,573.8 1130.1,574.7 1130.7,572.4 1131.3,579.9 1131.8,576.2 1132.4,572.7 1133.0,575.0 1133.5,568.5 1134.1,574.7 1134.7,573.7 1135.3,570.4 1135.8,564.0 1136.4,568.5 1137.0,560.1 1137.5,559.8 1138.1,562.4 1138.7,558.9 1139.2,563.1 1139.8,563.2 1140.4,560.9 1141.0,557.1 1141.5,564.8 1142.1,562.0 1142.7,563.4 1143.2,554.9 1143.8,554.5 1144.4,554.2 1144.9,560.4 1145.5,562.7 1146.1,558.2 1146.7,565.7 1147.2,564.9 1147.8,561.4 1148.4,568.5 1148.9,566.3 1149.5,564.4 1150.1,563.8 1150.6,565.3 1151.2,566.5 1151.8,571.8 1152.4,568.1 1152.9,567.3 1153.5,570.7 1154.1,567.4 1154.6,573.8 1155.2,569.9 1155.8,572.3 1156.3,570.8 1156.9,572.5 1157.5,566.9 1158.1,572.7 1158.6,565.2 1159.2,575.5 1159.8,567.9 1160.3,564.3 1160.9,566.7 1161.5,570.8 1162.0,564.7 1162.6,564.8 1163.2,572.6 1163.8,573.1 1164.3,571.2 1164.9,576.8 1165.5,576.5 1166.0,570.3 1166.6,573.6 1167.2,577.7 1167.7,576.2 1168.3,575.9 1168.9,577.2 1169.5,574.8 1170.0,582.3 1170.6,580.7 1171.2,577.7 1171.7,582.3 1172.3,576.7 1172.9,580.5 1173.4,578.5 1174.0,575.3 1174.6,576.8 1175.2,577.8 1175.7,573.7 1176.3,579.2 1176.9,575.6 1177.4,581.9 1178.0,573.8 1178.6,578.5 1179.1,576.1 1179.7,581.7 1180.3,575.8 1180.9,581.1 1181.4,573.0 1182.0,575.2 1182.6,573.1 1183.1,573.8 1183.7,577.8 1184.3,581.3 1184.8,572.1 1185.4,574.6 1186.0,580.2 1186.6,576.4 1187.1,573.5 1187.7,580.0 1188.3,578.1 1188.8,585.4 1189.4,576.8 1190.0,582.1 1190.5,580.7 1191.1,584.5 1191.7,583.3 1192.3,579.0 1192.8,574.8 1193.4,579.0 1194.0,572.2 1194.5,576.7 1195.1,578.1 1195.7,576.0 1196.2,578.6 1196.8,573.6 1197.4,577.9 1198.0,573.6 1198.5,580.4 1199.1,576.8 1199.7,574.5 1200.2,576.2 1200.8,573.5 1201.4,578.7 1201.9,575.1 1202.5,576.8 1203.1,578.7 1203.7,582.5 1204.2,574.8 1204.8,581.4 1205.4,575.5 1205.9,571.9 1206.5,578.4 1207.1,572.5 1207.6,573.9 1208.2,582.7 1208.8,577.5 1209.4,581.4 1209.9,579.8 1210.5,576.1 1211.1,577.0 1211.6,574.6 1212.2,574.2 1212.8,576.8 1213.3,574.9 1213.9,582.4 1214.5,584.3 1215.1,581.6 1215.6,578.8 1216.2,579.0 1216.8,580.4 1217.3,575.8 1217.9,578.5 1218.5,581.6 1219.0,579.1 1219.6,573.3 1220.2,578.5 1220.8,574.0 1221.3,579.0 1221.9,573.3 1222.5,581.6 1223.0,579.1 1223.6,578.7 1224.2,578.0 1224.7,573.3 1225.3,569.4 1225.9,575.8 1226.5,574.3 1227.0,568.3 1227.6,571.9 1228.2,566.5 1228.7,565.5 1229.3,565.2 1229.9,563.5 1230.4,563.1 1231.0,568.5 1231.6,559.5 1232.2,563.7 1232.7,567.6 1233.3,569.4 1233.9,566.3 1234.4,570.4 1235.0,569.1 1235.6,574.3 1236.1,573.6 1236.7,566.5 1237.3,570.3 1237.9,575.8 1238.4,574.3 1239.0,577.9 1239.6,576.0 1240.1,570.7 1240.7,571.0 1241.3,579.5 1241.8,570.1 1242.4,571.2 1243.0,573.6 1243.6,571.7 1244.1,568.5 1244.7,572.3 1245.3,572.5 1245.8,570.4 1246.4,572.9 1247.0,567.6 1247.5,561.4 1248.1,568.1 1248.7,565.0 1249.3,559.0 1249.8,560.2 1250.4,552.7 1251.0,554.7 1251.5,552.7 1252.1,554.7 1252.7,544.9 1253.2,542.2 1253.8,538.8 1254.4,544.9 1255.0,537.6 1255.5,538.3 1256.1,539.4 1256.7,536.9 1257.2,529.1 1257.8,531.3 1258.4,529.6 1258.9,529.7 1259.5,532.2 1260.1,537.7 1260.7,544.6 1261.2,539.8 1261.8,540.6 1262.4,546.8 1262.9,545.0 1263.5,549.6 1264.1,549.2 1264.6,553.0 1265.2,557.3 1265.8,562.6 1266.4,562.5 1266.9,558.1 1267.5,561.8 1268.1,563.2 1268.6,564.3 1269.2,567.7 1269.8,573.0 1270.3,570.8 1270.9,573.1 1271.5,565.4 1272.1,575.2 1272.6,567.9 1273.2,572.1 1273.8,571.3 1274.3,576.4 1274.9,576.3 1275.5,572.3 1276.0,568.8 1276.6,576.9 1277.2,574.9 1277.8,577.4 1278.3,571.9 1278.9,578.3 1279.5,576.8 1280.0,580.1 1280.6,574.9 1281.2,576.7 1281.7,578.8 1282.3,578.7 1282.9,579.5 1283.5,575.9 1284.0,573.2 1284.6,573.8 1285.2,580.9 1285.7,572.6 1286.3,579.9 1286.9,580.5 1287.4,571.8 1288.0,574.4 1288.6,577.8 1289.2,581.4 1289.7,578.7 1290.3,575.1 1290.9,574.5 1291.4,576.0 1292.0,576.9 1292.6,582.6 1293.1,576.3 1293.7,578.9 1294.3,581.9 1294.9,575.9 1295.4,574.9 1296.0,573.2 1296.6,579.7 1297.1,581.0 1297.7,578.4 1298.3,577.9 1298.8,574.3 1299.4,578.8 1300.0,582.2 1300.6,577.5 1301.1,583.5 1301.7,573.9 1302.3,578.1 1302.8,580.1 1303.4,573.8 1304.0,581.5 1304.5,578.1 1305.1,577.7 1305.7,579.1 1306.3,582.8 1306.8,580.3 1307.4,579.5 1308.0,583.2 1308.5,576.7 1309.1,579.0 1309.7,577.4 1310.2,578.2 1310.8,581.5 1311.4,573.4 1312.0,581.5 1312.5,579.8 1313.1,573.4 1313.7,575.2 1314.2,576.5 1314.8,574.2 1315.4,576.5 1315.9,580.9 1316.5,577.9 1317.1,578.7 1317.7,581.1 1318.2,583.7 1318.8,581.6 1319.4,576.8 1319.9,581.7 1320.5,577.6 1321.1,577.5 1321.6,578.2 1322.2,575.0 1322.8,575.9 1323.4,575.6 1323.9,574.1 1324.5,581.3 1325.1,579.6 1325.6,574.3 1326.2,581.4 1326.8,575.2 1327.3,575.2 1327.9,583.1 1328.5,577.9 1329.1,576.3 1329.6,577.9 1330.2,580.8 1330.8,582.8 1331.3,582.4 1331.9,584.1 1332.5,582.9 1333.0,583.6 1333.6,577.3 1334.2,579.9 1334.8,574.2 1335.3,577.0 1335.9,578.7 1336.5,584.6 1337.0,586.1 1337.6,582.7 1338.2,581.2 1338.7,583.1 1339.3,583.1 1339.9,579.6 1340.5,586.1 1341.0,582.5 1341.6,585.0 1342.2,580.2 1342.7,582.4 1343.3,579.4 1343.9,580.9 1344.4,582.4 1345.0,574.1 1345.6,574.7 1346.2,576.0 1346.7,581.5 1347.3,577.6 1347.9,583.5 1348.4,576.0 1349.0,575.5 1349.6,578.5 1350.1,580.7 1350.7,584.5 1351.3,586.1 1351.9,578.2 1352.4,576.6 1353.0,582.3 1353.6,581.9 1354.1,585.3 1354.7,577.1 1355.3,585.5 1355.8,583.3 1356.4,581.0 1357.0,583.8 1357.6,581.6 1358.1,582.6 1358.7,578.6 1359.3,574.8 1359.8,579.2 1360.4,575.6 1361.0,582.0 1361.5,583.1 1362.1,582.5 1362.7,576.6 1363.3,582.5 1363.8,575.6 1364.4,578.2 1365.0,579.3 1365.5,582.6 1366.1,580.2 1366.7,578.8 1367.2,574.9 1367.8,575.4 1368.4,584.8 1369.0,584.4 1369.5,581.5 1370.1,581.8 1370.7,578.1 1371.2,580.0 1371.8,583.6 1372.4,575.1 1372.9,578.5 1373.5,583.6 1374.1,581.4 1374.7,581.7 1375.2,575.5 1375.8,578.7 1376.4,576.9 1376.9,575.6 1377.5,579.7 1378.1,575.9 1378.6,583.5 1379.2,579.1 1379.8,581.6 1380.4,577.7 1380.9,576.6 1381.5,584.9 1382.1,578.7 1382.6,581.8 1383.2,577.9 1383.8,580.9 1384.3,583.2 1384.9,579.3 1385.5,578.6 1386.1,577.5 1386.6,575.0 1387.2,581.4 1387.8,577.5 1388.3,575.5 1388.9,584.3 1389.5,584.9 1390.0,576.9 1390.6,582.7 1391.2,583.1 1391.8,577.0 1392.3,580.9 1392.9,573.9 1393.5,575.9 1394.0,580.3 1394.6,579.6 1395.2,576.9 1395.7,580.9 1396.3,583.5 1396.9,579.2 1397.5,578.2 1398.0,576.7 1398.6,583.5 1399.2,578.0 1399.7,580.3 1400.3,578.0 1400.9,579.0 1401.4,584.0 1402.0,582.7 1402.6,580.8 1403.2,578.5 1403.7,577.9 1404.3,583.9 1404.9,573.3 1405.4,580.4 1406.0,582.1 1406.6,577.5 1407.1,574.8 1407.7,573.9 1408.3,582.4 1408.9,578.4 1409.4,579.0 1410.0,583.6 1410.6,582.5 1411.1,575.5 1411.7,575.8 1412.3,583.0 1412.8,580.5 1413.4,578.9 1414.0,580.6 1414.6,581.1 1415.1,572.8 1415.7,574.1 1416.3,581.0 1416.8,575.0 1417.4,579.6 1418.0,575.0 1418.5,576.5 1419.1,577.5 1419.7,584.4 1420.3,582.9 1420.8,579.0 1421.4,580.7 1422.0,576.6 1422.5,575.9 1423.1,579.1 1423.7,579.3 1424.2,584.1 1424.8,576.6 1425.4,581.3 1426.0,579.8 1426.5,574.9 1427.1,577.0 1427.7,575.7 1428.2,578.9 1428.8,572.4 1429.4,577.4 1429.9,580.6 1430.5,577.9 1431.1,575.1 1431.7,578.9 1432.2,576.2 1432.8,579.3 1433.4,583.1 1433.9,578.0 1434.5,582.1 1435.1,576.9 1435.6,582.8 1436.2,576.2 1436.8,583.6 1437.4,575.2 1437.9,576.0 1438.5,580.3 1439.1,578.2 1439.6,575.0 1440.2,576.9 1440.8,575.5 1441.3,573.3 1441.9,574.2 1442.5,582.2 1443.1,577.8 1443.6,579.4 1444.2,573.2 1444.8,577.1 1445.3,579.6 1445.9,579.7 1446.5,582.8 1447.0,579.2 1447.6,581.5 1448.2,578.0 1448.8,573.9 1449.3,572.0 1449.9,581.5 1450.5,572.2 1451.0,574.9 1451.6,576.2 1452.2,577.7 1452.7,580.7 1453.3,577.9 1453.9,582.5 1454.5,578.0 1455.0,577.8 1455.6,582.5 1456.2,581.0 1456.7,575.6 1457.3,576.6 1457.9,579.2 1458.4,574.2 1459.0,577.7 1459.6,573.4 1460.2,579.1 1460.7,580.7 1461.3,575.1 1461.9,571.2 1462.4,576.3 1463.0,580.8 1463.6,581.1 1464.1,577.6 1464.7,579.6 1465.3,576.5 1465.9,572.6 1466.4,577.6 1467.0,575.6 1467.6,582.2 1468.1,581.9 1468.7,582.4 1469.3,580.3 1469.8,579.2 1470.4,575.8 1471.0,575.9 1471.6,581.4 1472.1,580.6 1472.7,575.1 1473.3,574.4 1473.8,577.4 1474.4,574.3 1475.0,581.0 1475.5,582.2 1476.1,575.4 1476.7,580.4 1477.3,578.1 1477.8,576.4 1478.4,571.5 1479.0,576.6 1479.5,574.7 1480.1,573.0 1480.7,575.8 1481.2,572.3 1481.8,582.3 1482.4,573.7 1483.0,579.2 1483.5,583.8 1484.1,575.2 1484.7,577.0 1485.2,579.0 1485.8,573.8 1486.4,578.2 1486.9,571.9 1487.5,573.3 1488.1,580.3 1488.7,581.5 1489.2,574.0 1489.8,579.7 1490.4,574.3 1490.9,572.5 1491.5,571.1 1492.1,579.2 1492.6,574.1 1493.2,575.7 1493.8,580.5 1494.4,579.5 1494.9,579.9 1495.5,579.0 1496.1,571.0 1496.6,574.5 1497.2,577.9 1497.8,572.7 1498.3,579.1 1498.9,573.0 1499.5,576.2 1500.1,576.9 1500.6,572.3 1501.2,573.0 1501.8,574.2 1502.3,573.2 1502.9,570.7 1503.5,570.8 1504.0,569.2 1504.6,562.1 1505.2,565.7 1505.8,561.2 1506.3,558.9 1506.9,560.0 1507.5,564.0 1508.0,552.2 1508.6,555.6 1509.2,547.5 1509.7,553.5 1510.3,547.6 1510.9,548.7 1511.5,542.8 1512.0,533.8 1512.6,538.1 1513.2,526.3 1513.7,524.6 1514.3,525.0 1514.9,520.1 1515.4,522.1 1516.0,522.5 1516.6,519.6 1517.2,518.6 1517.7,516.9 1518.3,520.4 1518.9,526.9 1519.4,523.0 1520.0,525.3 1520.6,531.0 1521.1,531.8 1521.7,534.4 1522.3,541.9 1522.9,546.8 1523.4,542.3 1524.0,553.0 1524.6,547.7 1525.1,550.5 1525.7,561.9 1526.3,558.4 1526.8,564.4 1527.4,561.7 1528.0,560.0 1528.6,565.7 1529.1,569.2 1529.7,568.5 1530.3,566.7 1530.8,571.8 1531.4,573.9 1532.0,572.3 1532.5,575.4 1533.1,572.1 1533.7,573.2 1534.3,576.3 1534.8,569.5 1535.4,574.8 1536.0,573.5 1536.5,571.7 1537.1,576.6 1537.7,571.9 1538.2,577.3 1538.8,574.3 1539.4,579.3 1540.0,572.8 1540.5,571.5 1541.1,575.5 1541.7,572.5 1542.2,572.1 1542.8,577.9 1543.4,572.4 1543.9,572.2 1544.5,577.9 1545.1,568.4 1545.7,572.4 1546.2,578.3 1546.8,575.8 1547.4,573.1 1547.9,573.2 1548.5,576.6 1549.1,579.4 1549.6,580.7 1550.2,574.1 1550.8,579.1 1551.4,572.3 1551.9,577.8 1552.5,572.3 1553.1,578.2 1553.6,579.5 1554.2,572.1 1554.8,579.6 1555.3,574.9 1555.9,580.2 1556.5,577.6 1557.1,574.1 1557.6,573.1 1558.2,572.8 1558.8,579.1 1559.3,575.1 1559.9,576.3 1560.5,573.5 1561.0,572.0 1561.6,575.2 1562.2,582.1 1562.8,576.1 1563.3,576.0 1563.9,582.0 1564.5,576.4 1565.0,577.3 1565.6,577.4 1566.2,583.7 1566.7,574.8 1567.3,573.1 1567.9,575.0 1568.5,576.8 1569.0,575.5 1569.6,581.3 1570.2,583.1 1570.7,573.9 1571.3,581.6 1571.9,575.0 1572.4,580.0 1573.0,577.2 1573.6,575.9 1574.2,580.6 1574.7,580.3 1575.3,583.6 1575.9,574.3 1576.4,581.5 1577.0,581.2 1577.6,579.6 1578.1,578.1 1578.7,572.2 1579.3,574.8 1579.9,579.5 1580.4,577.2 1581.0,579.1 1581.6,577.6 1582.1,579.9 1582.7,580.7 1583.3,578.6 1583.8,579.5 1584.4,582.0 1585.0,582.0 1585.6,581.3 1586.1,580.4 1586.7,576.0 1587.3,579.3 1587.8,579.1 1588.4,578.5 1589.0,577.9 1589.5,576.1 1590.1,572.6 1590.7,578.4 1591.3,582.3 1591.8,578.0 1592.4,571.4 1593.0,572.6 1593.5,574.0 1594.1,573.1 1594.7,575.3 1595.2,576.6 1595.8,578.6 1596.4,576.5 1597.0,580.5 1597.5,583.9 1598.1,582.3 1598.7,573.7 1599.2,573.6 1599.8,575.1 1600.4,576.1 1600.9,581.4 1601.5,581.0 1602.1,575.8 1602.7,573.2 1603.2,576.1 1603.8,576.0 1604.4,574.7 1604.9,582.7 1605.5,579.6 1606.1,581.7 1606.6,584.2 1607.2,576.0 1607.8,579.2 1608.4,581.2 1608.9,578.0 1609.5,581.1 1610.1,575.9 1610.6,579.7 1611.2,582.9 1611.8,582.3 1612.3,578.1 1612.9,582.4 1613.5,580.3 1614.1,579.4 1614.6,582.1 1615.2,581.3 1615.8,579.2 1616.3,574.4 1616.9,577.3 1617.5,581.0 1618.0,572.9 1618.6,574.7 1619.2,578.0 1619.8,572.5 1620.3,572.3 1620.9,575.3 1621.5,579.4 1622.0,578.0 1622.6,578.9 1623.2,578.8 1623.7,581.6 1624.3,575.4 1624.9,574.9 1625.5,582.0 1626.0,574.4 1626.6,575.5 1627.2,577.7 1627.7,574.1 1628.3,572.5 1628.9,581.9 1629.4,573.8 1630.0,580.7 1630.6,580.9 1631.2,578.3 1631.7,581.6 1632.3,573.3 1632.9,582.3 1633.4,579.3 1634.0,574.8 1634.6,574.5 1635.1,582.7 1635.7,574.7 1636.3,573.3 1636.9,578.3 1637.4,578.1 1638.0,571.8 1638.6,580.9 1639.1,578.2 1639.7,574.5 1640.3,574.4 1640.8,578.8 1641.4,579.5 1642.0,580.7 1642.6,582.9 1643.1,582.8 1643.7,578.8 1644.3,580.8 1644.8,579.3 1645.4,575.5 1646.0,575.3 1646.5,580.8 1647.1,577.8 1647.7,578.9 1648.3,573.4 1648.8,574.4 1649.4,576.8 1650.0,578.5 1650.5,569.8 1651.1,573.7 1651.7,573.8 1652.2,580.9 1652.8,574.9 1653.4,579.1 1654.0,582.5 1654.5,580.9 1655.1,578.0 1655.7,571.6 1656.2,576.6 1656.8,572.3 1657.4,577.4 1657.9,575.2 1658.5,572.2 1659.1,573.3 1659.7,580.6 1660.2,579.1 1660.8,578.5 1661.4,574.5 1661.9,573.1 1662.5,576.1 1663.1,579.3 1663.6,571.3 1664.2,572.0 1664.8,571.8 1665.4,569.2 1665.9,570.5 1666.5,577.4 1667.1,576.5 1667.6,578.5 1668.2,576.1 1668.8,580.4 1669.3,574.3 1669.9,573.7 1670.5,577.4 1671.1,574.7 1671.6,570.9 1672.2,575.8 1672.8,575.8 1673.3,570.6 1673.9,573.7 1674.5,572.4 1675.0,575.3 1675.6,580.3 1676.2,576.0 1676.8,569.9 1677.3,573.2 1677.9,569.1 1678.5,566.2 1679.0,570.8 1679.6,567.7 1680.2,568.1 1680.7,562.2 1681.3,561.3 1681.9,570.0 1682.5,560.6 1683.0,561.8 1683.6,560.6 1684.2,561.0 1684.7,563.4 1685.3,559.8 1685.9,556.7 1686.4,555.0 1687.0,557.8 1687.6,549.5 1688.2,552.5 1688.7,545.7 1689.3,544.0 1689.9,537.8 1690.4,537.9 1691.0,536.6 1691.6,529.9 1692.1,532.7 1692.7,529.8 1693.3,531.8 1693.9,529.6 1694.4,527.6 1695.0,531.3 1695.6,524.9 1696.1,529.3 1696.7,531.4 1697.3,530.6 1697.8,535.2 1698.4,536.3 1699.0,538.9 1699.6,541.3 1700.1,548.6 1700.7,540.8 1701.3,551.5 1701.8,550.4 1702.4,549.3 1703.0,553.7 1703.5,561.1 1704.1,557.2 1704.7,557.7 1705.3,558.9 1705.8,567.5 1706.4,568.5 1707.0,566.1 1707.5,560.9 1708.1,563.7 1708.7,567.7 1709.2,562.6 1709.8,563.6 1710.4,572.1 1711.0,569.2 1711.5,571.5 1712.1,572.1 1712.7,568.8 1713.2,568.1 1713.8,574.8 1714.4,571.5 1714.9,574.8 1715.5,574.1 1716.1,574.0 1716.7,572.1 1717.2,578.1 1717.8,568.9 1718.4,572.9 1718.9,575.8 1719.5,570.2 1720.1,573.6 1720.6,573.5 1721.2,575.2 1721.8,577.4 1722.4,572.5 1722.9,580.1 1723.5,572.5 1724.1,581.7 1724.6,577.5 1725.2,575.2 1725.8,571.5 1726.3,577.7 1726.9,570.4 1727.5,578.0 1728.1,575.0 1728.6,579.5 1729.2,578.8 1729.8,581.7 1730.3,577.0 1730.9,576.3 1731.5,574.8 1732.0,575.3 1732.6,581.9 1733.2,581.3 1733.8,574.8 1734.3,579.4 1734.9,579.2 1735.5,577.0 1736.0,576.5 1736.6,577.2 1737.2,572.2 1737.7,576.0 1738.3,575.3 1738.9,572.2 1739.5,582.1 1740.0,577.2 1740.6,574.5 1741.2,576.8 1741.7,577.5 1742.3,574.5 1742.9,574.9 1743.4,576.4 1744.0,573.2 1744.6,582.3 1745.2,573.3 1745.7,576.9 1746.3,574.5 1746.9,583.4 1747.4,582.2 1748.0,576.0 1748.6,573.5 1749.1,574.2 1749.7,575.1 1750.3,578.2 1750.9,572.9 1751.4,578.3 1752.0,574.8 1752.6,579.4 1753.1,582.1 1753.7,573.9 1754.3,573.0 1754.8,576.8 1755.4,576.3 1756.0,571.8 1756.6,571.9 1757.1,572.0 1757.7,579.9 1758.3,573.3 1758.8,572.9 1759.4,582.7 1760.0,573.6 1760.5,581.5 1761.1,573.4 1761.7,581.4 1762.3,581.4 1762.8,580.0 1763.4,580.5 1764.0,574.4 1764.5,582.1 1765.1,582.0 1765.7,581.1 1766.2,575.0 1766.8,580.3 1767.4,581.0 1768.0,579.5 1768.5,574.9 1769.1,572.4 1769.7,573.5 1770.2,583.5 1770.8,573.9 1771.4,580.8 1771.9,582.9 1772.5,584.4 1773.1,578.4 1773.7,581.5 1774.2,584.0 1774.8,580.4 1775.4,573.0 1775.9,576.0 1776.5,574.9 1777.1,574.9 1777.6,572.0 1778.2,576.4 1778.8,576.2 1779.4,580.2 1779.9,582.7 1780.5,577.1 1781.1,581.1 1781.6,575.9 1782.2,582.6 1782.8,576.7 1783.3,576.8 1783.9,581.4 1784.5,582.6 1785.1,575.2 1785.6,582.9 1786.2,581.6 1786.8,579.0 1787.3,580.6 1787.9,577.2 1788.5,572.7 1789.0,578.5 1789.6,572.7 1790.2,580.5 1790.8,573.7 1791.3,579.3 1791.9,573.7 1792.5,582.5 1793.0,583.2 1793.6,580.2 1794.2,572.8 1794.7,572.4 1795.3,572.0 1795.9,579.3 1796.5,570.0 1797.0,568.8 1797.6,568.5 1798.2,570.7 1798.7,565.9 1799.3,569.3 1799.9,574.5 1800.4,570.0 1801.0,564.7 1801.6,565.7 1802.2,568.8 1802.7,572.5 1803.3,572.1 1803.9,564.9 1804.4,571.2 1805.0,567.2 1805.6,570.0 1806.1,569.0 1806.7,566.2 1807.3,573.6 1807.9,570.8 1808.4,572.0 1809.0,570.0 1809.6,575.2 1810.1,575.6 1810.7,576.5 1811.3,570.0 1811.8,576.1 1812.4,569.8 1813.0,574.9 1813.6,576.2 1814.1,576.6 1814.7,573.8 1815.3,581.4 1815.8,581.8 1816.4,582.1 1817.0,575.9 1817.5,574.1 1818.1,573.2 1818.7,574.9 1819.3,573.6 1819.8,575.8 1820.4,579.2 1821.0,578.3 1821.5,579.3 1822.1,579.9 1822.7,580.8 1823.2,580.1 1823.8,574.4 1824.4,571.0 1825.0,575.9 1825.5,575.9 1826.1,574.1 1826.7,574.7 1827.2,571.1 1827.8,571.4 1828.4,575.5 1828.9,574.3 1829.5,569.5 1830.1,571.2 1830.7,573.9 1831.2,574.7 1831.8,565.4 1832.4,566.0 1832.9,564.2 1833.5,566.8 1834.1,565.9 1834.6,558.2 1835.2,565.2 1835.8,564.7 1836.4,555.6 1836.9,561.7 1837.5,555.0 1838.1,555.5 1838.6,549.3 1839.2,552.8 1839.8,551.5 1840.3,545.7 1840.9,545.1 1841.5,540.4 1842.1,545.3 1842.6,541.8 1843.2,545.6 1843.8,537.5 1844.3,544.2 1844.9,541.3 1845.5,545.2 1846.0,545.3 1846.6,541.9 1847.2,540.4 1847.8,549.2 1848.3,545.4 1848.9,552.0 1849.5,556.2 1850.0,550.3 1850.6,557.1 1851.2,558.2 1851.7,556.1 1852.3,561.9 1852.9,561.3 1853.5,560.1 1854.0,565.5 1854.6,562.8 1855.2,563.0 1855.7,565.8 1856.3,567.8 1856.9,566.9 1857.4,572.9 1858.0,563.1 1858.6,568.9 1859.2,564.4 1859.7,569.9 1860.3,564.6 1860.9,571.7 1861.4,573.0 1862.0,569.1 1862.6,568.5 1863.1,563.6 1863.7,564.9 1864.3,568.0 1864.9,562.8 1865.4,566.4 1866.0,568.7 1866.6,567.5 1867.1,563.9 1867.7,564.5 1868.3,569.4 1868.8,564.6 1869.4,561.7 1870.0,560.1 1870.6,562.5 1871.1,561.0 1871.7,565.5 1872.3,559.9 1872.8,561.7 1873.4,563.4 1874.0,561.9 1874.5,562.2 1875.1,561.6 1875.7,562.3 1876.3,564.1 1876.8,558.2 1877.4,565.1 1878.0,556.7 1878.5,560.9 1879.1,560.4 1879.7,562.6 1880.2,562.4 1880.8,566.0 1881.4,562.6 1882.0,558.2 1882.5,558.8 1883.1,568.9 1883.7,567.1 1884.2,561.2 1884.8,565.5 1885.4,561.4 1885.9,564.3 1886.5,566.4 1887.1,569.5 1887.7,564.5 1888.2,565.6 1888.8,572.2 1889.4,569.5 1889.9,568.1 1890.5,569.7 1891.1,569.0 1891.6,576.6 1892.2,575.2 1892.8,578.9 1893.4,575.4 1893.9,575.6 1894.5,578.6 1895.1,572.5 1895.6,573.8 1896.2,578.0 1896.8,579.7 1897.3,571.5 1897.9,579.7 1898.5,576.2 1899.1,574.3 1899.6,575.5 1900.2,574.3 1900.8,573.2 1901.3,577.0 1901.9,575.9 1902.5,580.5 1903.0,580.4 1903.6,577.7 1904.2,580.6 1904.8,585.6 1905.3,585.4 1905.9,584.3 1906.5,586.3 1907.0,584.3 1907.6,581.5 1908.2,578.3 1908.7,583.7 1909.3,583.6 1909.9,578.7 1910.5,583.7 1911.0,583.7 1911.6,581.2 1912.2,580.9 1912.7,584.1 1913.3,576.5 1913.9,577.2 1914.4,586.2 1915.0,582.1 1915.6,584.6 1916.2,576.0 1916.7,584.8 1917.3,584.9 1917.9,582.7 1918.4,579.7 1919.0,580.5 1919.6,579.1 1920.1,578.4 1920.7,586.5 1921.3,586.1 1921.9,586.4 1922.4,577.1 1923.0,582.0 1923.6,580.6 1924.1,581.4 1924.7,585.6 1925.3,586.0 1925.8,577.3 1926.4,584.9 1927.0,586.5 1927.6,585.1 1928.1,585.9 1928.7,580.3 1929.3,577.1 1929.8,585.1 1930.4,583.6 1931.0,586.1 1931.5,586.8 1932.1,579.9 1932.7,587.2 1933.3,586.4 1933.8,579.1 1934.4,584.3 1935.0,586.8 1935.5,581.8 1936.1,579.4 1936.7,578.4 1937.2,580.4 1937.8,583.1 1938.4,580.2 1939.0,577.9 1939.5,580.6 1940.1,587.9 1940.7,587.6 1941.2,587.0 1941.8,583.9 1942.4,578.8 1942.9,588.6 1943.5,587.8 1944.1,584.2 1944.7,581.0 1945.2,581.4 1945.8,579.0 1946.4,585.5 1946.9,582.1 1947.5,580.4 1948.1,581.5 1948.6,583.2 1949.2,581.3 1949.8,580.7 1950.4,585.6 1950.9,586.1 1951.5,581.1 1952.1,584.1 1952.6,576.6 1953.2,579.1 1953.8,581.2 1954.3,579.1 1954.9,579.5 1955.5,586.2 1956.1,583.2 1956.6,585.1 1957.2,579.3 1957.8,581.4 1958.3,580.7 1958.9,582.6 1959.5,577.1 1960.0,579.6 1960.6,580.8 1961.2,577.1 1961.8,579.1 1962.3,581.6 1962.9,579.8 1963.5,580.5 1964.0,582.7 1964.6,586.5 1965.2,584.0 1965.7,585.4 1966.3,581.0 1966.9,584.8 1967.5,578.2 1968.0,586.5 1968.6,580.2 1969.2,579.2 1969.7,587.5 1970.3,579.2 1970.9,579.2 1971.4,579.1 1972.0,587.0 1972.6,577.4 1973.2,578.9 1973.7,586.3 1974.3,580.8 1974.9,585.2 1975.4,581.8 1976.0,581.1 1976.6,586.8 1977.1,578.9 1977.7,586.5 1978.3,586.8 1978.9,585.1 1979.4,577.5 1980.0,586.6 1980.6,580.3 1981.1,587.3 1981.7,585.8 1982.3,587.3 1982.8,583.9 1983.4,579.3 1984.0,579.1 1984.6,585.5 1985.1,581.5 1985.7,585.1 1986.3,583.4 1986.8,576.9 1987.4,583.5 1988.0,578.3 1988.5,587.3 1989.1,582.3 1989.7,579.2 1990.3,584.9 1990.8,580.4 1991.4,578.5 1992.0,585.5 1992.5,583.1 1993.1,580.0 1993.7,582.7 1994.2,576.8 1994.8,575.4 1995.4,581.8 1996.0,579.7 1996.5,580.9 1997.1,577.1 1997.7,578.0 1998.2,576.4 1998.8,584.6 1999.4,580.5 1999.9,575.8 2000.5,583.9 2001.1,584.6 2001.7,579.1 2002.2,587.1 2002.8,584.9 2003.4,579.3 2003.9,584.5 2004.5,585.6 2005.1,580.4 2005.6,579.3 2006.2,586.1 2006.8,580.1 2007.4,582.8 2007.9,581.5 2008.5,583.9 2009.1,587.9 2009.6,579.3 2010.2,579.7 2010.8,586.2 2011.3,587.1 2011.9,581.7 2012.5,584.1 2013.1,587.4 2013.6,581.9 2014.2,586.9 2014.8,585.4 2015.3,583.5 2015.9,585.5 2016.5,586.5 2017.0,580.4 2017.6,579.0 2018.2,579.6 2018.8,587.7 2019.3,582.1 2019.9,581.0 2020.5,580.3 2021.0,585.6 2021.6,581.9 2022.2,583.2 2022.7,579.0 2023.3,581.8 2023.9,584.6 2024.5,582.4 2025.0,582.8 2025.6,581.6 2026.2,586.4 2026.7,589.6 2027.3,581.6 2027.9,584.8 2028.4,586.8 2029.0,585.1 2029.6,585.5 2030.2,582.1 2030.7,583.2 2031.3,578.2 2031.9,582.7 2032.4,586.7 2033.0,586.2 2033.6,581.2 2034.1,586.4 2034.7,581.0 2035.3,585.5 2035.9,576.7 2036.4,580.3 2037.0,578.9 2037.6,582.8 2038.1,580.1 2038.7,583.4 2039.3,580.5 2039.8,582.2 2040.4,579.1 2041.0,582.4 2041.6,580.5 2042.1,582.9 2042.7,588.3 2043.3,584.3 2043.8,586.5 2044.4,587.3 2045.0,578.2 2045.5,587.8 2046.1,585.2 2046.7,583.8 2047.3,586.1 2047.8,582.4 2048.4,578.8 2049.0,577.6 2049.5,580.4 2050.1,580.8 2050.7,581.4 2051.2,584.8 2051.8,578.7 2052.4,584.4 2053.0,581.4 2053.5,580.4 2054.1,583.8 2054.7,585.5 2055.2,580.4 2055.8,578.2 2056.4,578.9 2056.9,583.1 2057.5,584.3 2058.1,583.7 2058.7,587.5 2059.2,580.9 2059.8,589.8 2060.4,588.3 2060.9,587.9 2061.5,582.3 2062.1,584.0 2062.6,579.7 2063.2,585.0 2063.8,578.4 2064.4,586.7 2064.9,585.5 2065.5,587.4 2066.1,583.7 2066.6,585.9 2067.2,583.5 2067.8,581.1 2068.3,587.4 2068.9,587.3 2069.5,587.2 2070.1,578.2 2070.6,582.7 2071.2,584.5 2071.8,580.9 2072.3,583.6 2072.9,580.2 2073.5,588.8 2074.0,583.3 2074.6,580.0 2075.2,585.4 2075.8,587.2 2076.3,586.0 2076.9,581.0 2077.5,581.1 2078.0,587.0 2078.6,579.7 2079.2,582.7 2079.7,580.5 2080.3,581.1 2080.9,581.9 2081.5,577.0 2082.0,586.4 2082.6,581.1 2083.2,581.3 2083.7,584.7 2084.3,587.1 2084.9,588.8 2085.4,585.3 2086.0,584.7 2086.6,587.2 2087.2,589.5 2087.7,584.2 2088.3,580.9 2088.9,586.5 2089.4,580.9 2090.0,583.5 2090.6,581.1 2091.1,575.0 2091.7,584.7 2092.3,582.7 2092.9,579.2 2093.4,580.3 2094.0,575.6 2094.6,580.2 2095.1,575.7 2095.7,573.5 2096.3,577.0 2096.8,572.8 2097.4,575.5 2098.0,574.5 2098.6,574.9 2099.1,576.0 2099.7,574.1 2100.3,573.2 2100.8,573.1 2101.4,577.7 2102.0,577.6 2102.5,571.7 2103.1,573.0 2103.7,573.7 2104.3,572.3 2104.8,578.7 2105.4,573.6 2106.0,573.8 2106.5,574.1 2107.1,574.6 2107.7,578.6 2108.2,581.7 2108.8,578.8 2109.4,581.9 2110.0,577.7 2110.5,579.6 2111.1,577.9 2111.7,585.1 2112.2,583.3 2112.8,581.5 2113.4,588.2 2113.9,583.4 2114.5,584.9 2115.1,583.4 2115.7,583.2 2116.2,583.9 2116.8,582.7 2117.4,581.3 2117.9,584.5 2118.5,586.6 2119.1,585.3 2119.6,585.1 2120.2,579.8 2120.8,588.9 2121.4,580.8 2121.9,582.0 2122.5,586.5 2123.1,583.2 2123.6,582.5 2124.2,585.3 2124.8,585.8 2125.3,586.9 2125.9,582.1 2126.5,589.7 2127.1,582.0 2127.6,587.1 2128.2,588.6 2128.8,579.3 2129.3,582.2 2129.9,581.8 2130.5,580.4 2131.0,585.3 2131.6,584.5 2132.2,579.5 2132.8,587.1 2133.3,581.2 2133.9,581.1 2134.5,585.8 2135.0,581.3 2135.6,582.2 2136.2,577.1 2136.7,587.2 2137.3,577.4 2137.9,580.7 2138.5,578.5 2139.0,586.6 2139.6,585.5 2140.2,579.7 2140.7,589.2 2141.3,581.9 2141.9,583.9 2142.4,584.0 2143.0,581.2 2143.6,578.7 2144.2,582.1 2144.7,583.2 2145.3,584.2 2145.9,579.8 2146.4,581.3 2147.0,585.9 2147.6,588.3 2148.1,586.0 2148.7,583.4 2149.3,585.9 2149.9,582.2 2150.4,584.1 2151.0,586.0 2151.6,587.9 2152.1,588.4 2152.7,585.3 2153.3,583.7 2153.8,582.3 2154.4,580.7 2155.0,586.6 2155.6,576.7 2156.1,586.7 2156.7,585.1 2157.3,579.8 2157.8,579.5 2158.4,589.6 2159.0,586.0 2159.5,582.3 2160.1,588.2 2160.7,579.2 2161.3,580.3 2161.8,587.7 2162.4,584.1 2163.0,587.4 2163.5,582.5 2164.1,586.0 2164.7,582.6 2165.2,585.1 2165.8,587.3 2166.4,579.0 2167.0,587.2 2167.5,583.8 2168.1,586.7 2168.7,585.3 2169.2,583.0 2169.8,583.2 2170.4,582.4 2170.9,585.4 2171.5,578.9 2172.1,579.7 2172.7,582.0 2173.2,590.0 2173.8,588.9 2174.4,585.5 2174.9,587.2 2175.5,588.3 2176.1,584.8 2176.6,588.5 2177.2,584.4 2177.8,587.7 2178.4,581.1 2178.9,586.0 2179.5,588.8 2180.1,586.4 2180.6,587.9 2181.2,583.9 2181.8,584.4 2182.3,586.7 2182.9,580.8 2183.5,580.5 2184.1,587.4 2184.6,580.4 2185.2,583.9 2185.8,588.4 2186.3,588.5 2186.9,589.2 2187.5,585.8 2188.0,590.2 2188.6,584.4 2189.2,586.0 2189.8,585.2 2190.3,590.2 2190.9,589.0 2191.5,588.0 2192.0,580.2 2192.6,588.9 2193.2,581.4 2193.7,583.1 2194.3,586.6 2194.9,586.6 2195.5,584.1 2196.0,582.7 2196.6,584.5 2197.2,582.5 2197.7,586.5 2198.3,580.8 2198.9,587.4 2199.4,583.6 2200.0,579.6 2200.6,587.8 2201.2,587.8 2201.7,587.0 2202.3,585.2 2202.9,583.9 2203.4,586.9 2204.0,585.4 2204.6,586.4 2205.1,589.6 2205.7,585.3 2206.3,585.8 2206.9,587.6 2207.4,579.4 2208.0,578.6 2208.6,585.6 2209.1,585.9 2209.7,586.1 2210.3,584.4 2210.8,587.8 2211.4,587.1 2212.0,588.3 2212.6,585.1 2213.1,587.7 2213.7,581.4 2214.3,578.4 2214.8,585.0 2215.4,588.8 2216.0,584.1 2216.5,581.4 2217.1,590.7 2217.7,589.0 2218.3,585.2 2218.8,580.2 2219.4,586.0 2220.0,585.8 2220.5,582.1 2221.1,582.1 2221.7,580.7 2222.2,587.9 2222.8,586.9 2223.4,586.6 2224.0,587.1 2224.5,589.2 2225.1,580.4 2225.7,587.6 2226.2,582.1 2226.8,581.4 2227.4,587.5 2227.9,585.5 2228.5,587.2 2229.1,588.1 2229.7,583.5 2230.2,584.1 2230.8,587.4 2231.4,582.1 2231.9,582.4 2232.5,585.1 2233.1,584.8 2233.6,585.4 2234.2,580.2 2234.8,586.7 2235.4,582.1 2235.9,586.2 2236.5,584.2 2237.1,581.1 2237.6,586.8 2238.2,589.7 2238.8,584.4 2239.3,581.3 2239.9,585.0 2240.5,584.3 2241.1,587.5 2241.6,582.7 2242.2,586.1 2242.8,582.9 2243.3,585.0 2243.9,580.8 2244.5,584.0 2245.0,586.6 2245.6,581.9 2246.2,577.4 2246.8,587.7 2247.3,584.2 2247.9,588.8 2248.5,580.7 2249.0,580.4 2249.6,589.6 2250.2,590.1 2250.7,588.0 2251.3,586.6 2251.9,584.1 2252.5,590.2 2253.0,589.5 2253.6,585.8 2254.2,586.6 2254.7,587.1 2255.3,585.2 2255.9,589.3 2256.4,586.6 2257.0,590.6 2257.6,590.3 2258.2,588.4 2258.7,590.5 2259.3,583.7 2259.9,589.2 2260.4,586.4 2261.0,581.1 2261.6,585.8 2262.1,590.0 2262.7,588.9 2263.3,590.7 2263.9,587.3 2264.4,583.1 2265.0,587.3 2265.6,582.1 2266.1,586.3 2266.7,587.3 2267.3,579.9 2267.8,588.6 2268.4,587.4 2269.0,583.4 2269.6,584.7 2270.1,589.4 2270.7,583.4 2271.3,582.4 2271.8,590.6 2272.4,580.6 2273.0,585.7 2273.5,583.8 2274.1,583.2 2274.7,588.2 2275.3,582.7 2275.8,589.1 2276.4,584.4 2277.0,586.0 2277.5,582.7 2278.1,580.9 2278.7,589.2 2279.2,582.0 2279.8,586.4 2280.4,584.2 2281.0,583.6 2281.5,586.9" fill="none" stroke="#404040" stroke-width="9.5" stroke-linejoin="round" stroke-linecap="butt"/>
</g>
<text transform="translate(472.26,90.70) scale(1.05,1)" font-size="74.6" text-anchor="middle" fill="#000" font-weight="normal" >20</text>
<text transform="translate(758.58,90.70) scale(1.05,1)" font-size="74.6" text-anchor="middle" fill="#000" font-weight="normal" >30</text>
<text transform="translate(1044.90,90.70) scale(1.05,1)" font-size="74.6" text-anchor="middle" fill="#000" font-weight="normal" >40</text>
<text transform="translate(1331.22,90.70) scale(1.05,1)" font-size="74.6" text-anchor="middle" fill="#000" font-weight="normal" >50</text>
<text transform="translate(1617.54,90.70) scale(1.05,1)" font-size="74.6" text-anchor="middle" fill="#000" font-weight="normal" >60</text>
<text transform="translate(1903.86,90.70) scale(1.05,1)" font-size="74.6" text-anchor="middle" fill="#000" font-weight="normal" >70</text>
<text transform="translate(2190.18,90.70) scale(1.05,1)" font-size="74.6" text-anchor="middle" fill="#000" font-weight="normal" >80</text>
<text transform="translate(468.80,2607.40) scale(1.045,1)" font-size="67.8" text-anchor="middle" fill="#000" font-weight="normal" >20</text>
<text transform="translate(755.80,2607.40) scale(1.045,1)" font-size="67.8" text-anchor="middle" fill="#000" font-weight="normal" >30</text>
<text transform="translate(1042.80,2607.40) scale(1.045,1)" font-size="67.8" text-anchor="middle" fill="#000" font-weight="normal" >40</text>
<text transform="translate(1329.80,2607.40) scale(1.045,1)" font-size="67.8" text-anchor="middle" fill="#000" font-weight="normal" >50</text>
<text transform="translate(1616.80,2607.40) scale(1.045,1)" font-size="67.8" text-anchor="middle" fill="#000" font-weight="normal" >60</text>
<text transform="translate(1903.80,2607.40) scale(1.045,1)" font-size="67.8" text-anchor="middle" fill="#000" font-weight="normal" >70</text>
<text transform="translate(2190.80,2607.40) scale(1.045,1)" font-size="67.8" text-anchor="middle" fill="#000" font-weight="normal" >80</text>
<text transform="translate(301.50,2554.20) scale(1.045,1)" font-size="67.8" text-anchor="end" fill="#000" font-weight="normal" >0</text>
<text transform="translate(301.50,2311.50) scale(1.045,1)" font-size="67.8" text-anchor="end" fill="#000" font-weight="normal" >30</text>
<text transform="translate(301.50,2068.80) scale(1.045,1)" font-size="67.8" text-anchor="end" fill="#000" font-weight="normal" >60</text>
<text transform="translate(301.50,1826.10) scale(1.045,1)" font-size="67.8" text-anchor="end" fill="#000" font-weight="normal" >90</text>
<text transform="translate(111.60,813.00) rotate(-90) scale(1,1.1)" font-size="72.3" text-anchor="middle" fill="#000" font-weight="normal" >Intensity(a.u.)</text>
<text transform="translate(115.30,2065.30) rotate(-90) scale(1,1.065)" font-size="71.2" text-anchor="middle" fill="#000" font-weight="normal" >Intensity(%)</text>
<text transform="translate(1281.7,2730.2) scale(1.09,1)" font-size="70" text-anchor="middle">2<tspan font-family="Liberation Serif, serif" font-size="68" stroke="#fff" stroke-width="0.8">θ</tspan>(degree)</text>
<text transform="translate(2087.00,294.00) scale(1.05,1)" font-size="68.8" text-anchor="start" fill="#000" font-weight="normal" >ZA2</text>
<text transform="translate(2100.50,533.80) scale(1.05,1)" font-size="68.8" text-anchor="start" fill="#000" font-weight="normal" >Z2</text>
<text transform="translate(2091.70,920.70) scale(1.05,1)" font-size="68.8" text-anchor="start" fill="#000" font-weight="normal" >ZA1</text>
<text transform="translate(2109.40,1488.30) scale(1.05,1)" font-size="68.8" text-anchor="start" fill="#000" font-weight="normal" >Z1</text>
<rect x="1510.2" y="1664.5" width="713.3" height="126.7" fill="none" stroke="#000" stroke-width="2.3"/>
<rect x="1532.7" y="1669" width="127.3" height="60" rx="2" fill="#000"/>
<rect x="1536" y="1735" width="120.7" height="55" fill="#f0f" stroke="#000" stroke-width="2"/>
<text transform="translate(1688.00,1716.50) scale(1.048,1)" font-size="52.4" text-anchor="start" fill="#000" font-weight="normal" xml:space="preserve">ZnO <tspan dx="3.3">JCPDS 36-1451</tspan></text>
<text transform="translate(1689.00,1780.00) scale(1.048,1)" font-size="52.4" text-anchor="start" fill="#000" font-weight="normal" xml:space="preserve">Au <tspan dx="2.3">JCPDS  </tspan><tspan dx="1.5">01-1172</tspan></text>
<text transform="translate(902.20,1675.80) rotate(-90) scale(1,1.06)" font-size="52.5" text-anchor="middle" fill="#000" font-weight="normal" stroke="#fff" stroke-width="1.0">(101)</text>
<text transform="translate(819.50,1941.30) rotate(-90) scale(1,1.06)" font-size="52.5" text-anchor="middle" fill="#000" font-weight="normal" stroke="#fff" stroke-width="1.0">(100)</text>
<text transform="translate(882.20,2069.50) rotate(-90) scale(1,1.06)" font-size="52.5" text-anchor="middle" fill="#000" font-weight="normal" stroke="#fff" stroke-width="1.0">(002)</text>
<text transform="translate(1316.50,2246.80) rotate(-90) scale(1,1.06)" font-size="52.5" text-anchor="middle" fill="#000" font-weight="normal" stroke="#fff" stroke-width="1.0">(102)</text>
<text transform="translate(1532.50,2188.25) rotate(-90) scale(1,1.06)" font-size="52.5" text-anchor="middle" fill="#000" font-weight="normal" stroke="#fff" stroke-width="1.0">(110)</text>
<text transform="translate(1700.90,2208.25) rotate(-90) scale(1,1.06)" font-size="52.5" text-anchor="middle" fill="#000" font-weight="normal" stroke="#fff" stroke-width="1.0">(103)</text>
<text transform="translate(1813.90,2413.70) rotate(-90) scale(1,1.06)" font-size="52.5" text-anchor="middle" fill="#000" font-weight="normal" stroke="#fff" stroke-width="1.0">(200)</text>
<text transform="translate(1854.20,2261.15) rotate(-90) scale(1,1.06)" font-size="52.5" text-anchor="middle" fill="#000" font-weight="normal" stroke="#fff" stroke-width="1.0">(112)</text>
<text transform="translate(1919.90,2348.35) rotate(-90) scale(1,1.06)" font-size="52.5" text-anchor="middle" fill="#000" font-weight="normal" stroke="#fff" stroke-width="1.0">(201)</text>
<text transform="translate(1986.50,2420.50) rotate(-90) scale(1,1.06)" font-size="52.5" text-anchor="middle" fill="#000" font-weight="normal" stroke="#fff" stroke-width="1.0">(004)</text>
<text transform="translate(2118.20,2409.50) rotate(-90) scale(1,1.06)" font-size="52.5" text-anchor="middle" fill="#000" font-weight="normal" stroke="#fff" stroke-width="1.0">(202)</text>
<text transform="translate(1075.43,1692.50) rotate(-90) scale(1,1.06)" font-size="51.5" text-anchor="middle" fill="#f0f" font-weight="bold" stroke="#fff" stroke-width="0.8">(111)</text>
<text transform="translate(1187.93,2071.15) rotate(-90) scale(1,1.06)" font-size="51.5" text-anchor="middle" fill="#f0f" font-weight="bold" stroke="#fff" stroke-width="0.8">(200)</text>
<text transform="translate(1764.63,2006.70) rotate(-90) scale(1,1.06)" font-size="51.5" text-anchor="middle" fill="#f0f" font-weight="bold" stroke="#fff" stroke-width="0.8">(220)</text>
<text transform="translate(2243.73,2150.00) rotate(-90) scale(1,1.06)" font-size="51.5" text-anchor="middle" fill="#f0f" font-weight="bold" stroke="#fff" stroke-width="0.8">(222)</text>
</svg>
</body></html>
